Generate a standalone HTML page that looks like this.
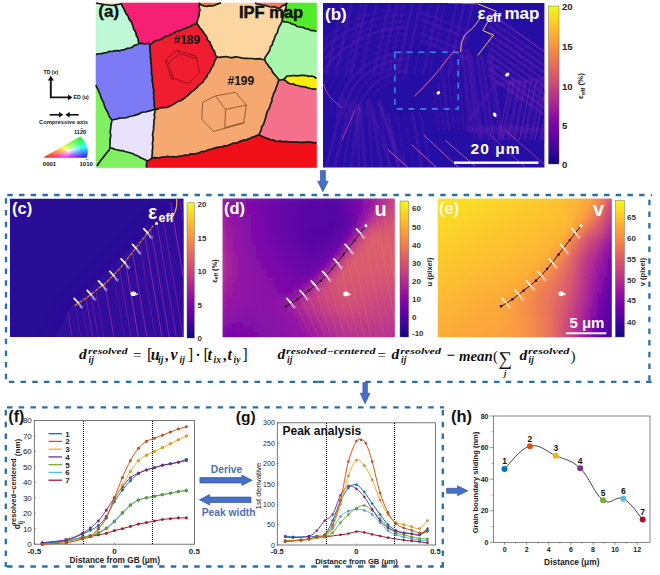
<!DOCTYPE html>
<html><head><meta charset="utf-8"><style>
html,body{margin:0;padding:0;background:#fff;width:660px;height:575px;overflow:hidden}
svg{display:block}
</style></head><body>
<svg width="660" height="575" viewBox="0 0 660 575">
<rect width="660" height="575" fill="#fff"/>
<text x="43.5" y="74" font-family="Liberation Sans, sans-serif" font-weight="bold" font-size="5.2" fill="#111">TD (v)</text>
<polyline points="50.8,79 50.8,97.4 69,97.4" fill="none" stroke="#111" stroke-width="1.9"/>
<polygon points="47.8,80.5 50.8,75.8 53.8,80.5" fill="#111"/>
<polygon points="68,94.6 72.5,97.4 68,100.2" fill="#111"/>
<text x="73.5" y="99.3" font-family="Liberation Sans, sans-serif" font-weight="bold" font-size="5.2" fill="#111">ED (u)</text>
<line x1="49.6" y1="114.8" x2="60" y2="114.8" stroke="#111" stroke-width="1.6"/>
<polygon points="59,112 63.5,114.8 59,117.6" fill="#111"/>
<line x1="69" y1="114.8" x2="78.7" y2="114.8" stroke="#111" stroke-width="1.6"/>
<polygon points="69.7,112 65.2,114.8 69.7,117.6" fill="#111"/>
<text x="39" y="123.5" font-family="Liberation Sans, sans-serif" font-weight="bold" font-size="6.2" fill="#222" textLength="49" lengthAdjust="spacingAndGlyphs">Compressive axis</text>
<text x="74" y="134.2" font-family="Liberation Sans, sans-serif" font-weight="bold" font-size="6" fill="#111" textLength="12.2" lengthAdjust="spacingAndGlyphs">1120</text>
<line x1="80.5" y1="128.6" x2="83.3" y2="128.6" stroke="#222" stroke-width="0.5"/>
<text x="42.8" y="166" font-family="Liberation Sans, sans-serif" font-weight="bold" font-size="6" fill="#111">0001</text>
<text x="79.5" y="166" font-family="Liberation Sans, sans-serif" font-weight="bold" font-size="6" fill="#111">1010</text>
<line x1="85.5" y1="159.7" x2="88.5" y2="159.7" stroke="#222" stroke-width="0.5"/>
<g><polygon points="43.8,157.4 47.375,157.4 46.849999999999994,155.675" fill="#ff1e1e" stroke="#ff1e1e" stroke-width="0.4"/><polygon points="47.375,157.4 50.425,155.675 46.849999999999994,155.675" fill="#ff3030" stroke="#ff3030" stroke-width="0.4"/><polygon points="46.849999999999994,155.675 50.425,155.675 49.9,153.95" fill="#ff4a20" stroke="#ff4a20" stroke-width="0.4"/><polygon points="50.425,155.675 53.475,153.95 49.9,153.95" fill="#ff5833" stroke="#ff5833" stroke-width="0.4"/><polygon points="49.9,153.95 53.475,153.95 52.95,152.225" fill="#ff6e22" stroke="#ff6e22" stroke-width="0.4"/><polygon points="53.475,153.95 56.525000000000006,152.225 52.95,152.225" fill="#ff7d36" stroke="#ff7d36" stroke-width="0.4"/><polygon points="52.95,152.225 56.525000000000006,152.225 56.0,150.5" fill="#ff9324" stroke="#ff9324" stroke-width="0.4"/><polygon points="56.525000000000006,152.225 59.575,150.5 56.0,150.5" fill="#ffa33a" stroke="#ffa33a" stroke-width="0.4"/><polygon points="56.0,150.5 59.575,150.5 59.05,148.775" fill="#ffb927" stroke="#ffb927" stroke-width="0.4"/><polygon points="59.575,150.5 62.625,148.775 59.05,148.775" fill="#ffcd40" stroke="#ffcd40" stroke-width="0.4"/><polygon points="59.05,148.775 62.625,148.775 62.1,147.05" fill="#ffe62b" stroke="#ffe62b" stroke-width="0.4"/><polygon points="62.625,148.775 65.67500000000001,147.05 62.1,147.05" fill="#feff46" stroke="#feff46" stroke-width="0.4"/><polygon points="62.1,147.05 65.67500000000001,147.05 65.15,145.325" fill="#e6ff2b" stroke="#e6ff2b" stroke-width="0.4"/><polygon points="65.67500000000001,147.05 68.72500000000001,145.325 65.15,145.325" fill="#cdff40" stroke="#cdff40" stroke-width="0.4"/><polygon points="65.15,145.325 68.72500000000001,145.325 68.2,143.6" fill="#b9ff27" stroke="#b9ff27" stroke-width="0.4"/><polygon points="68.72500000000001,145.325 71.775,143.6 68.2,143.6" fill="#a3ff3a" stroke="#a3ff3a" stroke-width="0.4"/><polygon points="68.2,143.6 71.775,143.6 71.25,141.875" fill="#93ff24" stroke="#93ff24" stroke-width="0.4"/><polygon points="71.775,143.6 74.825,141.875 71.25,141.875" fill="#7dff36" stroke="#7dff36" stroke-width="0.4"/><polygon points="71.25,141.875 74.825,141.875 74.30000000000001,140.14999999999998" fill="#6eff22" stroke="#6eff22" stroke-width="0.4"/><polygon points="74.825,141.875 77.875,140.14999999999998 74.30000000000001,140.14999999999998" fill="#58ff33" stroke="#58ff33" stroke-width="0.4"/><polygon points="74.30000000000001,140.14999999999998 77.875,140.14999999999998 77.35,138.42499999999998" fill="#4aff20" stroke="#4aff20" stroke-width="0.4"/><polygon points="77.875,140.14999999999998 81.75322094432808,138.42499999999998 77.35,138.42499999999998" fill="#30ff30" stroke="#30ff30" stroke-width="0.4"/><polygon points="77.35,138.42499999999998 81.75322094432808,138.42499999999998 80.4,136.7" fill="#1eff1e" stroke="#1eff1e" stroke-width="0.4"/><polygon points="47.375,157.4 50.949999999999996,157.4 50.425,155.675" fill="#ff204a" stroke="#ff204a" stroke-width="0.4"/><polygon points="50.949999999999996,157.4 54.0,155.675 50.425,155.675" fill="#ff3358" stroke="#ff3358" stroke-width="0.4"/><polygon points="50.425,155.675 54.0,155.675 53.475,153.95" fill="#ff4f4f" stroke="#ff4f4f" stroke-width="0.4"/><polygon points="54.0,155.675 57.05,153.95 53.475,153.95" fill="#ff5e5e" stroke="#ff5e5e" stroke-width="0.4"/><polygon points="53.475,153.95 57.05,153.95 56.525000000000006,152.225" fill="#ff7654" stroke="#ff7654" stroke-width="0.4"/><polygon points="57.05,153.95 60.099999999999994,152.225 56.525000000000006,152.225" fill="#ff8766" stroke="#ff8766" stroke-width="0.4"/><polygon points="56.525000000000006,152.225 60.099999999999994,152.225 59.575,150.5" fill="#ff9e5b" stroke="#ff9e5b" stroke-width="0.4"/><polygon points="60.099999999999994,152.225 63.15,150.5 59.575,150.5" fill="#ffb26e" stroke="#ffb26e" stroke-width="0.4"/><polygon points="59.575,150.5 63.15,150.5 62.625,148.775" fill="#ffcb64" stroke="#ffcb64" stroke-width="0.4"/><polygon points="63.15,150.5 66.2,148.775 62.625,148.775" fill="#ffe27a" stroke="#ffe27a" stroke-width="0.4"/><polygon points="62.625,148.775 66.2,148.775 65.67500000000001,147.05" fill="#ffff6e" stroke="#ffff6e" stroke-width="0.4"/><polygon points="66.2,148.775 69.25,147.05 65.67500000000001,147.05" fill="#e2ff7a" stroke="#e2ff7a" stroke-width="0.4"/><polygon points="65.67500000000001,147.05 69.25,147.05 68.72500000000001,145.325" fill="#cbff64" stroke="#cbff64" stroke-width="0.4"/><polygon points="69.25,147.05 72.3,145.325 68.72500000000001,145.325" fill="#b2ff6e" stroke="#b2ff6e" stroke-width="0.4"/><polygon points="68.72500000000001,145.325 72.3,145.325 71.775,143.6" fill="#9eff5b" stroke="#9eff5b" stroke-width="0.4"/><polygon points="72.3,145.325 75.35,143.6 71.775,143.6" fill="#87ff66" stroke="#87ff66" stroke-width="0.4"/><polygon points="71.775,143.6 75.35,143.6 74.825,141.875" fill="#76ff54" stroke="#76ff54" stroke-width="0.4"/><polygon points="75.35,143.6 78.4,141.875 74.825,141.875" fill="#5eff5e" stroke="#5eff5e" stroke-width="0.4"/><polygon points="74.825,141.875 78.4,141.875 77.875,140.14999999999998" fill="#4fff4f" stroke="#4fff4f" stroke-width="0.4"/><polygon points="78.4,141.875 83.05,140.14999999999998 77.875,140.14999999999998" fill="#33ff58" stroke="#33ff58" stroke-width="0.4"/><polygon points="77.875,140.14999999999998 83.05,140.14999999999998 81.75322094432808,138.42499999999998" fill="#20ff4a" stroke="#20ff4a" stroke-width="0.4"/><polygon points="50.949999999999996,157.4 54.525,157.4 54.0,155.675" fill="#ff226e" stroke="#ff226e" stroke-width="0.4"/><polygon points="54.525,157.4 57.575,155.675 54.0,155.675" fill="#ff367d" stroke="#ff367d" stroke-width="0.4"/><polygon points="54.0,155.675 57.575,155.675 57.05,153.95" fill="#ff5476" stroke="#ff5476" stroke-width="0.4"/><polygon points="57.575,155.675 60.625,153.95 57.05,153.95" fill="#ff6687" stroke="#ff6687" stroke-width="0.4"/><polygon points="57.05,153.95 60.625,153.95 60.099999999999994,152.225" fill="#ff8080" stroke="#ff8080" stroke-width="0.4"/><polygon points="60.625,153.95 63.675,152.225 60.099999999999994,152.225" fill="#ff9393" stroke="#ff9393" stroke-width="0.4"/><polygon points="60.099999999999994,152.225 63.675,152.225 63.15,150.5" fill="#ffad8c" stroke="#ffad8c" stroke-width="0.4"/><polygon points="63.675,152.225 66.725,150.5 63.15,150.5" fill="#ffc4a2" stroke="#ffc4a2" stroke-width="0.4"/><polygon points="63.15,150.5 66.725,150.5 66.2,148.775" fill="#ffe19b" stroke="#ffe19b" stroke-width="0.4"/><polygon points="66.725,150.5 69.775,148.775 66.2,148.775" fill="#ffffb6" stroke="#ffffb6" stroke-width="0.4"/><polygon points="66.2,148.775 69.775,148.775 69.25,147.05" fill="#e1ff9b" stroke="#e1ff9b" stroke-width="0.4"/><polygon points="69.775,148.775 72.825,147.05 69.25,147.05" fill="#c4ffa2" stroke="#c4ffa2" stroke-width="0.4"/><polygon points="69.25,147.05 72.825,147.05 72.3,145.325" fill="#adff8c" stroke="#adff8c" stroke-width="0.4"/><polygon points="72.825,147.05 75.875,145.325 72.3,145.325" fill="#93ff93" stroke="#93ff93" stroke-width="0.4"/><polygon points="72.3,145.325 75.875,145.325 75.35,143.6" fill="#80ff80" stroke="#80ff80" stroke-width="0.4"/><polygon points="75.875,145.325 78.92500000000001,143.6 75.35,143.6" fill="#66ff87" stroke="#66ff87" stroke-width="0.4"/><polygon points="75.35,143.6 78.92500000000001,143.6 78.4,141.875" fill="#54ff76" stroke="#54ff76" stroke-width="0.4"/><polygon points="78.92500000000001,143.6 84.23774169979696,141.875 78.4,141.875" fill="#36ff7d" stroke="#36ff7d" stroke-width="0.4"/><polygon points="78.4,141.875 84.23774169979696,141.875 83.05,140.14999999999998" fill="#22ff6e" stroke="#22ff6e" stroke-width="0.4"/><polygon points="54.525,157.4 58.099999999999994,157.4 57.575,155.675" fill="#ff2493" stroke="#ff2493" stroke-width="0.4"/><polygon points="58.099999999999994,157.4 61.14999999999999,155.675 57.575,155.675" fill="#ff3aa3" stroke="#ff3aa3" stroke-width="0.4"/><polygon points="57.575,155.675 61.14999999999999,155.675 60.625,153.95" fill="#ff5b9e" stroke="#ff5b9e" stroke-width="0.4"/><polygon points="61.14999999999999,155.675 64.19999999999999,153.95 60.625,153.95" fill="#ff6eb2" stroke="#ff6eb2" stroke-width="0.4"/><polygon points="60.625,153.95 64.19999999999999,153.95 63.675,152.225" fill="#ff8cad" stroke="#ff8cad" stroke-width="0.4"/><polygon points="64.19999999999999,153.95 67.25,152.225 63.675,152.225" fill="#ffa2c4" stroke="#ffa2c4" stroke-width="0.4"/><polygon points="63.675,152.225 67.25,152.225 66.725,150.5" fill="#ffc0c0" stroke="#ffc0c0" stroke-width="0.4"/><polygon points="67.25,152.225 70.3,150.5 66.725,150.5" fill="#ffdcdc" stroke="#ffdcdc" stroke-width="0.4"/><polygon points="66.725,150.5 70.3,150.5 69.775,148.775" fill="#ffffd9" stroke="#ffffd9" stroke-width="0.4"/><polygon points="70.3,150.5 73.35,148.775 69.775,148.775" fill="#dcffdc" stroke="#dcffdc" stroke-width="0.4"/><polygon points="69.775,148.775 73.35,148.775 72.825,147.05" fill="#c0ffc0" stroke="#c0ffc0" stroke-width="0.4"/><polygon points="73.35,148.775 76.4,147.05 72.825,147.05" fill="#a2ffc4" stroke="#a2ffc4" stroke-width="0.4"/><polygon points="72.825,147.05 76.4,147.05 75.875,145.325" fill="#8cffad" stroke="#8cffad" stroke-width="0.4"/><polygon points="76.4,147.05 79.45,145.325 75.875,145.325" fill="#6effb2" stroke="#6effb2" stroke-width="0.4"/><polygon points="75.875,145.325 79.45,145.325 78.92500000000001,143.6" fill="#5bff9e" stroke="#5bff9e" stroke-width="0.4"/><polygon points="79.45,145.325 85.2712812921102,143.6 78.92500000000001,143.6" fill="#3affa3" stroke="#3affa3" stroke-width="0.4"/><polygon points="78.92500000000001,143.6 85.2712812921102,143.6 84.23774169979696,141.875" fill="#24ff93" stroke="#24ff93" stroke-width="0.4"/><polygon points="58.099999999999994,157.4 61.675,157.4 61.14999999999999,155.675" fill="#ff27b9" stroke="#ff27b9" stroke-width="0.4"/><polygon points="61.675,157.4 64.725,155.675 61.14999999999999,155.675" fill="#ff40cd" stroke="#ff40cd" stroke-width="0.4"/><polygon points="61.14999999999999,155.675 64.725,155.675 64.19999999999999,153.95" fill="#ff64cb" stroke="#ff64cb" stroke-width="0.4"/><polygon points="64.725,155.675 67.775,153.95 64.19999999999999,153.95" fill="#ff7ae2" stroke="#ff7ae2" stroke-width="0.4"/><polygon points="64.19999999999999,153.95 67.775,153.95 67.25,152.225" fill="#ff9be1" stroke="#ff9be1" stroke-width="0.4"/><polygon points="67.775,153.95 70.825,152.225 67.25,152.225" fill="#ffb6fe" stroke="#ffb6fe" stroke-width="0.4"/><polygon points="67.25,152.225 70.825,152.225 70.3,150.5" fill="#fed9ff" stroke="#fed9ff" stroke-width="0.4"/><polygon points="70.825,152.225 73.875,150.5 70.3,150.5" fill="#dcdcff" stroke="#dcdcff" stroke-width="0.4"/><polygon points="70.3,150.5 73.875,150.5 73.35,148.775" fill="#d9ffff" stroke="#d9ffff" stroke-width="0.4"/><polygon points="73.875,150.5 76.925,148.775 73.35,148.775" fill="#b6ffff" stroke="#b6ffff" stroke-width="0.4"/><polygon points="73.35,148.775 76.925,148.775 76.4,147.05" fill="#9bffe1" stroke="#9bffe1" stroke-width="0.4"/><polygon points="76.925,148.775 79.975,147.05 76.4,147.05" fill="#7affe2" stroke="#7affe2" stroke-width="0.4"/><polygon points="76.4,147.05 79.975,147.05 79.45,145.325" fill="#64ffcb" stroke="#64ffcb" stroke-width="0.4"/><polygon points="79.975,147.05 86.11596264412502,145.325 79.45,145.325" fill="#40ffcd" stroke="#40ffcd" stroke-width="0.4"/><polygon points="79.45,145.325 86.11596264412502,145.325 85.2712812921102,143.6" fill="#27ffb9" stroke="#27ffb9" stroke-width="0.4"/><polygon points="61.675,157.4 65.25,157.4 64.725,155.675" fill="#ff2be6" stroke="#ff2be6" stroke-width="0.4"/><polygon points="65.25,157.4 68.3,155.675 64.725,155.675" fill="#fe46ff" stroke="#fe46ff" stroke-width="0.4"/><polygon points="64.725,155.675 68.3,155.675 67.775,153.95" fill="#ff6efe" stroke="#ff6efe" stroke-width="0.4"/><polygon points="68.3,155.675 71.35,153.95 67.775,153.95" fill="#e27aff" stroke="#e27aff" stroke-width="0.4"/><polygon points="67.775,153.95 71.35,153.95 70.825,152.225" fill="#e19bff" stroke="#e19bff" stroke-width="0.4"/><polygon points="71.35,153.95 74.4,152.225 70.825,152.225" fill="#c4a2ff" stroke="#c4a2ff" stroke-width="0.4"/><polygon points="70.825,152.225 74.4,152.225 73.875,150.5" fill="#c0c0ff" stroke="#c0c0ff" stroke-width="0.4"/><polygon points="74.4,152.225 77.45,150.5 73.875,150.5" fill="#a2c4ff" stroke="#a2c4ff" stroke-width="0.4"/><polygon points="73.875,150.5 77.45,150.5 76.925,148.775" fill="#9be1ff" stroke="#9be1ff" stroke-width="0.4"/><polygon points="77.45,150.5 80.5,148.775 76.925,148.775" fill="#7ae2ff" stroke="#7ae2ff" stroke-width="0.4"/><polygon points="76.925,148.775 80.5,148.775 79.975,147.05" fill="#6effff" stroke="#6effff" stroke-width="0.4"/><polygon points="80.5,148.775 86.75000000000001,147.05 79.975,147.05" fill="#46ffff" stroke="#46ffff" stroke-width="0.4"/><polygon points="79.975,147.05 86.75000000000001,147.05 86.11596264412502,145.325" fill="#2bffe6" stroke="#2bffe6" stroke-width="0.4"/><polygon points="65.25,157.4 68.825,157.4 68.3,155.675" fill="#e62bff" stroke="#e62bff" stroke-width="0.4"/><polygon points="68.825,157.4 71.875,155.675 68.3,155.675" fill="#cd40ff" stroke="#cd40ff" stroke-width="0.4"/><polygon points="68.3,155.675 71.875,155.675 71.35,153.95" fill="#cb64ff" stroke="#cb64ff" stroke-width="0.4"/><polygon points="71.875,155.675 74.92500000000001,153.95 71.35,153.95" fill="#b26eff" stroke="#b26eff" stroke-width="0.4"/><polygon points="71.35,153.95 74.92500000000001,153.95 74.4,152.225" fill="#ad8cff" stroke="#ad8cff" stroke-width="0.4"/><polygon points="74.92500000000001,153.95 77.97500000000001,152.225 74.4,152.225" fill="#9393ff" stroke="#9393ff" stroke-width="0.4"/><polygon points="74.4,152.225 77.97500000000001,152.225 77.45,150.5" fill="#8cadff" stroke="#8cadff" stroke-width="0.4"/><polygon points="77.97500000000001,152.225 81.025,150.5 77.45,150.5" fill="#6eb2ff" stroke="#6eb2ff" stroke-width="0.4"/><polygon points="77.45,150.5 81.025,150.5 80.5,148.775" fill="#64cbff" stroke="#64cbff" stroke-width="0.4"/><polygon points="81.025,150.5 87.16596264412502,148.775 80.5,148.775" fill="#40cdff" stroke="#40cdff" stroke-width="0.4"/><polygon points="80.5,148.775 87.16596264412502,148.775 86.75000000000001,147.05" fill="#2be6ff" stroke="#2be6ff" stroke-width="0.4"/><polygon points="68.825,157.4 72.4,157.4 71.875,155.675" fill="#b927ff" stroke="#b927ff" stroke-width="0.4"/><polygon points="72.4,157.4 75.45,155.675 71.875,155.675" fill="#a33aff" stroke="#a33aff" stroke-width="0.4"/><polygon points="71.875,155.675 75.45,155.675 74.92500000000001,153.95" fill="#9e5bff" stroke="#9e5bff" stroke-width="0.4"/><polygon points="75.45,155.675 78.5,153.95 74.92500000000001,153.95" fill="#8766ff" stroke="#8766ff" stroke-width="0.4"/><polygon points="74.92500000000001,153.95 78.5,153.95 77.97500000000001,152.225" fill="#8080ff" stroke="#8080ff" stroke-width="0.4"/><polygon points="78.5,153.95 81.55000000000001,152.225 77.97500000000001,152.225" fill="#6687ff" stroke="#6687ff" stroke-width="0.4"/><polygon points="77.97500000000001,152.225 81.55000000000001,152.225 81.025,150.5" fill="#5b9eff" stroke="#5b9eff" stroke-width="0.4"/><polygon points="81.55000000000001,152.225 87.37128129211021,150.5 81.025,150.5" fill="#3aa3ff" stroke="#3aa3ff" stroke-width="0.4"/><polygon points="81.025,150.5 87.37128129211021,150.5 87.16596264412502,148.775" fill="#27b9ff" stroke="#27b9ff" stroke-width="0.4"/><polygon points="72.4,157.4 75.975,157.4 75.45,155.675" fill="#9324ff" stroke="#9324ff" stroke-width="0.4"/><polygon points="75.975,157.4 79.02499999999999,155.675 75.45,155.675" fill="#7d36ff" stroke="#7d36ff" stroke-width="0.4"/><polygon points="75.45,155.675 79.02499999999999,155.675 78.5,153.95" fill="#7654ff" stroke="#7654ff" stroke-width="0.4"/><polygon points="79.02499999999999,155.675 82.07499999999999,153.95 78.5,153.95" fill="#5e5eff" stroke="#5e5eff" stroke-width="0.4"/><polygon points="78.5,153.95 82.07499999999999,153.95 81.55000000000001,152.225" fill="#5476ff" stroke="#5476ff" stroke-width="0.4"/><polygon points="82.07499999999999,153.95 87.38774169979695,152.225 81.55000000000001,152.225" fill="#367dff" stroke="#367dff" stroke-width="0.4"/><polygon points="81.55000000000001,152.225 87.38774169979695,152.225 87.37128129211021,150.5" fill="#2493ff" stroke="#2493ff" stroke-width="0.4"/><polygon points="75.975,157.4 79.55000000000001,157.4 79.02499999999999,155.675" fill="#6e22ff" stroke="#6e22ff" stroke-width="0.4"/><polygon points="79.55000000000001,157.4 82.60000000000001,155.675 79.02499999999999,155.675" fill="#5833ff" stroke="#5833ff" stroke-width="0.4"/><polygon points="79.02499999999999,155.675 82.60000000000001,155.675 82.07499999999999,153.95" fill="#4f4fff" stroke="#4f4fff" stroke-width="0.4"/><polygon points="82.60000000000001,155.675 87.25,153.95 82.07499999999999,153.95" fill="#3358ff" stroke="#3358ff" stroke-width="0.4"/><polygon points="82.07499999999999,153.95 87.25,153.95 87.38774169979695,152.225" fill="#226eff" stroke="#226eff" stroke-width="0.4"/><polygon points="79.55000000000001,157.4 83.125,157.4 82.60000000000001,155.675" fill="#4a20ff" stroke="#4a20ff" stroke-width="0.4"/><polygon points="83.125,157.4 87.00322094432806,155.675 82.60000000000001,155.675" fill="#3030ff" stroke="#3030ff" stroke-width="0.4"/><polygon points="82.60000000000001,155.675 87.00322094432806,155.675 87.25,153.95" fill="#204aff" stroke="#204aff" stroke-width="0.4"/><polygon points="83.125,157.4 86.7,157.4 87.00322094432806,155.675" fill="#1e1eff" stroke="#1e1eff" stroke-width="0.4"/></g>
<rect x="96" y="3" width="220.5" height="164.5" fill="rgb(190,248,214)"/>
<polygon points="96,3 121,3 121,4 112,5.5 104,4.5 96,5" fill="rgb(250, 212, 175)" stroke="rgb(250, 212, 175)" stroke-width="0.6"/>
<polygon points="96,5 104,4.5 112,5.5 121,4 121.87908072049774,5.060459639751128 122.76211305661272,7.11894347169364 124,9 125.05140356554148,11.49443605778582 126.24409679958418,13.908135162142374 128,16 128.76397101083754,18.118014494581235 129.58448714349785,20.207756428251074 131.46339758370613,21.768301208146937 132,24 133.0345558569842,26.23464184134035 133.55434106303343,28.698070638651807 134.85025186618222,30.81655472614123 136,33 136.32597703421686,35.74614941879518 137.9091029005697,38.133113456980084 138.28271493640887,40.86565287531175 139,43.5 136.807779000376,44.740558000752 134.32229706620748,45.39459413241497 132.39617699187295,47.167353983745876 130,48 127.2425194177063,48.30341100415856 124.7375593440155,49.616904042728656 122,50 119.56793694713244,50.82791298088294 116.96401714572448,50.51011430482987 114.45377752732908,50.81685018219389 112,51.5 109.2346331133222,51.47359882660735 106.68165583119013,52.57994221079176 104,53 101.34220442043856,53.54731246456128 98.61529257310642,53.72600483434533 96,54.5" fill="rgb(190, 248, 214)" stroke="rgb(190, 248, 214)" stroke-width="0.6"/>
<polygon points="121,3 200,3 199,5 199.28573823009393,7.542852353981213 200,10 199.02816210111365,12.921360350185608 199,16 197.95676461989396,18.399581676416165 197.31162524480692,20.90532228750407 197,23.5 194.6946576919124,24.232691207774742 192.4197789671567,25.043717344117216 190.40698121878833,26.528665991169962 188,27 185.6906053990656,28.47651349766397 183.07788290339406,29.194707258485174 180.68015181283,30.450379532075 178,31 175.6656205832857,31.704365283228462 173.68094545258006,33.17807999567613 171.4178538655949,34.03927850430876 169.41005704561348,35.462125500349714 167,36 164.65587159642567,36.788211091957784 162.666374030461,38.37434156853721 160.4655227460434,39.484926178597654 158,40 155.8600352417717,40.72007048354341 153.8570714385827,41.71414287716537 152.18270697640128,43.365413952802555 150,44 147.5,43.451952348422786 145,44 142.0341010354989,43.340787574013255 139,43.5 138.28271493640887,40.86565287531175 137.9091029005697,38.133113456980084 136.32597703421686,35.74614941879518 136,33 134.85025186618222,30.81655472614123 133.55434106303343,28.698070638651807 133.0345558569842,26.23464184134035 132,24 131.46339758370613,21.768301208146937 129.58448714349785,20.207756428251074 128.76397101083754,18.118014494581235 128,16 126.24409679958418,13.908135162142374 125.05140356554148,11.49443605778582 124,9 122.76211305661272,7.11894347169364 121.87908072049774,5.060459639751128 121,3" fill="rgb(245, 32, 115)" stroke="rgb(245, 32, 115)" stroke-width="0.6"/>
<polygon points="96,54.5 98.61529257310642,53.72600483434533 101.34220442043856,53.54731246456128 104,53 106.68165583119013,52.57994221079176 109.2346331133222,51.47359882660735 112,51.5 114.45377752732908,50.81685018219389 116.96401714572448,50.51011430482987 119.56793694713244,50.82791298088294 122,50 124.7375593440155,49.616904042728656 127.2425194177063,48.30341100415856 130,48 132.39617699187295,47.167353983745876 134.32229706620748,45.39459413241497 136.807779000376,44.740558000752 139,43.5 142.0341010354989,43.340787574013255 145,44 147.5,43.451952348422786 150,44 149.7856996852716,46.2142863779422 149.8979239996306,48.41373072728952 150.08616436619852,50.609719801536436 150.21976580680396,52.80819246332709 150.5,55 150.3816966212803,57.51899800302576 150.98322566885832,59.99000717763167 150.77558162320514,62.514961225119656 151.40719548936065,64.98396474515373 151.34904471166018,67.49895257477822 151.5,70 151.4547503554673,72.52952496445327 151.79107079539372,75.02089292046062 152.4756373692143,77.47743626307857 152.01232997574073,80.04876700242593 152.58615581879909,82.5163844181201 153,85 153.07813627377465,87.5059020261928 153.86940466168969,89.9642619114429 153.44842450384422,92.50343836641039 153.94029775488875,94.98175792745187 153.64494429521847,97.51255926920766 154,100 154.2905431154249,102.37073230363949 154.15356637802475,104.78646669705003 154.58871047053535,107.14197784520681 155,109.5 152.78069042664038,109.91503787721756 150.64035982963793,110.67758325040695 148.41970872712284,111.08671839934051 146.26834989662885,111.80073954516698 144,112 141.48584475852704,112.45753427558115 139.28012856407753,113.84038569223264 136.87641805985615,114.62925417956845 134.46658749355908,115.3997624806772 132,116 129.49508980623096,116.47544903115485 127.09435536753163,117.47177683765817 124.57261833544706,117.8630916772353 122,118 119.42798417037022,118.13992085185114 117.00632946956965,119.03164734784825 114.50391317849224,119.51956589246119 112,120 110.23066263622492,117.9158118269191 108.87860452604623,115.59317836606881 108,113 106.81068506515628,110.83413997104165 105.62816790809005,108.66525870751553 104.65533994076672,106.40318224854812 104,104 103.15315253974086,101.43873898410367 101.6648129184443,99.13407483262229 100.7571011312052,96.59715954751792 100,94 98.85518885018797,91.81436051102757 98.15290538261718,89.43204205217015 96.70082857003526,87.38296507998433 96,85" fill="rgb(125, 122, 246)" stroke="rgb(125, 122, 246)" stroke-width="0.6"/>
<polygon points="150,44 152.18270697640128,43.365413952802555 153.8570714385827,41.71414287716537 155.8600352417717,40.72007048354341 158,40 160.4655227460434,39.484926178597654 162.666374030461,38.37434156853721 164.65587159642567,36.788211091957784 167,36 169.41005704561348,35.462125500349714 171.4178538655949,34.03927850430876 173.68094545258006,33.17807999567613 175.6656205832857,31.704365283228462 178,31 180.68015181283,30.450379532075 183.07788290339406,29.194707258485174 185.6906053990656,28.47651349766397 188,27 190.40698121878833,26.528665991169962 192.4197789671567,25.043717344117216 194.6946576919124,24.232691207774742 197,23.5 198.58474402922928,25.729684080080034 200.04884071812572,28.05217380656997 202,30 203.29135551061856,31.974152805863394 204.5729846614637,33.95438458658519 206.16443546604575,35.740977833721416 207,38 207.84991894685712,40.47226725174605 209.94932266009516,42.250376299947135 210.7561884930559,44.74656194830227 212,47 212.66702961356194,49.16648519321903 214.36346926320724,50.81826536839638 214.77207234459905,53.11396382770048 215.55745672863011,55.221271635684936 217,57 215.87170405889947,58.93585202944974 214.7166360701497,60.858318035074845 214,63 213.22035764000657,65.52684548666994 211.7310558454071,67.69886125603689 210.5,70 209.61369714406445,72.21597706487634 207.7419736023548,73.83744412924435 207.0432586853923,76.16659408292263 205.6774551177467,78.09328559445323 203.94639312653112,79.79961458597883 203.2,82.1 201.00463136384687,83.50857932109587 198.97491417403214,85.10619617507197 197.4136815884562,87.23843663623826 195.4485842369398,88.90979612921367 193.5,90.6 191.61352241302484,91.78873856234468 190.0572765494152,93.38941566620717 188.45806825879436,94.93650046421035 186.65190997875462,96.22543115170126 185.10035680677314,97.83196202553292 183.2131985074191,99.01985145181732 181.4,100.3 179.1264116852201,100.83615670377348 177.10713382736088,101.88093432138844 175.23754149272042,103.22508298544082 173.26699997686777,104.36733328706889 171.31279127713796,105.54224922094261 169.2,106.4 166.92972791281625,107.35821603074982 164.5200861546943,107.67802905268566 162.03383408176387,107.64691740678943 159.64713882901614,108.0718402275364 157.39920163086762,109.13236445967317 155,109.5 154.58871047053535,107.14197784520681 154.15356637802475,104.78646669705003 154.2905431154249,102.37073230363949 154,100 153.64494429521847,97.51255926920766 153.94029775488875,94.98175792745187 153.44842450384422,92.50343836641039 153.86940466168969,89.9642619114429 153.07813627377465,87.5059020261928 153,85 152.58615581879909,82.5163844181201 152.01232997574073,80.04876700242593 152.4756373692143,77.47743626307857 151.79107079539372,75.02089292046062 151.4547503554673,72.52952496445327 151.5,70 151.34904471166018,67.49895257477822 151.40719548936065,64.98396474515373 150.77558162320514,62.514961225119656 150.98322566885832,59.99000717763167 150.3816966212803,57.51899800302576 150.5,55 150.21976580680396,52.80819246332709 150.08616436619852,50.609719801536436 149.8979239996306,48.41373072728952 149.7856996852716,46.2142863779422 150,44" fill="rgb(240, 28, 48)" stroke="rgb(240, 28, 48)" stroke-width="0.6"/>
<polygon points="199,3 201,5 203.97249136756437,5.860034529742545 207,6.5 209.25607787726608,5.625878474195829 211.69434673984796,6.027093845602521 214,5.5 216.27336002928095,4.4987414153199605 218.59635679564772,3.6364656944802767 221,3 255,3 257.2370793241383,4.003555698849233 259.6724853411178,4.312967972754503 262,5 264.53973853856195,5.3013073071903785 267.0040517152532,5.9797414237341355 269.45584718847323,6.720764057633865 272,7 274.72710866600784,6.8497973386043425 277.2685116002935,8.185240530985455 280,8 282.02827169933954,5.906247045742036 284.8263761149789,4.890259894303833 287,3 285.9685609756799,5.229112659718079 286.1763952331337,7.812303399942957 285,10 283.6997302244848,12.899910074828274 283,16 282.6443386088066,18.528867721761323 282,21 281.14596081077184,23.31487147145415 279.97516991007654,25.488964404478466 278.72296586056683,27.626873715807488 278,30 277.4003051526459,32.66012206105837 275.74630501394205,34.89852200557683 274.6964351537419,37.37857406149676 274,40 272.6384378948686,42.08930573105272 272.46577455486556,44.70701091327359 270.55188490678455,46.55083773634869 270,49 269.29836034543155,51.30866494284511 267.95518476153643,53.28128725604289 266.5920080189581,55.243432771835195 265.1926097052139,57.18660508368345 264.5,59.5 261.98596129056415,59.47548386794786 259.53721050679843,58.6348686650193 257.00396002340045,58.85049970749424 254.4835481943156,58.90564757105508 252,58.5 249.5832646735902,58.50082391691732 247.17053758581363,58.45354897023623 244.76146821407073,58.362381431151526 242.36792408610114,58.08491096678643 240,57.5 237.60866298522873,57.192088354510254 235.22274690864853,56.75407419243502 232.78450021595847,57.571994816996714 230.37932657872534,57.596162110592196 228,57 225.8,56.464630980337304 223.6,56.96311618450308 221.4,57.103523176647656 219.2,57.288929735760284 217,57 215.55745672863011,55.221271635684936 214.77207234459905,53.11396382770048 214.36346926320724,50.81826536839638 212.66702961356194,49.16648519321903 212,47 210.7561884930559,44.74656194830227 209.94932266009516,42.250376299947135 207.84991894685712,40.47226725174605 207,38 206.16443546604575,35.740977833721416 204.5729846614637,33.95438458658519 203.29135551061856,31.974152805863394 202,30 200.04884071812572,28.05217380656997 198.58474402922928,25.729684080080034 197,23.5 197,23.5 197.31162524480692,20.90532228750407 197.95676461989396,18.399581676416165 199,16 199.02816210111365,12.921360350185608 200,10 199.28573823009393,7.542852353981213 199,5" fill="rgb(252, 214, 160)" stroke="rgb(252, 214, 160)" stroke-width="0.6"/>
<polygon points="199,3 201,5 203.97249136756437,5.860034529742545 207,6.5 209.25607787726608,5.625878474195829 211.69434673984796,6.027093845602521 214,5.5 216.27336002928095,4.4987414153199605 218.59635679564772,3.6364656944802767 221,3 199,3" fill="rgb(232, 122, 52)" stroke="rgb(232, 122, 52)" stroke-width="0.6"/>
<polygon points="255,3 257.2370793241383,4.003555698849233 259.6724853411178,4.312967972754503 262,5 264.53973853856195,5.3013073071903785 267.0040517152532,5.9797414237341355 269.45584718847323,6.720764057633865 272,7 274.72710866600784,6.8497973386043425 277.2685116002935,8.185240530985455 280,8 282.02827169933954,5.906247045742036 284.8263761149789,4.890259894303833 287,3" fill="rgb(240, 118, 100)" stroke="rgb(240, 118, 100)" stroke-width="0.6"/>
<polygon points="287,3 316.5,3 316.5,31.5 314.4233012329328,30.71077580802859 312.11279712936795,30.716489760148928 309.99164231167435,30.078416140307283 308,29 305.26510562363103,28.606244172142425 302.7476314036265,27.342807718827384 300,27 297.15752656715836,26.468818043133172 294.78990697895455,24.671359167232385 292,24 289.6432717044291,22.77242765190311 287.1551718162788,21.98276061240383 284.4751815585427,21.83272813819101 282,21 282.6443386088066,18.528867721761323 283,16 283.6997302244848,12.899910074828274 285,10 286.1763952331337,7.812303399942957 285.9685609756799,5.229112659718079 287,3" fill="rgb(82, 236, 42)" stroke="rgb(82, 236, 42)" stroke-width="0.6"/>
<polygon points="282,21 284.4751815585427,21.83272813819101 287.1551718162788,21.98276061240383 289.6432717044291,22.77242765190311 292,24 294.78990697895455,24.671359167232385 297.15752656715836,26.468818043133172 300,27 302.7476314036265,27.342807718827384 305.26510562363103,28.606244172142425 308,29 309.99164231167435,30.078416140307283 312.11279712936795,30.716489760148928 314.4233012329328,30.71077580802859 316.5,31.5 316.5,78.5 314,76.7 311.4445442730514,76.01909968590378 308.7483573405899,76.38363118418957 306.2158690573688,75.53211557383194 303.6,75.3 300.7304043686534,75.2407211854288 297.8771960719103,75.88609775880836 295,75.5 292.33208994496476,75.64677245276948 289.6757401423177,75.97850894374956 287,76 285.41192698525447,77.9119269852545 283.5,79.5 281.2591885616767,79.83269705509005 279,80 277.56359625068677,77.95230281198494 276,76 273.76088162581453,73.69129469934838 272,71 271.11096773840086,68.70379928551057 269.2916047498265,67.02781905567123 268,65 265.8899804243045,62.4791033663517 264.5,59.5 265.1926097052139,57.18660508368345 266.5920080189581,55.243432771835195 267.95518476153643,53.28128725604289 269.29836034543155,51.30866494284511 270,49 270.55188490678455,46.55083773634869 272.46577455486556,44.70701091327359 272.6384378948686,42.08930573105272 274,40 274.6964351537419,37.37857406149676 275.74630501394205,34.89852200557683 277.4003051526459,32.66012206105837 278,30 278.72296586056683,27.626873715807488 279.97516991007654,25.488964404478466 281.14596081077184,23.31487147145415 282,21" fill="rgb(168, 247, 172)" stroke="rgb(168, 247, 172)" stroke-width="0.6"/>
<polygon points="283.5,79.5 285.41192698525447,77.9119269852545 287,76 289.6757401423177,75.97850894374956 292.33208994496476,75.64677245276948 295,75.5 297.8771960719103,75.88609775880836 300.7304043686534,75.2407211854288 303.6,75.3 306.2158690573688,75.53211557383194 308.7483573405899,76.38363118418957 311.4445442730514,76.01909968590378 314,76.7 316.5,78.5 316.5,89 313.5382749878296,89.04750633823572 310.65780608873877,88.50590585664382 307.8,87.8 305.403694755867,86.99621364891476 302.9168846027291,86.57805691011058 300.4010849743199,86.28342054420227 298,85.5 295.4826801866224,85.23320087590501 293.26913271940106,83.78776504872388 290.6343974201198,83.9765380099352 288.3,83 286.0319194997009,81.0690818289816 283.5,79.5" fill="rgb(250, 236, 12)" stroke="rgb(250, 236, 12)" stroke-width="0.6"/>
<polygon points="279,80 281.2591885616767,79.83269705509005 283.5,79.5 286.0319194997009,81.0690818289816 288.3,83 290.6343974201198,83.9765380099352 293.26913271940106,83.78776504872388 295.4826801866224,85.23320087590501 298,85.5 300.4010849743199,86.28342054420227 302.9168846027291,86.57805691011058 305.403694755867,86.99621364891476 307.8,87.8 310.65780608873877,88.50590585664382 313.5382749878296,89.04750633823572 316.5,89 316.5,142.5 314.1920319780891,142.91816125987455 311.9008490004025,142.37118247685456 309.6047355405545,142.10770641811675 307.30886697559737,141.83014890315107 305,142.3 302.4980026960853,142.34986519573488 299.9946106996953,142.4694650152376 297.5030565223344,141.99717388327878 295.0007844348356,142.06077825822004 292.49934304620785,142.08284768960613 290,142 287.5148667073309,141.6103327233697 285.01199112857387,141.48679973805878 282.4975489266616,141.53676610007653 280.01458371202233,141.11457765299824 277.48094639125355,141.45247079786313 275,141 272.88281664426495,139.85155006720515 270.41530770188837,139.75407689433496 268.21387442575093,138.85837672274715 266,138 263.60388999697415,137.14647889594926 261.3443258216744,135.97435086053756 259,135 259.8896585765959,132.45586343063837 261.2112218728698,130.08448874914794 261.5007509112661,127.30030036450643 263,125 264.11026986166735,122.87008995388912 264.7424290318485,120.58080967728283 265.51541673108676,118.33847224369558 266,116 266.7120812702303,113.38483250809213 267.5554653735917,110.82218614943667 269.23103621473496,108.59241448589398 270,106 270.7156895927271,103.48970687781814 272.0128933458161,101.15386800374482 271.9056750187164,98.39670250561493 273,96 273.70985319215356,93.22452828039093 275.2130959654982,90.74657765372851 276,88 277.05822619438095,85.35516815622618 277.8746673916169,82.61966693852301 279,80" fill="rgb(245, 112, 138)" stroke="rgb(245, 112, 138)" stroke-width="0.6"/>
<polygon points="217,57 215.87170405889947,58.93585202944974 214.7166360701497,60.858318035074845 214,63 213.22035764000657,65.52684548666994 211.7310558454071,67.69886125603689 210.5,70 209.61369714406445,72.21597706487634 207.7419736023548,73.83744412924435 207.0432586853923,76.16659408292263 205.6774551177467,78.09328559445323 203.94639312653112,79.79961458597883 203.2,82.1 201.00463136384687,83.50857932109587 198.97491417403214,85.10619617507197 197.4136815884562,87.23843663623826 195.4485842369398,88.90979612921367 193.5,90.6 191.61352241302484,91.78873856234468 190.0572765494152,93.38941566620717 188.45806825879436,94.93650046421035 186.65190997875462,96.22543115170126 185.10035680677314,97.83196202553292 183.2131985074191,99.01985145181732 181.4,100.3 179.1264116852201,100.83615670377348 177.10713382736088,101.88093432138844 175.23754149272042,103.22508298544082 173.26699997686777,104.36733328706889 171.31279127713796,105.54224922094261 169.2,106.4 166.92972791281625,107.35821603074982 164.5200861546943,107.67802905268566 162.03383408176387,107.64691740678943 159.64713882901614,108.0718402275364 157.39920163086762,109.13236445967317 155,109.5 155.03706998353448,112.15233999843186 154.05849720501465,114.7079521147633 154.79679910589493,117.42707610532332 154,120 153.90372713608792,122.40864392800734 153.8427776027037,124.82023146689197 153.49861164464934,127.20821763705412 153.62195552908764,129.6351629607573 153,132 152.53576224133917,134.5859908554361 152.93862987947614,137.20533191844137 153.20995463236338,139.8196136397063 152.47517179412998,142.39519891515886 152.5,145 152.84536687806127,147.61712949531005 152.25029380186788,150.19808822314874 152.3765588136424,152.80679072360164 152.01107988300672,155.39657999550028 152,158 154.59317494111698,157.711274234521 157.2264057482558,157.94327472732542 159.81200501121273,157.5560651457655 162.3889853850688,157.0568100058943 165,157 167.4738130444491,156.44052900006955 170.0070198447435,156.77196433781916 172.50467263137406,156.5700894706111 175.03345466207963,156.8351532645279 177.53424376115288,156.6803230839598 180,156 182.51578971626253,155.7850895386357 184.97835524232244,155.17099765075164 187.55720226856695,155.42901701425214 189.92744769842932,154.12252440488652 192.44299913207362,153.90582682388558 195,154 197.18795648668035,153.40252524837786 199.3705895529084,152.78774938028565 201.3837686066183,151.6222479715095 203.70854505771734,151.46943810424807 205.9599108112881,151.07804347001965 208,150 210.36687766987987,149.26751067951946 212.78177397476946,148.7270958990778 215.12698936762177,147.90795747048716 217.54437300885306,147.3774920354122 220,147 222.2767644456542,146.9307238140604 224.25164061277033,145.72936658360308 226.5592715827057,145.77583986371778 228.68869651068758,145.15404048650697 230.74144103251263,144.24468958620807 232.78907021927412,143.31615617942083 235,143 237.32226120133916,142.83901557101902 239.33213818470776,141.66278243363354 241.4726620402704,140.91115163087875 243.60816352275396,140.14319811561708 245.98999408969215,140.1758141248328 248,139 250.19690045513022,138.19147625160815 252.3197034304831,137.1791844338285 254.59132972892655,136.576156754548 256.6578603844519,135.40911605724278 259,135 259.8896585765959,132.45586343063837 261.2112218728698,130.08448874914794 261.5007509112661,127.30030036450643 263,125 264.11026986166735,122.87008995388912 264.7424290318485,120.58080967728283 265.51541673108676,118.33847224369558 266,116 266.7120812702303,113.38483250809213 267.5554653735917,110.82218614943667 269.23103621473496,108.59241448589398 270,106 270.7156895927271,103.48970687781814 272.0128933458161,101.15386800374482 271.9056750187164,98.39670250561493 273,96 273.70985319215356,93.22452828039093 275.2130959654982,90.74657765372851 276,88 277.05822619438095,85.35516815622618 277.8746673916169,82.61966693852301 279,80 277.56359625068677,77.95230281198494 276,76 273.76088162581453,73.69129469934838 272,71 271.11096773840086,68.70379928551057 269.2916047498265,67.02781905567123 268,65 265.8899804243045,62.4791033663517 264.5,59.5 219.2,57.288929735760284 221.4,57.103523176647656 223.6,56.96311618450308 225.8,56.464630980337304 228,57 230.37932657872534,57.596162110592196 232.78450021595847,57.571994816996714 235.22274690864853,56.75407419243502 237.60866298522873,57.192088354510254 240,57.5 242.36792408610114,58.08491096678643 244.76146821407073,58.362381431151526 247.17053758581363,58.45354897023623 249.5832646735902,58.50082391691732 252,58.5 254.4835481943156,58.90564757105508 257.00396002340045,58.85049970749424 259.53721050679843,58.6348686650193 261.98596129056415,59.47548386794786 264.5,59.5" fill="rgb(245, 168, 112)" stroke="rgb(245, 168, 112)" stroke-width="0.6"/>
<polygon points="112,120 114.50391317849224,119.51956589246119 117.00632946956965,119.03164734784825 119.42798417037022,118.13992085185114 122,118 124.57261833544706,117.8630916772353 127.09435536753163,117.47177683765817 129.49508980623096,116.47544903115485 132,116 134.46658749355908,115.3997624806772 136.87641805985615,114.62925417956845 139.28012856407753,113.84038569223264 141.48584475852704,112.45753427558115 144,112 146.26834989662885,111.80073954516698 148.41970872712284,111.08671839934051 150.64035982963793,110.67758325040695 152.78069042664038,109.91503787721756 155,109.5 155.03706998353448,112.15233999843186 154.05849720501465,114.7079521147633 154.79679910589493,117.42707610532332 154,120 153.90372713608792,122.40864392800734 153.8427776027037,124.82023146689197 153.49861164464934,127.20821763705412 153.62195552908764,129.6351629607573 153,132 152.53576224133917,134.5859908554361 152.93862987947614,137.20533191844137 153.20995463236338,139.8196136397063 152.47517179412998,142.39519891515886 152.5,145 152.84536687806127,147.61712949531005 152.25029380186788,150.19808822314874 152.3765588136424,152.80679072360164 152.01107988300672,155.39657999550028 152,158 149.75937303026615,159.93228838377692 147,161 145.15084688454166,159.69830623091667 143.15665805735182,158.68668388529633 141,158 139.08985150541915,156.8202969891617 137.18028093543074,155.63943812913854 135,155 132.50553925790183,153.54078420115067 129.77240157283765,152.71804025021066 127,152 124.75678036645496,151.46948835095267 122.60932256499551,150.5080484575202 120.21877249654348,150.64052376555438 118,150 115.28372195449818,149.53177884867395 112.74162424654011,148.36683634717292 110,148 109.83487123028326,145.33333333333334 110.06482474292459,142.66666666666666 110,140 110.49850803182949,137.51867540159148 110.76896747827388,135.0259483739137 110.13284658079324,132.48789232903965 110.5,130 110.72611233374266,127.4776668500614 110.95116793950838,124.95517519092625 111.49039507908962,122.47980926186345 112,120" fill="rgb(233, 226, 252)" stroke="rgb(233, 226, 252)" stroke-width="0.6"/>
<polygon points="96,85 96.70082857003526,87.38296507998433 98.15290538261718,89.43204205217015 98.85518885018797,91.81436051102757 100,94 100.7571011312052,96.59715954751792 101.6648129184443,99.13407483262229 103.15315253974086,101.43873898410367 104,104 104.65533994076672,106.40318224854812 105.62816790809005,108.66525870751553 106.81068506515628,110.83413997104165 108,113 108.87860452604623,115.59317836606881 110.23066263622492,117.9158118269191 112,120 111.49039507908962,122.47980926186345 110.95116793950838,124.95517519092625 110.72611233374266,127.4776668500614 110.5,130 110.13284658079324,132.48789232903965 110.76896747827388,135.0259483739137 110.49850803182949,137.51867540159148 110,140 110.06482474292459,142.66666666666666 109.83487123028326,145.33333333333334 110,148 108.74896942591073,150.63021625660292 106.69769987346629,152.6888332429521 105,155 103.10281798358955,157.58225438687165 101,160 99.56434665808976,161.93178666094872 98.25080988424189,163.94498436727238 97,166 96,167.5" fill="rgb(128, 240, 98)" stroke="rgb(128, 240, 98)" stroke-width="0.6"/>
<polygon points="110,148 112.74162424654011,148.36683634717292 115.28372195449818,149.53177884867395 118,150 120.21877249654348,150.64052376555438 122.60932256499551,150.5080484575202 124.75678036645496,151.46948835095267 127,152 129.77240157283765,152.71804025021066 132.50553925790183,153.54078420115067 135,155 137.18028093543074,155.63943812913854 139.08985150541915,156.8202969891617 141,158 143.15665805735182,158.68668388529633 145.15084688454166,159.69830623091667 147,161 146.40065783252177,164.2231275255786 146.5,167.5 97,167.5 97,166 98.25080988424189,163.94498436727238 99.56434665808976,161.93178666094872 101,160 103.10281798358955,157.58225438687165 105,155 106.69769987346629,152.6888332429521 108.74896942591073,150.63021625660292" fill="rgb(128, 240, 98)" stroke="rgb(128, 240, 98)" stroke-width="0.6"/>
<polygon points="147,161 149.75937303026615,159.93228838377692 152,158 154.59317494111698,157.711274234521 157.2264057482558,157.94327472732542 159.81200501121273,157.5560651457655 162.3889853850688,157.0568100058943 165,157 167.4738130444491,156.44052900006955 170.0070198447435,156.77196433781916 172.50467263137406,156.5700894706111 175.03345466207963,156.8351532645279 177.53424376115288,156.6803230839598 180,156 182.51578971626253,155.7850895386357 184.97835524232244,155.17099765075164 187.55720226856695,155.42901701425214 189.92744769842932,154.12252440488652 192.44299913207362,153.90582682388558 195,154 197.18795648668035,153.40252524837786 199.3705895529084,152.78774938028565 201.3837686066183,151.6222479715095 203.70854505771734,151.46943810424807 205.9599108112881,151.07804347001965 208,150 210.36687766987987,149.26751067951946 212.78177397476946,148.7270958990778 215.12698936762177,147.90795747048716 217.54437300885306,147.3774920354122 220,147 222.2767644456542,146.9307238140604 224.25164061277033,145.72936658360308 226.5592715827057,145.77583986371778 228.68869651068758,145.15404048650697 230.74144103251263,144.24468958620807 232.78907021927412,143.31615617942083 235,143 237.32226120133916,142.83901557101902 239.33213818470776,141.66278243363354 241.4726620402704,140.91115163087875 243.60816352275396,140.14319811561708 245.98999408969215,140.1758141248328 248,139 250.19690045513022,138.19147625160815 252.3197034304831,137.1791844338285 254.59132972892655,136.576156754548 256.6578603844519,135.40911605724278 259,135 261.3443258216744,135.97435086053756 263.60388999697415,137.14647889594926 266,138 268.21387442575093,138.85837672274715 270.41530770188837,139.75407689433496 272.88281664426495,139.85155006720515 275,141 277.48094639125355,141.45247079786313 280.01458371202233,141.11457765299824 282.4975489266616,141.53676610007653 285.01199112857387,141.48679973805878 287.5148667073309,141.6103327233697 290,142 292.49934304620785,142.08284768960613 295.0007844348356,142.06077825822004 297.5030565223344,141.99717388327878 299.9946106996953,142.4694650152376 302.4980026960853,142.34986519573488 305,142.3 307.30886697559737,141.83014890315107 309.6047355405545,142.10770641811675 311.9008490004025,142.37118247685456 314.1920319780891,142.91816125987455 316.5,142.5 316.5,167.5 146.5,167.5 146.5,167.5 146.40065783252177,164.2231275255786" fill="rgb(240, 14, 24)" stroke="rgb(240, 14, 24)" stroke-width="0.6"/>
<polyline points="121,3 121.87908072049774,5.060459639751128 122.76211305661272,7.11894347169364 124,9 125.05140356554148,11.49443605778582 126.24409679958418,13.908135162142374 128,16 128.76397101083754,18.118014494581235 129.58448714349785,20.207756428251074 131.46339758370613,21.768301208146937 132,24 133.0345558569842,26.23464184134035 133.55434106303343,28.698070638651807 134.85025186618222,30.81655472614123 136,33 136.32597703421686,35.74614941879518 137.9091029005697,38.133113456980084 138.28271493640887,40.86565287531175 139,43.5" fill="none" stroke="#121a12" stroke-width="1.7" stroke-linejoin="round"/>
<polyline points="96,54.5 98.61529257310642,53.72600483434533 101.34220442043856,53.54731246456128 104,53 106.68165583119013,52.57994221079176 109.2346331133222,51.47359882660735 112,51.5 114.45377752732908,50.81685018219389 116.96401714572448,50.51011430482987 119.56793694713244,50.82791298088294 122,50 124.7375593440155,49.616904042728656 127.2425194177063,48.30341100415856 130,48 132.39617699187295,47.167353983745876 134.32229706620748,45.39459413241497 136.807779000376,44.740558000752 139,43.5" fill="none" stroke="#121a12" stroke-width="1.7" stroke-linejoin="round"/>
<polyline points="139,43.5 142.0341010354989,43.340787574013255 145,44 147.5,43.451952348422786 150,44" fill="none" stroke="#121a12" stroke-width="1.7" stroke-linejoin="round"/>
<polyline points="150,44 152.18270697640128,43.365413952802555 153.8570714385827,41.71414287716537 155.8600352417717,40.72007048354341 158,40 160.4655227460434,39.484926178597654 162.666374030461,38.37434156853721 164.65587159642567,36.788211091957784 167,36 169.41005704561348,35.462125500349714 171.4178538655949,34.03927850430876 173.68094545258006,33.17807999567613 175.6656205832857,31.704365283228462 178,31 180.68015181283,30.450379532075 183.07788290339406,29.194707258485174 185.6906053990656,28.47651349766397 188,27 190.40698121878833,26.528665991169962 192.4197789671567,25.043717344117216 194.6946576919124,24.232691207774742 197,23.5" fill="none" stroke="#121a12" stroke-width="1.7" stroke-linejoin="round"/>
<polyline points="197,23.5 197.31162524480692,20.90532228750407 197.95676461989396,18.399581676416165 199,16 199.02816210111365,12.921360350185608 200,10 199.28573823009393,7.542852353981213 199,5 200,3" fill="none" stroke="#121a12" stroke-width="1.7" stroke-linejoin="round"/>
<polyline points="199,3 201,5 203.97249136756437,5.860034529742545 207,6.5 209.25607787726608,5.625878474195829 211.69434673984796,6.027093845602521 214,5.5 216.27336002928095,4.4987414153199605 218.59635679564772,3.6364656944802767 221,3" fill="none" stroke="#121a12" stroke-width="1.7" stroke-linejoin="round"/>
<polyline points="255,3 257.2370793241383,4.003555698849233 259.6724853411178,4.312967972754503 262,5 264.53973853856195,5.3013073071903785 267.0040517152532,5.9797414237341355 269.45584718847323,6.720764057633865 272,7 274.72710866600784,6.8497973386043425 277.2685116002935,8.185240530985455 280,8 282.02827169933954,5.906247045742036 284.8263761149789,4.890259894303833 287,3" fill="none" stroke="#121a12" stroke-width="1.7" stroke-linejoin="round"/>
<polyline points="287,3 285.9685609756799,5.229112659718079 286.1763952331337,7.812303399942957 285,10 283.6997302244848,12.899910074828274 283,16 282.6443386088066,18.528867721761323 282,21" fill="none" stroke="#121a12" stroke-width="1.7" stroke-linejoin="round"/>
<polyline points="282,21 284.4751815585427,21.83272813819101 287.1551718162788,21.98276061240383 289.6432717044291,22.77242765190311 292,24 294.78990697895455,24.671359167232385 297.15752656715836,26.468818043133172 300,27 302.7476314036265,27.342807718827384 305.26510562363103,28.606244172142425 308,29 309.99164231167435,30.078416140307283 312.11279712936795,30.716489760148928 314.4233012329328,30.71077580802859 316.5,31.5" fill="none" stroke="#121a12" stroke-width="1.7" stroke-linejoin="round"/>
<polyline points="282,21 281.14596081077184,23.31487147145415 279.97516991007654,25.488964404478466 278.72296586056683,27.626873715807488 278,30 277.4003051526459,32.66012206105837 275.74630501394205,34.89852200557683 274.6964351537419,37.37857406149676 274,40 272.6384378948686,42.08930573105272 272.46577455486556,44.70701091327359 270.55188490678455,46.55083773634869 270,49 269.29836034543155,51.30866494284511 267.95518476153643,53.28128725604289 266.5920080189581,55.243432771835195 265.1926097052139,57.18660508368345 264.5,59.5" fill="none" stroke="#121a12" stroke-width="1.7" stroke-linejoin="round"/>
<polyline points="264.5,59.5 261.98596129056415,59.47548386794786 259.53721050679843,58.6348686650193 257.00396002340045,58.85049970749424 254.4835481943156,58.90564757105508 252,58.5 249.5832646735902,58.50082391691732 247.17053758581363,58.45354897023623 244.76146821407073,58.362381431151526 242.36792408610114,58.08491096678643 240,57.5 237.60866298522873,57.192088354510254 235.22274690864853,56.75407419243502 232.78450021595847,57.571994816996714 230.37932657872534,57.596162110592196 228,57 225.8,56.464630980337304 223.6,56.96311618450308 221.4,57.103523176647656 219.2,57.288929735760284 217,57" fill="none" stroke="#121a12" stroke-width="1.7" stroke-linejoin="round"/>
<polyline points="197,23.5 198.58474402922928,25.729684080080034 200.04884071812572,28.05217380656997 202,30 203.29135551061856,31.974152805863394 204.5729846614637,33.95438458658519 206.16443546604575,35.740977833721416 207,38 207.84991894685712,40.47226725174605 209.94932266009516,42.250376299947135 210.7561884930559,44.74656194830227 212,47 212.66702961356194,49.16648519321903 214.36346926320724,50.81826536839638 214.77207234459905,53.11396382770048 215.55745672863011,55.221271635684936 217,57" fill="none" stroke="#121a12" stroke-width="1.7" stroke-linejoin="round"/>
<polyline points="217,57 215.87170405889947,58.93585202944974 214.7166360701497,60.858318035074845 214,63 213.22035764000657,65.52684548666994 211.7310558454071,67.69886125603689 210.5,70 209.61369714406445,72.21597706487634 207.7419736023548,73.83744412924435 207.0432586853923,76.16659408292263 205.6774551177467,78.09328559445323 203.94639312653112,79.79961458597883 203.2,82.1 201.00463136384687,83.50857932109587 198.97491417403214,85.10619617507197 197.4136815884562,87.23843663623826 195.4485842369398,88.90979612921367 193.5,90.6 191.61352241302484,91.78873856234468 190.0572765494152,93.38941566620717 188.45806825879436,94.93650046421035 186.65190997875462,96.22543115170126 185.10035680677314,97.83196202553292 183.2131985074191,99.01985145181732 181.4,100.3 179.1264116852201,100.83615670377348 177.10713382736088,101.88093432138844 175.23754149272042,103.22508298544082 173.26699997686777,104.36733328706889 171.31279127713796,105.54224922094261 169.2,106.4 166.92972791281625,107.35821603074982 164.5200861546943,107.67802905268566 162.03383408176387,107.64691740678943 159.64713882901614,108.0718402275364 157.39920163086762,109.13236445967317 155,109.5" fill="none" stroke="#121a12" stroke-width="1.7" stroke-linejoin="round"/>
<polyline points="150,44 149.7856996852716,46.2142863779422 149.8979239996306,48.41373072728952 150.08616436619852,50.609719801536436 150.21976580680396,52.80819246332709 150.5,55 150.3816966212803,57.51899800302576 150.98322566885832,59.99000717763167 150.77558162320514,62.514961225119656 151.40719548936065,64.98396474515373 151.34904471166018,67.49895257477822 151.5,70 151.4547503554673,72.52952496445327 151.79107079539372,75.02089292046062 152.4756373692143,77.47743626307857 152.01232997574073,80.04876700242593 152.58615581879909,82.5163844181201 153,85 153.07813627377465,87.5059020261928 153.86940466168969,89.9642619114429 153.44842450384422,92.50343836641039 153.94029775488875,94.98175792745187 153.64494429521847,97.51255926920766 154,100 154.2905431154249,102.37073230363949 154.15356637802475,104.78646669705003 154.58871047053535,107.14197784520681 155,109.5" fill="none" stroke="#121a12" stroke-width="1.7" stroke-linejoin="round"/>
<polyline points="96,85 96.70082857003526,87.38296507998433 98.15290538261718,89.43204205217015 98.85518885018797,91.81436051102757 100,94 100.7571011312052,96.59715954751792 101.6648129184443,99.13407483262229 103.15315253974086,101.43873898410367 104,104 104.65533994076672,106.40318224854812 105.62816790809005,108.66525870751553 106.81068506515628,110.83413997104165 108,113 108.87860452604623,115.59317836606881 110.23066263622492,117.9158118269191 112,120" fill="none" stroke="#121a12" stroke-width="1.7" stroke-linejoin="round"/>
<polyline points="112,120 114.50391317849224,119.51956589246119 117.00632946956965,119.03164734784825 119.42798417037022,118.13992085185114 122,118 124.57261833544706,117.8630916772353 127.09435536753163,117.47177683765817 129.49508980623096,116.47544903115485 132,116 134.46658749355908,115.3997624806772 136.87641805985615,114.62925417956845 139.28012856407753,113.84038569223264 141.48584475852704,112.45753427558115 144,112 146.26834989662885,111.80073954516698 148.41970872712284,111.08671839934051 150.64035982963793,110.67758325040695 152.78069042664038,109.91503787721756 155,109.5" fill="none" stroke="#121a12" stroke-width="1.7" stroke-linejoin="round"/>
<polyline points="112,120 111.49039507908962,122.47980926186345 110.95116793950838,124.95517519092625 110.72611233374266,127.4776668500614 110.5,130 110.13284658079324,132.48789232903965 110.76896747827388,135.0259483739137 110.49850803182949,137.51867540159148 110,140 110.06482474292459,142.66666666666666 109.83487123028326,145.33333333333334 110,148" fill="none" stroke="#121a12" stroke-width="1.7" stroke-linejoin="round"/>
<polyline points="110,148 112.74162424654011,148.36683634717292 115.28372195449818,149.53177884867395 118,150 120.21877249654348,150.64052376555438 122.60932256499551,150.5080484575202 124.75678036645496,151.46948835095267 127,152 129.77240157283765,152.71804025021066 132.50553925790183,153.54078420115067 135,155 137.18028093543074,155.63943812913854 139.08985150541915,156.8202969891617 141,158 143.15665805735182,158.68668388529633 145.15084688454166,159.69830623091667 147,161" fill="none" stroke="#121a12" stroke-width="1.7" stroke-linejoin="round"/>
<polyline points="110,148 108.74896942591073,150.63021625660292 106.69769987346629,152.6888332429521 105,155 103.10281798358955,157.58225438687165 101,160 99.56434665808976,161.93178666094872 98.25080988424189,163.94498436727238 97,166" fill="none" stroke="#121a12" stroke-width="1.7" stroke-linejoin="round"/>
<polyline points="155,109.5 155.03706998353448,112.15233999843186 154.05849720501465,114.7079521147633 154.79679910589493,117.42707610532332 154,120 153.90372713608792,122.40864392800734 153.8427776027037,124.82023146689197 153.49861164464934,127.20821763705412 153.62195552908764,129.6351629607573 153,132 152.53576224133917,134.5859908554361 152.93862987947614,137.20533191844137 153.20995463236338,139.8196136397063 152.47517179412998,142.39519891515886 152.5,145 152.84536687806127,147.61712949531005 152.25029380186788,150.19808822314874 152.3765588136424,152.80679072360164 152.01107988300672,155.39657999550028 152,158" fill="none" stroke="#121a12" stroke-width="1.7" stroke-linejoin="round"/>
<polyline points="147,161 149.75937303026615,159.93228838377692 152,158" fill="none" stroke="#121a12" stroke-width="1.7" stroke-linejoin="round"/>
<polyline points="147,161 146.40065783252177,164.2231275255786 146.5,167.5" fill="none" stroke="#121a12" stroke-width="1.7" stroke-linejoin="round"/>
<polyline points="152,158 154.59317494111698,157.711274234521 157.2264057482558,157.94327472732542 159.81200501121273,157.5560651457655 162.3889853850688,157.0568100058943 165,157 167.4738130444491,156.44052900006955 170.0070198447435,156.77196433781916 172.50467263137406,156.5700894706111 175.03345466207963,156.8351532645279 177.53424376115288,156.6803230839598 180,156 182.51578971626253,155.7850895386357 184.97835524232244,155.17099765075164 187.55720226856695,155.42901701425214 189.92744769842932,154.12252440488652 192.44299913207362,153.90582682388558 195,154 197.18795648668035,153.40252524837786 199.3705895529084,152.78774938028565 201.3837686066183,151.6222479715095 203.70854505771734,151.46943810424807 205.9599108112881,151.07804347001965 208,150 210.36687766987987,149.26751067951946 212.78177397476946,148.7270958990778 215.12698936762177,147.90795747048716 217.54437300885306,147.3774920354122 220,147 222.2767644456542,146.9307238140604 224.25164061277033,145.72936658360308 226.5592715827057,145.77583986371778 228.68869651068758,145.15404048650697 230.74144103251263,144.24468958620807 232.78907021927412,143.31615617942083 235,143 237.32226120133916,142.83901557101902 239.33213818470776,141.66278243363354 241.4726620402704,140.91115163087875 243.60816352275396,140.14319811561708 245.98999408969215,140.1758141248328 248,139 250.19690045513022,138.19147625160815 252.3197034304831,137.1791844338285 254.59132972892655,136.576156754548 256.6578603844519,135.40911605724278 259,135" fill="none" stroke="#121a12" stroke-width="1.7" stroke-linejoin="round"/>
<polyline points="279,80 277.8746673916169,82.61966693852301 277.05822619438095,85.35516815622618 276,88 275.2130959654982,90.74657765372851 273.70985319215356,93.22452828039093 273,96 271.9056750187164,98.39670250561493 272.0128933458161,101.15386800374482 270.7156895927271,103.48970687781814 270,106 269.23103621473496,108.59241448589398 267.5554653735917,110.82218614943667 266.7120812702303,113.38483250809213 266,116 265.51541673108676,118.33847224369558 264.7424290318485,120.58080967728283 264.11026986166735,122.87008995388912 263,125 261.5007509112661,127.30030036450643 261.2112218728698,130.08448874914794 259.8896585765959,132.45586343063837 259,135" fill="none" stroke="#121a12" stroke-width="1.7" stroke-linejoin="round"/>
<polyline points="259,135 261.3443258216744,135.97435086053756 263.60388999697415,137.14647889594926 266,138 268.21387442575093,138.85837672274715 270.41530770188837,139.75407689433496 272.88281664426495,139.85155006720515 275,141 277.48094639125355,141.45247079786313 280.01458371202233,141.11457765299824 282.4975489266616,141.53676610007653 285.01199112857387,141.48679973805878 287.5148667073309,141.6103327233697 290,142 292.49934304620785,142.08284768960613 295.0007844348356,142.06077825822004 297.5030565223344,141.99717388327878 299.9946106996953,142.4694650152376 302.4980026960853,142.34986519573488 305,142.3 307.30886697559737,141.83014890315107 309.6047355405545,142.10770641811675 311.9008490004025,142.37118247685456 314.1920319780891,142.91816125987455 316.5,142.5" fill="none" stroke="#121a12" stroke-width="1.7" stroke-linejoin="round"/>
<polyline points="264.5,59.5 265.8899804243045,62.4791033663517 268,65 269.2916047498265,67.02781905567123 271.11096773840086,68.70379928551057 272,71 273.76088162581453,73.69129469934838 276,76 277.56359625068677,77.95230281198494 279,80" fill="none" stroke="#121a12" stroke-width="1.7" stroke-linejoin="round"/>
<polyline points="279,80 281.2591885616767,79.83269705509005 283.5,79.5" fill="none" stroke="#121a12" stroke-width="1.7" stroke-linejoin="round"/>
<polyline points="283.5,79.5 285.41192698525447,77.9119269852545 287,76 289.6757401423177,75.97850894374956 292.33208994496476,75.64677245276948 295,75.5 297.8771960719103,75.88609775880836 300.7304043686534,75.2407211854288 303.6,75.3 306.2158690573688,75.53211557383194 308.7483573405899,76.38363118418957 311.4445442730514,76.01909968590378 314,76.7 316.5,78.5" fill="none" stroke="#121a12" stroke-width="1.7" stroke-linejoin="round"/>
<polyline points="283.5,79.5 286.0319194997009,81.0690818289816 288.3,83 290.6343974201198,83.9765380099352 293.26913271940106,83.78776504872388 295.4826801866224,85.23320087590501 298,85.5 300.4010849743199,86.28342054420227 302.9168846027291,86.57805691011058 305.403694755867,86.99621364891476 307.8,87.8 310.65780608873877,88.50590585664382 313.5382749878296,89.04750633823572 316.5,89" fill="none" stroke="#121a12" stroke-width="1.7" stroke-linejoin="round"/>
<polyline points="96,3 104,4.5 112,5.5 121,4" fill="none" stroke="#121a12" stroke-width="1.7" stroke-linejoin="round"/>
<polygon points="165.5,59.8 177,50.2 196.1,56.4 199.5,72.7 188.6,83.6 170.9,77.5" fill="none" stroke="#8a1418" stroke-width="0.9"/>
<polyline points="168.5,62.5 179.5,53.5 197,59" fill="none" stroke="#8a1418" stroke-width="0.9"/>
<polyline points="165.5,59.8 168.5,62.5 173.5,80 171,77.5" fill="none" stroke="#8a1418" stroke-width="0.9"/>
<polyline points="177,50.2 179.5,53.5" fill="none" stroke="#8a1418" stroke-width="0.9"/>
<polygon points="202.7,102.3 215.5,95.9 235.5,92.3 246.4,105 243.6,123.2 213.6,131.4 201.8,119.5" fill="none" stroke="#7a4a28" stroke-width="0.8"/>
<polyline points="215.5,95.9 225.5,109.5 246.4,105" fill="none" stroke="#7a4a28" stroke-width="0.8"/>
<polyline points="225.5,109.5 224.8,127.5 245,122.3" fill="none" stroke="#7a4a28" stroke-width="0.8"/>
<text x="98.3" y="17.2" font-family="Liberation Sans, sans-serif" font-weight="bold" font-size="17" fill="#111" stroke="#111" stroke-width="0.3">(a)</text>
<text x="239" y="18.2" font-family="Liberation Sans, sans-serif" font-weight="bold" font-size="16.5" fill="#111" stroke="#111" stroke-width="0.5">IPF map</text>
<text x="173.5" y="44.2" font-family="Liberation Sans, sans-serif" font-weight="bold" font-size="12" fill="#151515">#189</text>
<text x="227.5" y="85" font-family="Liberation Sans, sans-serif" font-weight="bold" font-size="12" fill="#151515">#199</text>
<defs><clipPath id="clipB"><rect x="323" y="3" width="221.4" height="164.5"/></clipPath></defs>
<rect x="323" y="3" width="221.39999999999998" height="164.5" fill="rgb(36,14,163)"/>
<g clip-path="url(#clipB)">
<defs><filter id="bl05" x="-5%" y="-5%" width="110%" height="110%"><feGaussianBlur stdDeviation="0.9"/></filter></defs>
<g filter="url(#bl05)"><polyline points="342.4,3.0 326.4,75.0" fill="none" stroke="rgb(120,40,185)" stroke-opacity="0.45" stroke-width="1.4"/><polyline points="351.7,3.0 335.7,75.0" fill="none" stroke="rgb(120,40,185)" stroke-opacity="0.47" stroke-width="1.4"/><polyline points="361.8,3.0 345.8,75.0" fill="none" stroke="rgb(120,40,185)" stroke-opacity="0.29" stroke-width="1.4"/><polyline points="366.6,3.0 350.6,75.0" fill="none" stroke="rgb(120,40,185)" stroke-opacity="0.55" stroke-width="1.4"/><polyline points="376.6,3.0 360.6,75.0" fill="none" stroke="rgb(120,40,185)" stroke-opacity="0.35" stroke-width="1.4"/><polyline points="389.5,3.0 373.5,75.0" fill="none" stroke="rgb(120,40,185)" stroke-opacity="0.43" stroke-width="1.4"/><polyline points="397.0,3.0 381.0,75.0" fill="none" stroke="rgb(120,40,185)" stroke-opacity="0.43" stroke-width="1.4"/><polyline points="404.3,3.0 388.3,75.0" fill="none" stroke="rgb(120,40,185)" stroke-opacity="0.32" stroke-width="1.4"/><polyline points="412.8,3.0 396.8,75.0" fill="none" stroke="rgb(120,40,185)" stroke-opacity="0.56" stroke-width="1.4"/><polyline points="420.6,3.0 404.6,75.0" fill="none" stroke="rgb(120,40,185)" stroke-opacity="0.52" stroke-width="1.4"/><polyline points="430.0,3.0 414.0,75.0" fill="none" stroke="rgb(120,40,185)" stroke-opacity="0.29" stroke-width="1.4"/><polyline points="439.0,3.0 423.0,75.0" fill="none" stroke="rgb(120,40,185)" stroke-opacity="0.47" stroke-width="1.4"/><polyline points="444.8,3.0 428.8,75.0" fill="none" stroke="rgb(120,40,185)" stroke-opacity="0.28" stroke-width="1.4"/><polyline points="456.7,3.0 440.7,75.0" fill="none" stroke="rgb(120,40,185)" stroke-opacity="0.43" stroke-width="1.4"/><polyline points="464.3,3.0 448.3,75.0" fill="none" stroke="rgb(120,40,185)" stroke-opacity="0.57" stroke-width="1.4"/><polyline points="472.8,3.0 456.8,75.0" fill="none" stroke="rgb(120,40,185)" stroke-opacity="0.58" stroke-width="1.4"/><polyline points="365.0,118.0 365.4,112.4 366.7,106.8 368.9,101.5 371.8,96.5 375.5,92.0 379.9,87.9 384.8,84.4 390.3,81.6 396.1,79.5 402.2,78.1 408.4,77.5" fill="none" stroke="rgb(130,35,180)" stroke-opacity="0.34" stroke-width="1.4"/><polyline points="358.0,118.0 358.5,111.5 360.0,105.1 362.5,99.0 365.9,93.2 370.2,87.9 375.2,83.2 380.9,79.2 387.2,75.9 393.9,73.5 401.0,71.9 408.2,71.2" fill="none" stroke="rgb(130,35,180)" stroke-opacity="0.47" stroke-width="1.4"/><polyline points="351.0,118.0 351.6,110.6 353.3,103.4 356.1,96.4 360.0,89.9 364.8,83.9 370.5,78.5 377.0,74.0 384.1,70.3 391.8,67.5 399.8,65.7 407.9,64.9" fill="none" stroke="rgb(130,35,180)" stroke-opacity="0.35" stroke-width="1.4"/><polyline points="344.0,118.0 344.6,109.7 346.6,101.6 349.7,93.8 354.0,86.5 359.4,79.8 365.8,73.9 373.1,68.8 381.1,64.6 389.6,61.5 398.5,59.5 407.7,58.6" fill="none" stroke="rgb(130,35,180)" stroke-opacity="0.52" stroke-width="1.4"/><polyline points="337.0,118.0 337.7,108.9 339.8,99.9 343.3,91.3 348.1,83.2 354.1,75.8 361.2,69.2 369.2,63.5 378.0,58.9 387.4,55.5 397.3,53.3 407.5,52.3" fill="none" stroke="rgb(130,35,180)" stroke-opacity="0.50" stroke-width="1.4"/><polyline points="330.0,118.0 330.8,108.0 333.1,98.2 336.9,88.7 342.2,79.8 348.7,71.7 356.5,64.5 365.3,58.3 374.9,53.3 385.3,49.5 396.1,47.1 407.2,46.0" fill="none" stroke="rgb(130,35,180)" stroke-opacity="0.24" stroke-width="1.4"/><polyline points="323.0,118.0 323.8,107.1 326.4,96.4 330.5,86.2 336.2,76.5 343.4,67.7 351.8,59.8 361.4,53.1 371.9,47.6 383.1,43.5 394.9,40.9 407.0,39.7" fill="none" stroke="rgb(130,35,180)" stroke-opacity="0.25" stroke-width="1.4"/><polyline points="316.0,118.0 316.9,106.2 319.6,94.7 324.1,83.6 330.3,73.2 338.0,63.6 347.1,55.1 357.4,47.9 368.8,42.0 381.0,37.5 393.7,34.7 406.7,33.5" fill="none" stroke="rgb(130,35,180)" stroke-opacity="0.28" stroke-width="1.4"/><polyline points="309.0,118.0 310.0,105.3 312.9,92.9 317.7,81.0 324.3,69.8 332.6,59.6 342.4,50.4 353.5,42.6 365.7,36.3 378.8,31.5 392.5,28.5 406.5,27.2" fill="none" stroke="rgb(130,35,180)" stroke-opacity="0.53" stroke-width="1.4"/><polyline points="302.0,118.0 303.1,104.5 306.2,91.2 311.3,78.5 318.4,66.5 327.3,55.5 337.7,45.8 349.6,37.4 362.7,30.6 376.6,25.6 391.2,22.3 406.2,20.9" fill="none" stroke="rgb(130,35,180)" stroke-opacity="0.35" stroke-width="1.4"/><polyline points="295.0,118.0 296.1,103.6 299.5,89.5 304.9,75.9 312.5,63.2 321.9,51.5 333.0,41.1 345.7,32.2 359.6,25.0 374.5,19.6 390.0,16.1 406.0,14.6" fill="none" stroke="rgb(130,35,180)" stroke-opacity="0.41" stroke-width="1.4"/><polyline points="288.0,118.0 289.2,102.7 292.7,87.7 298.5,73.3 306.5,59.8 316.5,47.4 328.4,36.4 341.8,27.0 356.5,19.3 372.3,13.6 388.8,9.9 405.7,8.3" fill="none" stroke="rgb(130,35,180)" stroke-opacity="0.30" stroke-width="1.4"/><polyline points="344.3,98.2 326.0,168.0" fill="none" stroke="rgb(125,40,180)" stroke-opacity="0.53" stroke-width="1.4"/><polyline points="350.9,102.2 334.3,168.0" fill="none" stroke="rgb(125,40,180)" stroke-opacity="0.65" stroke-width="1.4"/><polyline points="354.9,102.1 343.4,168.0" fill="none" stroke="rgb(125,40,180)" stroke-opacity="0.39" stroke-width="1.4"/><polyline points="358.3,104.9 351.4,168.0" fill="none" stroke="rgb(125,40,180)" stroke-opacity="0.53" stroke-width="1.4"/><polyline points="357.3,104.0 358.9,168.0" fill="none" stroke="rgb(125,40,180)" stroke-opacity="0.53" stroke-width="1.4"/><polyline points="359.9,104.2 365.1,168.0" fill="none" stroke="rgb(125,40,180)" stroke-opacity="0.67" stroke-width="1.4"/><polyline points="367.8,98.9 372.4,168.0" fill="none" stroke="rgb(125,40,180)" stroke-opacity="0.39" stroke-width="1.4"/><polyline points="371.1,104.5 381.2,168.0" fill="none" stroke="rgb(125,40,180)" stroke-opacity="0.35" stroke-width="1.4"/><polyline points="370.3,102.6 390.5,168.0" fill="none" stroke="rgb(125,40,180)" stroke-opacity="0.45" stroke-width="1.4"/><polyline points="379.4,100.1 399.5,168.0" fill="none" stroke="rgb(125,40,180)" stroke-opacity="0.67" stroke-width="1.4"/><polyline points="377.5,101.2 405.2,168.0" fill="none" stroke="rgb(125,40,180)" stroke-opacity="0.35" stroke-width="1.4"/><polyline points="372.0,112.0 382.0,168.0" fill="none" stroke="rgb(130,35,180)" stroke-opacity="0.34" stroke-width="1.4"/><polyline points="380.0,112.0 390.0,168.0" fill="none" stroke="rgb(130,35,180)" stroke-opacity="0.41" stroke-width="1.4"/><polyline points="388.0,112.0 398.0,168.0" fill="none" stroke="rgb(130,35,180)" stroke-opacity="0.48" stroke-width="1.4"/><polyline points="396.0,112.0 406.0,168.0" fill="none" stroke="rgb(130,35,180)" stroke-opacity="0.32" stroke-width="1.4"/><polyline points="404.0,112.0 414.0,168.0" fill="none" stroke="rgb(130,35,180)" stroke-opacity="0.28" stroke-width="1.4"/><polyline points="412.0,112.0 422.0,168.0" fill="none" stroke="rgb(130,35,180)" stroke-opacity="0.56" stroke-width="1.4"/><polyline points="420.0,112.0 430.0,168.0" fill="none" stroke="rgb(130,35,180)" stroke-opacity="0.38" stroke-width="1.4"/><polyline points="514.1,80.0 502.1,140.0" fill="none" stroke="rgb(140,40,180)" stroke-opacity="0.66" stroke-width="1.4"/><polyline points="520.1,80.0 508.1,140.0" fill="none" stroke="rgb(140,40,180)" stroke-opacity="0.73" stroke-width="1.4"/><polyline points="525.8,80.0 513.8,140.0" fill="none" stroke="rgb(140,40,180)" stroke-opacity="0.70" stroke-width="1.4"/><polyline points="536.5,80.0 524.5,140.0" fill="none" stroke="rgb(140,40,180)" stroke-opacity="0.65" stroke-width="1.4"/><polyline points="542.7,80.0 530.7,140.0" fill="none" stroke="rgb(140,40,180)" stroke-opacity="0.57" stroke-width="1.4"/><polyline points="553.1,80.0 541.1,140.0" fill="none" stroke="rgb(140,40,180)" stroke-opacity="0.69" stroke-width="1.4"/><polyline points="557.0,80.0 545.0,140.0" fill="none" stroke="rgb(140,40,180)" stroke-opacity="0.64" stroke-width="1.4"/><polyline points="462.2,55.0 474.2,140.0" fill="none" stroke="rgb(120,35,180)" stroke-opacity="0.41" stroke-width="1.4"/><polyline points="467.3,55.0 479.3,140.0" fill="none" stroke="rgb(120,35,180)" stroke-opacity="0.62" stroke-width="1.4"/><polyline points="470.7,55.0 482.7,140.0" fill="none" stroke="rgb(120,35,180)" stroke-opacity="0.62" stroke-width="1.4"/><polyline points="476.9,55.0 488.9,140.0" fill="none" stroke="rgb(120,35,180)" stroke-opacity="0.63" stroke-width="1.4"/><polyline points="481.6,55.0 493.6,140.0" fill="none" stroke="rgb(120,35,180)" stroke-opacity="0.64" stroke-width="1.4"/><polyline points="487.7,55.0 499.7,140.0" fill="none" stroke="rgb(120,35,180)" stroke-opacity="0.41" stroke-width="1.4"/><polyline points="490.7,55.0 502.7,140.0" fill="none" stroke="rgb(120,35,180)" stroke-opacity="0.63" stroke-width="1.4"/><polyline points="488.0,19.0 545.0,59.0" fill="none" stroke="rgb(150,45,180)" stroke-opacity="0.59" stroke-width="1.4"/><polyline points="488.0,26.0 545.0,66.0" fill="none" stroke="rgb(150,45,180)" stroke-opacity="0.69" stroke-width="1.4"/><polyline points="488.0,33.0 545.0,73.0" fill="none" stroke="rgb(150,45,180)" stroke-opacity="0.75" stroke-width="1.4"/><polyline points="488.0,40.0 545.0,80.0" fill="none" stroke="rgb(150,45,180)" stroke-opacity="0.62" stroke-width="1.4"/><polyline points="488.0,47.0 545.0,87.0" fill="none" stroke="rgb(150,45,180)" stroke-opacity="0.64" stroke-width="1.4"/><polyline points="488.0,54.0 545.0,94.0" fill="none" stroke="rgb(150,45,180)" stroke-opacity="0.62" stroke-width="1.4"/><polyline points="488.0,61.0 545.0,101.0" fill="none" stroke="rgb(150,45,180)" stroke-opacity="0.65" stroke-width="1.4"/><polyline points="488.0,68.0 545.0,108.0" fill="none" stroke="rgb(150,45,180)" stroke-opacity="0.75" stroke-width="1.4"/><polyline points="488.0,75.0 545.0,115.0" fill="none" stroke="rgb(150,45,180)" stroke-opacity="0.61" stroke-width="1.4"/><polyline points="470,120 495,85 545,78" fill="none" stroke="rgb(120,35,180)" stroke-opacity="0.3" stroke-width="3"/><polyline points="420.0,12.0 470.0,32.0" fill="none" stroke="rgb(130,35,180)" stroke-opacity="0.37" stroke-width="1.4"/><polyline points="420.0,19.0 470.0,39.0" fill="none" stroke="rgb(130,35,180)" stroke-opacity="0.48" stroke-width="1.4"/><polyline points="420.0,26.0 470.0,46.0" fill="none" stroke="rgb(130,35,180)" stroke-opacity="0.28" stroke-width="1.4"/><polyline points="420.0,33.0 470.0,53.0" fill="none" stroke="rgb(130,35,180)" stroke-opacity="0.42" stroke-width="1.4"/><polyline points="420.0,40.0 470.0,60.0" fill="none" stroke="rgb(130,35,180)" stroke-opacity="0.47" stroke-width="1.4"/><polyline points="433.0,87.3 439.0,130.0" fill="none" stroke="rgb(130,35,180)" stroke-opacity="0.35" stroke-width="1.4"/><polyline points="438.0,81.8 444.0,130.0" fill="none" stroke="rgb(130,35,180)" stroke-opacity="0.33" stroke-width="1.4"/><polyline points="443.0,76.3 449.0,130.0" fill="none" stroke="rgb(130,35,180)" stroke-opacity="0.49" stroke-width="1.4"/><polyline points="448.0,70.8 454.0,130.0" fill="none" stroke="rgb(130,35,180)" stroke-opacity="0.33" stroke-width="1.4"/><polyline points="453.0,65.3 459.0,130.0" fill="none" stroke="rgb(130,35,180)" stroke-opacity="0.32" stroke-width="1.4"/><polyline points="458.0,59.8 464.0,130.0" fill="none" stroke="rgb(130,35,180)" stroke-opacity="0.39" stroke-width="1.4"/><polyline points="463.0,54.3 469.0,130.0" fill="none" stroke="rgb(130,35,180)" stroke-opacity="0.46" stroke-width="1.4"/><polyline points="468.0,48.8 474.0,130.0" fill="none" stroke="rgb(130,35,180)" stroke-opacity="0.30" stroke-width="1.4"/><ellipse cx="505" cy="130" rx="40" ry="5" fill="rgb(110,30,175)" fill-opacity="0.3"/></g>
<polyline points="323.5,84.0 326.0,91.0 330.0,97.0 336.0,103.0 342.0,108.0" fill="none" stroke="rgb(205,75,170)" stroke-opacity="0.75" stroke-width="1.0"/><polyline points="355.0,110.0 342.0,140.0" fill="none" stroke="rgb(190,70,170)" stroke-opacity="0.70" stroke-width="1.0999999999999999"/><polyline points="388.2,150.0 408.6,168.0" fill="none" stroke="rgb(215,100,165)" stroke-opacity="0.90" stroke-width="1.0"/><polyline points="411.4,144.6 437.3,168.0" fill="none" stroke="rgb(215,100,165)" stroke-opacity="0.85" stroke-width="1.0"/><polyline points="423.7,135.0 459.0,168.0" fill="none" stroke="rgb(215,100,165)" stroke-opacity="0.85" stroke-width="1.0"/><polyline points="445.5,140.5 475.0,166.0" fill="none" stroke="rgb(215,100,165)" stroke-opacity="0.80" stroke-width="1.0"/><polyline points="490.0,135.0 525.0,167.0" fill="none" stroke="rgb(200,80,165)" stroke-opacity="0.60" stroke-width="1.0"/><polyline points="505.0,130.0 545.0,165.0" fill="none" stroke="rgb(200,80,165)" stroke-opacity="0.60" stroke-width="1.0"/><polyline points="510.4,80.0 498.4,140.0" fill="none" stroke="rgb(140,40,180)" stroke-opacity="0.62" stroke-width="1.0999999999999999"/><polyline points="531.4,80.0 519.4,140.0" fill="none" stroke="rgb(140,40,180)" stroke-opacity="0.63" stroke-width="1.0999999999999999"/><polyline points="546.9,80.0 534.9,140.0" fill="none" stroke="rgb(140,40,180)" stroke-opacity="0.64" stroke-width="1.0999999999999999"/><polyline points="488.0,12.0 545.0,52.0" fill="none" stroke="rgb(150,45,180)" stroke-opacity="0.69" stroke-width="1.0999999999999999"/>
<path d="M414.4,96.3 Q432,80 448.9,57.2 L455,50" fill="none" stroke="rgb(210,80,150)" stroke-opacity="0.85" stroke-width="1.1"/>
<polyline points="478.2,4 496.3,11.3 487.3,22.6 482.8,30.5 493.5,35 477.7,55.4" fill="none" stroke="rgb(248,200,120)" stroke-width="1"/>
<polyline points="481,17 473.7,27.1 464.7,35 461.3,43 460.7,52" fill="none" stroke="rgb(240,185,130)" stroke-width="1"/>
<line x1="462" y1="3.5" x2="478" y2="4" stroke="rgb(200,90,150)" stroke-opacity="0.7" stroke-width="1"/>
<line x1="448" y1="3" x2="475" y2="3.5" stroke="rgb(220,120,140)" stroke-opacity="0.6" stroke-width="1"/>
</g>
<ellipse cx="507.2" cy="74.6" rx="2.4" ry="1.6" fill="#fff" transform="rotate(-35 507.2 74.6)"/>
<ellipse cx="438.4" cy="92.8" rx="2" ry="1.5" fill="#fff" transform="rotate(-35 438.4 92.8)"/>
<ellipse cx="494.7" cy="114.7" rx="1.6" ry="2.4" fill="#fff" transform="rotate(-35 494.7 114.7)"/>
<rect x="394.9" y="52.2" width="63.3" height="56.7" fill="none" stroke="rgb(60,130,225)" stroke-width="1.6" stroke-dasharray="6,5.7"/>
<rect x="454" y="161.5" width="84.5" height="2.4" fill="#fff"/>
<text x="470.5" y="154.3" font-family="Liberation Sans, sans-serif" font-weight="bold" font-size="15.5" fill="#fff" textLength="49" lengthAdjust="spacing">20 μm</text>
<text x="325" y="19.5" font-family="Liberation Sans, sans-serif" font-weight="bold" font-size="17" fill="#fff">(b)</text>
<text x="477.5" y="18.8" font-family="Liberation Sans, sans-serif" font-weight="bold" font-size="17" fill="#fff">ε</text>
<text x="486" y="22" font-family="Liberation Sans, sans-serif" font-weight="bold" font-size="12.5" fill="#fff">eff</text>
<text x="504.5" y="19.2" font-family="Liberation Sans, sans-serif" font-weight="bold" font-size="17" fill="#fff">map</text>
<defs><linearGradient id="cbB" x1="0" y1="0" x2="0" y2="1"><stop offset="0.00" stop-color="#f0f921"/><stop offset="0.10" stop-color="#fcce25"/><stop offset="0.20" stop-color="#fca636"/><stop offset="0.30" stop-color="#f2844b"/><stop offset="0.40" stop-color="#e16462"/><stop offset="0.50" stop-color="#cc4778"/><stop offset="0.60" stop-color="#b12a90"/><stop offset="0.70" stop-color="#8f0da4"/><stop offset="0.80" stop-color="#6a00a8"/><stop offset="0.90" stop-color="#41049d"/><stop offset="1.00" stop-color="#0d0887"/></linearGradient></defs><rect x="548.5" y="6" width="10.5" height="158" fill="url(#cbB)" stroke="#555" stroke-width="0.4"/>
<text x="562" y="10.0" font-family="Liberation Sans, sans-serif" font-weight="bold" font-size="9.5" fill="#222">20</text>
<text x="562" y="49.5" font-family="Liberation Sans, sans-serif" font-weight="bold" font-size="9.5" fill="#222">15</text>
<text x="562" y="89.5" font-family="Liberation Sans, sans-serif" font-weight="bold" font-size="9.5" fill="#222">10</text>
<text x="562" y="129.0" font-family="Liberation Sans, sans-serif" font-weight="bold" font-size="9.5" fill="#222">5</text>
<text x="562" y="168.0" font-family="Liberation Sans, sans-serif" font-weight="bold" font-size="9.5" fill="#222">0</text>
<g transform="translate(583,86) rotate(-90)"><text x="0" y="0" font-family="Liberation Sans, sans-serif" font-weight="bold" font-size="8" fill="#222" text-anchor="middle">ε<tspan font-size="6" dy="2">eff</tspan><tspan dy="-2"> (%)</tspan></text></g>
<line x1="7.3" y1="195" x2="652" y2="195" stroke="rgb(40,112,170)" stroke-width="2.3" stroke-dasharray="5.5,6.2" fill="none"/>
<line x1="6" y1="198.3" x2="6" y2="382" stroke="rgb(40,112,170)" stroke-width="2.3" stroke-dasharray="5.5,6.2" fill="none"/>
<line x1="649.4" y1="199.7" x2="649.4" y2="382" stroke="rgb(40,112,170)" stroke-width="2.3" stroke-dasharray="5.5,6.2" fill="none"/>
<line x1="318.5" y1="381.8" x2="652" y2="381.8" stroke="rgb(40,112,170)" stroke-width="2.3" stroke-dasharray="5.5,6.2" fill="none"/>
<line x1="318.5" y1="381.8" x2="7" y2="381.8" stroke="rgb(40,112,170)" stroke-width="2.3" stroke-dasharray="5.5,6.2" fill="none"/>
<line x1="7" y1="407.3" x2="444" y2="407.3" stroke="rgb(40,112,170)" stroke-width="2.3" stroke-dasharray="5.5,6.2" fill="none"/>
<line x1="5.8" y1="410" x2="5.8" y2="567" stroke="rgb(40,112,170)" stroke-width="2.3" stroke-dasharray="5.5,6.2" fill="none"/>
<line x1="442.8" y1="410" x2="442.8" y2="567" stroke="rgb(40,112,170)" stroke-width="2.3" stroke-dasharray="5.5,6.2" fill="none"/>
<line x1="7" y1="566.5" x2="444" y2="566.5" stroke="rgb(40,112,170)" stroke-width="2.3" stroke-dasharray="5.5,6.2" fill="none"/>
<polygon points="320.4,170.6 325.4,170.6 325.4,181.2 328.2,181.2 322.9,191.8 317.6,181.2 320.4,181.2" fill="rgb(72,112,200)" stroke="rgb(40,70,150)" stroke-width="0.6"/>
<polygon points="362.9,382.6 367.4,382.6 367.4,393.2 370,393.2 365,403.8 360.2,393.2 362.9,393.2" fill="rgb(72,112,200)" stroke="rgb(40,70,150)" stroke-width="0.6"/>
<defs><clipPath id="clipC"><rect x="9.8" y="198.5" width="173.8" height="138.6"/></clipPath><filter id="blurC" x="-10%" y="-10%" width="120%" height="120%"><feGaussianBlur stdDeviation="9"/></filter><filter id="blurS" x="-10%" y="-10%" width="120%" height="120%"><feGaussianBlur stdDeviation="0.5"/></filter></defs>
<g clip-path="url(#clipC)">
<rect x="9.8" y="198.5" width="173.8" height="138.6" fill="rgb(40,13,150)"/>
<polygon points="49.8,348.5 69.8,308.5 159.8,218.5 199.8,188.5 199.8,348.5" fill="rgb(48,12,156)" filter="url(#blurC)"/>
<g><line x1="67.8" y1="311.7" x2="72.1" y2="337.1" stroke="rgb(165,45,170)" stroke-opacity="0.53" stroke-width="1"/><line x1="75.2" y1="305.0" x2="80.7" y2="337.1" stroke="rgb(130,30,175)" stroke-opacity="0.39" stroke-width="1"/><line x1="81.4" y1="301.2" x2="87.5" y2="337.1" stroke="rgb(130,30,175)" stroke-opacity="0.38" stroke-width="1"/><line x1="86.0" y1="298.1" x2="92.7" y2="337.1" stroke="rgb(165,45,170)" stroke-opacity="0.59" stroke-width="1"/><line x1="91.0" y1="294.3" x2="98.2" y2="337.1" stroke="rgb(130,30,175)" stroke-opacity="0.58" stroke-width="1"/><line x1="96.0" y1="290.4" x2="103.9" y2="337.1" stroke="rgb(130,30,175)" stroke-opacity="0.47" stroke-width="1"/><line x1="104.8" y1="283.3" x2="113.9" y2="337.1" stroke="rgb(165,45,170)" stroke-opacity="0.67" stroke-width="1"/><line x1="113.7" y1="274.8" x2="124.3" y2="337.1" stroke="rgb(130,30,175)" stroke-opacity="0.38" stroke-width="1"/><line x1="119.5" y1="268.7" x2="131.1" y2="337.1" stroke="rgb(165,45,170)" stroke-opacity="0.43" stroke-width="1"/><line x1="125.4" y1="261.2" x2="138.3" y2="337.1" stroke="rgb(165,45,170)" stroke-opacity="0.80" stroke-width="1"/><line x1="132.5" y1="252.2" x2="146.9" y2="337.1" stroke="rgb(165,45,170)" stroke-opacity="0.70" stroke-width="1"/><line x1="139.4" y1="243.3" x2="155.4" y2="337.1" stroke="rgb(165,45,170)" stroke-opacity="0.38" stroke-width="1"/><line x1="144.9" y1="236.3" x2="162.0" y2="337.1" stroke="rgb(165,45,170)" stroke-opacity="0.72" stroke-width="1"/><line x1="150.8" y1="228.8" x2="169.2" y2="337.1" stroke="rgb(165,45,170)" stroke-opacity="0.67" stroke-width="1"/><line x1="156.6" y1="221.2" x2="176.3" y2="337.1" stroke="rgb(130,30,175)" stroke-opacity="0.79" stroke-width="1"/><line x1="162.2" y1="214.0" x2="183.2" y2="337.1" stroke="rgb(130,30,175)" stroke-opacity="0.67" stroke-width="1"/><line x1="170.7" y1="203.0" x2="193.5" y2="337.1" stroke="rgb(165,45,170)" stroke-opacity="0.75" stroke-width="1"/><line x1="179.6" y1="198.5" x2="203.1" y2="337.1" stroke="rgb(165,45,170)" stroke-opacity="0.41" stroke-width="1"/><line x1="187.5" y1="198.5" x2="211.0" y2="337.1" stroke="rgb(165,45,170)" stroke-opacity="0.43" stroke-width="1"/></g>
<path d="M176.8,198.5 Q177.8,214.5 167.8,220.5" fill="none" stroke="rgb(240,170,90)" stroke-width="1.1"/>

<path d="M73.2,306.3 C75.1,305.1 80.7,301.9 84.5,299.3 C88.3,296.7 91.9,293.7 95.8,290.6 C99.7,287.5 104.1,284.3 108.0,280.7 C111.9,277.1 115.5,273.2 119.3,268.9 C123.1,264.5 126.8,259.4 130.6,254.6 C134.4,249.8 138.1,244.9 141.9,240.1 C145.7,235.3 151.3,228.1 153.2,225.7" fill="none" stroke="rgb(225,120,80)" stroke-width="1.2"/>
<path d="M73.2,306.3 C75.1,305.1 80.7,301.9 84.5,299.3 C88.3,296.7 91.9,293.7 95.8,290.6 C99.7,287.5 104.1,284.3 108.0,280.7 C111.9,277.1 115.5,273.2 119.3,268.9 C123.1,264.5 126.8,259.4 130.6,254.6 C134.4,249.8 138.1,244.9 141.9,240.1 C145.7,235.3 151.3,228.1 153.2,225.7" fill="none" stroke="rgb(30,0,30)" stroke-width="0.8" stroke-dasharray="2,3"/>
</g>
<line x1="74.1" y1="298.3" x2="78.0" y2="302.5" stroke="#fff" stroke-opacity="1.0" stroke-width="1.7" stroke-linecap="round"/>
<line x1="78.0" y1="302.5" x2="81.1" y2="306.8" stroke="#fff" stroke-opacity="0.55" stroke-width="2" stroke-linecap="round"/>
<path d="M79.9,305.7 L81.9,308.8 L83.3,305.6" fill="none" stroke="#fff" stroke-opacity="0.40" stroke-width="0.8"/>
<line x1="87.2" y1="290.4" x2="91.1" y2="294.6" stroke="#fff" stroke-opacity="1.0" stroke-width="1.7" stroke-linecap="round"/>
<line x1="91.1" y1="294.6" x2="94.2" y2="298.9" stroke="#fff" stroke-opacity="0.55" stroke-width="2" stroke-linecap="round"/>
<path d="M93.0,297.8 L95.0,300.9 L96.4,297.7" fill="none" stroke="#fff" stroke-opacity="0.40" stroke-width="0.8"/>
<line x1="98.5" y1="280.9" x2="102.4" y2="285.1" stroke="#fff" stroke-opacity="1.0" stroke-width="1.7" stroke-linecap="round"/>
<line x1="102.4" y1="285.1" x2="105.5" y2="289.4" stroke="#fff" stroke-opacity="0.55" stroke-width="2" stroke-linecap="round"/>
<path d="M104.3,288.3 L106.3,291.4 L107.7,288.2" fill="none" stroke="#fff" stroke-opacity="0.40" stroke-width="0.8"/>
<line x1="109.8" y1="271.3" x2="113.7" y2="275.5" stroke="#fff" stroke-opacity="1.0" stroke-width="1.7" stroke-linecap="round"/>
<line x1="113.7" y1="275.5" x2="116.8" y2="279.8" stroke="#fff" stroke-opacity="0.55" stroke-width="2" stroke-linecap="round"/>
<path d="M115.6,278.7 L117.6,281.8 L119.0,278.6" fill="none" stroke="#fff" stroke-opacity="0.40" stroke-width="0.8"/>
<line x1="121.1" y1="258.8" x2="125.0" y2="263.0" stroke="#fff" stroke-opacity="1.0" stroke-width="1.7" stroke-linecap="round"/>
<line x1="125.0" y1="263.0" x2="128.1" y2="267.3" stroke="#fff" stroke-opacity="0.55" stroke-width="2" stroke-linecap="round"/>
<path d="M126.9,266.2 L128.9,269.3 L130.3,266.1" fill="none" stroke="#fff" stroke-opacity="0.40" stroke-width="0.8"/>
<line x1="132.4" y1="244.3" x2="136.3" y2="248.5" stroke="#fff" stroke-opacity="1.0" stroke-width="1.7" stroke-linecap="round"/>
<line x1="136.3" y1="248.5" x2="139.4" y2="252.8" stroke="#fff" stroke-opacity="0.55" stroke-width="2" stroke-linecap="round"/>
<path d="M138.2,251.7 L140.2,254.8 L141.6,251.6" fill="none" stroke="#fff" stroke-opacity="0.40" stroke-width="0.8"/>
<line x1="143.7" y1="228.7" x2="147.6" y2="232.9" stroke="#fff" stroke-opacity="1.0" stroke-width="1.7" stroke-linecap="round"/>
<line x1="147.6" y1="232.9" x2="150.7" y2="237.2" stroke="#fff" stroke-opacity="0.55" stroke-width="2" stroke-linecap="round"/>
<path d="M149.5,236.1 L151.5,239.2 L152.9,236.0" fill="none" stroke="#fff" stroke-opacity="0.40" stroke-width="0.8"/>
<ellipse cx="133.3" cy="293.8" rx="2.8" ry="2.3" fill="#fff"/><ellipse cx="136.8" cy="294.3" rx="1.3" ry="1" fill="#fff" fill-opacity="0.8"/>
<circle cx="156.5" cy="223.5" r="1.5" fill="#fff"/>
<text x="12" y="214" font-family="Liberation Sans, sans-serif" font-weight="bold" font-size="16.5" fill="#fff">(c)</text>
<text x="148" y="218.5" font-family="Liberation Sans, sans-serif" font-weight="bold" font-size="19.5" fill="#fff">ε</text>
<text x="158.5" y="221.5" font-family="Liberation Sans, sans-serif" font-weight="bold" font-size="12.5" fill="#fff">eff</text>
<defs><linearGradient id="cbC" x1="0" y1="0" x2="0" y2="1"><stop offset="0.00" stop-color="#f0f921"/><stop offset="0.10" stop-color="#fcce25"/><stop offset="0.20" stop-color="#fca636"/><stop offset="0.30" stop-color="#f2844b"/><stop offset="0.40" stop-color="#e16462"/><stop offset="0.50" stop-color="#cc4778"/><stop offset="0.60" stop-color="#b12a90"/><stop offset="0.70" stop-color="#8f0da4"/><stop offset="0.80" stop-color="#6a00a8"/><stop offset="0.90" stop-color="#41049d"/><stop offset="1.00" stop-color="#0d0887"/></linearGradient></defs><rect x="187" y="202.8" width="7.300000000000011" height="135.2" fill="url(#cbC)" stroke="#555" stroke-width="0.4"/>
<text x="197.5" y="206.6" font-family="Liberation Sans, sans-serif" font-weight="bold" font-size="8" fill="#333">20</text>
<text x="197.5" y="240.5" font-family="Liberation Sans, sans-serif" font-weight="bold" font-size="8" fill="#333">15</text>
<text x="197.5" y="274.2" font-family="Liberation Sans, sans-serif" font-weight="bold" font-size="8" fill="#333">10</text>
<text x="197.5" y="307.6" font-family="Liberation Sans, sans-serif" font-weight="bold" font-size="8" fill="#333">5</text>
<text x="197.5" y="341.0" font-family="Liberation Sans, sans-serif" font-weight="bold" font-size="8" fill="#333">0</text>
<g transform="translate(216.5,271) rotate(-90)"><text x="0" y="0" font-family="Liberation Sans, sans-serif" font-weight="bold" font-size="7.5" fill="#222" text-anchor="middle">ε<tspan font-size="5" dy="1.5">eff</tspan><tspan dy="-1.5"> (%)</tspan></text></g>
<defs><filter id="fD" x="-5%" y="-5%" width="110%" height="110%"><feGaussianBlur stdDeviation="3.6"/></filter><clipPath id="fDc"><rect x="222.5" y="198.6" width="172.3" height="138.7"/></clipPath></defs>
<g clip-path="url(#fDc)"><g filter="url(#fD)" transform="translate(222.5,198.6)">
<rect x="-5" y="-5" width="5.3" height="5.3" fill="#8f0da4"/>
<rect x="0" y="-5" width="5.3" height="5.3" fill="#8d0ca4"/>
<rect x="5" y="-5" width="5.3" height="5.3" fill="#890ba5"/>
<rect x="10" y="-5" width="5.3" height="5.3" fill="#860aa5"/>
<rect x="15" y="-5" width="5.3" height="5.3" fill="#8208a5"/>
<rect x="20" y="-5" width="5.3" height="5.3" fill="#7e07a6"/>
<rect x="25" y="-5" width="5.3" height="5.3" fill="#7b06a6"/>
<rect x="30" y="-5" width="5.3" height="5.3" fill="#7705a7"/>
<rect x="35" y="-5" width="5.3" height="5.3" fill="#7303a7"/>
<rect x="40" y="-5" width="5.3" height="5.3" fill="#7002a7"/>
<rect x="45" y="-5" width="5.3" height="5.3" fill="#6c01a8"/>
<rect x="50" y="-5" width="5.3" height="5.3" fill="#6800a7"/>
<rect x="55" y="-5" width="5.3" height="5.3" fill="#6401a6"/>
<rect x="60" y="-5" width="5.3" height="5.3" fill="#6101a5"/>
<rect x="65" y="-5" width="5.3" height="5.3" fill="#5e01a5"/>
<rect x="70" y="-5" width="5.3" height="5.3" fill="#5c01a4"/>
<rect x="75" y="-5" width="5.3" height="5.3" fill="#5902a3"/>
<rect x="80" y="-5" width="5.3" height="5.3" fill="#5702a3"/>
<rect x="85" y="-5" width="5.3" height="5.3" fill="#5502a2"/>
<rect x="90" y="-5" width="5.3" height="5.3" fill="#5302a2"/>
<rect x="95" y="-5" width="5.3" height="5.3" fill="#5202a2"/>
<rect x="100" y="-5" width="5.3" height="5.3" fill="#5202a1"/>
<rect x="105" y="-5" width="5.3" height="5.3" fill="#5102a1"/>
<rect x="110" y="-5" width="5.3" height="5.3" fill="#5002a1"/>
<rect x="115" y="-5" width="5.3" height="5.3" fill="#5302a2"/>
<rect x="120" y="-5" width="5.3" height="5.3" fill="#5a02a4"/>
<rect x="125" y="-5" width="5.3" height="5.3" fill="#6101a6"/>
<rect x="130" y="-5" width="5.3" height="5.3" fill="#6a00a8"/>
<rect x="135" y="-5" width="5.3" height="5.3" fill="#7303a7"/>
<rect x="140" y="-5" width="5.3" height="5.3" fill="#7e07a6"/>
<rect x="145" y="-5" width="5.3" height="5.3" fill="#890ba5"/>
<rect x="150" y="-5" width="5.3" height="5.3" fill="#9311a1"/>
<rect x="155" y="-5" width="5.3" height="5.3" fill="#9f1b9a"/>
<rect x="160" y="-5" width="5.3" height="5.3" fill="#ac2693"/>
<rect x="165" y="-5" width="5.3" height="5.3" fill="#b8328a"/>
<rect x="170" y="-5" width="5.3" height="5.3" fill="#c33d80"/>
<rect x="175" y="-5" width="5.3" height="5.3" fill="#cb4679"/>
<rect x="180" y="-5" width="5.3" height="5.3" fill="#d04d74"/>
<rect x="-5" y="0" width="5.3" height="5.3" fill="#900ea3"/>
<rect x="0" y="0" width="5.3" height="5.3" fill="#8f0da4"/>
<rect x="5" y="0" width="5.3" height="5.3" fill="#8b0ba4"/>
<rect x="10" y="0" width="5.3" height="5.3" fill="#860aa5"/>
<rect x="15" y="0" width="5.3" height="5.3" fill="#8309a5"/>
<rect x="20" y="0" width="5.3" height="5.3" fill="#7f07a6"/>
<rect x="25" y="0" width="5.3" height="5.3" fill="#7b06a6"/>
<rect x="30" y="0" width="5.3" height="5.3" fill="#7705a7"/>
<rect x="35" y="0" width="5.3" height="5.3" fill="#7303a7"/>
<rect x="40" y="0" width="5.3" height="5.3" fill="#7002a7"/>
<rect x="45" y="0" width="5.3" height="5.3" fill="#6c01a8"/>
<rect x="50" y="0" width="5.3" height="5.3" fill="#6800a7"/>
<rect x="55" y="0" width="5.3" height="5.3" fill="#6401a6"/>
<rect x="60" y="0" width="5.3" height="5.3" fill="#6101a5"/>
<rect x="65" y="0" width="5.3" height="5.3" fill="#5e01a5"/>
<rect x="70" y="0" width="5.3" height="5.3" fill="#5c01a4"/>
<rect x="75" y="0" width="5.3" height="5.3" fill="#5902a3"/>
<rect x="80" y="0" width="5.3" height="5.3" fill="#5602a3"/>
<rect x="85" y="0" width="5.3" height="5.3" fill="#5502a2"/>
<rect x="90" y="0" width="5.3" height="5.3" fill="#5302a2"/>
<rect x="95" y="0" width="5.3" height="5.3" fill="#5202a2"/>
<rect x="100" y="0" width="5.3" height="5.3" fill="#5102a1"/>
<rect x="105" y="0" width="5.3" height="5.3" fill="#5202a1"/>
<rect x="110" y="0" width="5.3" height="5.3" fill="#5102a1"/>
<rect x="115" y="0" width="5.3" height="5.3" fill="#5502a2"/>
<rect x="120" y="0" width="5.3" height="5.3" fill="#5c01a4"/>
<rect x="125" y="0" width="5.3" height="5.3" fill="#6401a6"/>
<rect x="130" y="0" width="5.3" height="5.3" fill="#6d01a8"/>
<rect x="135" y="0" width="5.3" height="5.3" fill="#7604a7"/>
<rect x="140" y="0" width="5.3" height="5.3" fill="#8208a5"/>
<rect x="145" y="0" width="5.3" height="5.3" fill="#8e0da4"/>
<rect x="150" y="0" width="5.3" height="5.3" fill="#9a169e"/>
<rect x="155" y="0" width="5.3" height="5.3" fill="#a62196"/>
<rect x="160" y="0" width="5.3" height="5.3" fill="#b32c8e"/>
<rect x="165" y="0" width="5.3" height="5.3" fill="#bd3785"/>
<rect x="170" y="0" width="5.3" height="5.3" fill="#c7427c"/>
<rect x="175" y="0" width="5.3" height="5.3" fill="#ce4a76"/>
<rect x="180" y="0" width="5.3" height="5.3" fill="#d24f72"/>
<rect x="-5" y="5" width="5.3" height="5.3" fill="#9311a1"/>
<rect x="0" y="5" width="5.3" height="5.3" fill="#910fa3"/>
<rect x="5" y="5" width="5.3" height="5.3" fill="#8d0ca4"/>
<rect x="10" y="5" width="5.3" height="5.3" fill="#880aa5"/>
<rect x="15" y="5" width="5.3" height="5.3" fill="#8409a5"/>
<rect x="20" y="5" width="5.3" height="5.3" fill="#8008a6"/>
<rect x="25" y="5" width="5.3" height="5.3" fill="#7c06a6"/>
<rect x="30" y="5" width="5.3" height="5.3" fill="#7805a7"/>
<rect x="35" y="5" width="5.3" height="5.3" fill="#7403a7"/>
<rect x="40" y="5" width="5.3" height="5.3" fill="#7002a7"/>
<rect x="45" y="5" width="5.3" height="5.3" fill="#6c01a8"/>
<rect x="50" y="5" width="5.3" height="5.3" fill="#6800a8"/>
<rect x="55" y="5" width="5.3" height="5.3" fill="#6401a6"/>
<rect x="60" y="5" width="5.3" height="5.3" fill="#6001a5"/>
<rect x="65" y="5" width="5.3" height="5.3" fill="#5e01a5"/>
<rect x="70" y="5" width="5.3" height="5.3" fill="#5b01a4"/>
<rect x="75" y="5" width="5.3" height="5.3" fill="#5902a3"/>
<rect x="80" y="5" width="5.3" height="5.3" fill="#5602a3"/>
<rect x="85" y="5" width="5.3" height="5.3" fill="#5402a2"/>
<rect x="90" y="5" width="5.3" height="5.3" fill="#5302a2"/>
<rect x="95" y="5" width="5.3" height="5.3" fill="#5202a2"/>
<rect x="100" y="5" width="5.3" height="5.3" fill="#5102a1"/>
<rect x="105" y="5" width="5.3" height="5.3" fill="#5003a1"/>
<rect x="110" y="5" width="5.3" height="5.3" fill="#4f03a1"/>
<rect x="115" y="5" width="5.3" height="5.3" fill="#5702a3"/>
<rect x="120" y="5" width="5.3" height="5.3" fill="#5f01a5"/>
<rect x="125" y="5" width="5.3" height="5.3" fill="#6700a7"/>
<rect x="130" y="5" width="5.3" height="5.3" fill="#6f02a7"/>
<rect x="135" y="5" width="5.3" height="5.3" fill="#7805a6"/>
<rect x="140" y="5" width="5.3" height="5.3" fill="#850aa5"/>
<rect x="145" y="5" width="5.3" height="5.3" fill="#9311a2"/>
<rect x="150" y="5" width="5.3" height="5.3" fill="#a11c9a"/>
<rect x="155" y="5" width="5.3" height="5.3" fill="#ae2892"/>
<rect x="160" y="5" width="5.3" height="5.3" fill="#b93289"/>
<rect x="165" y="5" width="5.3" height="5.3" fill="#c33d80"/>
<rect x="170" y="5" width="5.3" height="5.3" fill="#cc4778"/>
<rect x="175" y="5" width="5.3" height="5.3" fill="#d14d73"/>
<rect x="180" y="5" width="5.3" height="5.3" fill="#d45270"/>
<rect x="-5" y="10" width="5.3" height="5.3" fill="#9613a0"/>
<rect x="0" y="10" width="5.3" height="5.3" fill="#9411a1"/>
<rect x="5" y="10" width="5.3" height="5.3" fill="#8f0da4"/>
<rect x="10" y="10" width="5.3" height="5.3" fill="#890ba5"/>
<rect x="15" y="10" width="5.3" height="5.3" fill="#8409a5"/>
<rect x="20" y="10" width="5.3" height="5.3" fill="#8008a6"/>
<rect x="25" y="10" width="5.3" height="5.3" fill="#7c06a6"/>
<rect x="30" y="10" width="5.3" height="5.3" fill="#7805a6"/>
<rect x="35" y="10" width="5.3" height="5.3" fill="#7404a7"/>
<rect x="40" y="10" width="5.3" height="5.3" fill="#7002a7"/>
<rect x="45" y="10" width="5.3" height="5.3" fill="#6c01a8"/>
<rect x="50" y="10" width="5.3" height="5.3" fill="#6800a8"/>
<rect x="55" y="10" width="5.3" height="5.3" fill="#6401a6"/>
<rect x="60" y="10" width="5.3" height="5.3" fill="#6001a5"/>
<rect x="65" y="10" width="5.3" height="5.3" fill="#5e01a5"/>
<rect x="70" y="10" width="5.3" height="5.3" fill="#5b01a4"/>
<rect x="75" y="10" width="5.3" height="5.3" fill="#5802a3"/>
<rect x="80" y="10" width="5.3" height="5.3" fill="#5502a2"/>
<rect x="85" y="10" width="5.3" height="5.3" fill="#5402a2"/>
<rect x="90" y="10" width="5.3" height="5.3" fill="#5302a2"/>
<rect x="95" y="10" width="5.3" height="5.3" fill="#5202a2"/>
<rect x="100" y="10" width="5.3" height="5.3" fill="#5102a1"/>
<rect x="105" y="10" width="5.3" height="5.3" fill="#5003a1"/>
<rect x="110" y="10" width="5.3" height="5.3" fill="#4f03a1"/>
<rect x="115" y="10" width="5.3" height="5.3" fill="#5102a1"/>
<rect x="120" y="10" width="5.3" height="5.3" fill="#6201a6"/>
<rect x="125" y="10" width="5.3" height="5.3" fill="#6900a8"/>
<rect x="130" y="10" width="5.3" height="5.3" fill="#7102a7"/>
<rect x="135" y="10" width="5.3" height="5.3" fill="#7b06a6"/>
<rect x="140" y="10" width="5.3" height="5.3" fill="#890ba5"/>
<rect x="145" y="10" width="5.3" height="5.3" fill="#9a169e"/>
<rect x="150" y="10" width="5.3" height="5.3" fill="#aa2494"/>
<rect x="155" y="10" width="5.3" height="5.3" fill="#b7308b"/>
<rect x="160" y="10" width="5.3" height="5.3" fill="#c03a83"/>
<rect x="165" y="10" width="5.3" height="5.3" fill="#c7427c"/>
<rect x="170" y="10" width="5.3" height="5.3" fill="#cf4b75"/>
<rect x="175" y="10" width="5.3" height="5.3" fill="#d35071"/>
<rect x="180" y="10" width="5.3" height="5.3" fill="#d6546e"/>
<rect x="-5" y="15" width="5.3" height="5.3" fill="#99169e"/>
<rect x="0" y="15" width="5.3" height="5.3" fill="#9613a0"/>
<rect x="5" y="15" width="5.3" height="5.3" fill="#910ea3"/>
<rect x="10" y="15" width="5.3" height="5.3" fill="#8b0ba4"/>
<rect x="15" y="15" width="5.3" height="5.3" fill="#850aa5"/>
<rect x="20" y="15" width="5.3" height="5.3" fill="#8108a5"/>
<rect x="25" y="15" width="5.3" height="5.3" fill="#7d07a6"/>
<rect x="30" y="15" width="5.3" height="5.3" fill="#7905a6"/>
<rect x="35" y="15" width="5.3" height="5.3" fill="#7504a7"/>
<rect x="40" y="15" width="5.3" height="5.3" fill="#7102a7"/>
<rect x="45" y="15" width="5.3" height="5.3" fill="#6d01a8"/>
<rect x="50" y="15" width="5.3" height="5.3" fill="#6800a8"/>
<rect x="55" y="15" width="5.3" height="5.3" fill="#6401a6"/>
<rect x="60" y="15" width="5.3" height="5.3" fill="#6001a5"/>
<rect x="65" y="15" width="5.3" height="5.3" fill="#5d01a5"/>
<rect x="70" y="15" width="5.3" height="5.3" fill="#5b01a4"/>
<rect x="75" y="15" width="5.3" height="5.3" fill="#5802a3"/>
<rect x="80" y="15" width="5.3" height="5.3" fill="#5502a2"/>
<rect x="85" y="15" width="5.3" height="5.3" fill="#5302a2"/>
<rect x="90" y="15" width="5.3" height="5.3" fill="#5202a2"/>
<rect x="95" y="15" width="5.3" height="5.3" fill="#5202a1"/>
<rect x="100" y="15" width="5.3" height="5.3" fill="#5102a1"/>
<rect x="105" y="15" width="5.3" height="5.3" fill="#5002a1"/>
<rect x="110" y="15" width="5.3" height="5.3" fill="#5003a1"/>
<rect x="115" y="15" width="5.3" height="5.3" fill="#5202a2"/>
<rect x="120" y="15" width="5.3" height="5.3" fill="#5702a3"/>
<rect x="125" y="15" width="5.3" height="5.3" fill="#5d01a4"/>
<rect x="130" y="15" width="5.3" height="5.3" fill="#7303a7"/>
<rect x="135" y="15" width="5.3" height="5.3" fill="#7e07a6"/>
<rect x="140" y="15" width="5.3" height="5.3" fill="#8f0da4"/>
<rect x="145" y="15" width="5.3" height="5.3" fill="#a31e98"/>
<rect x="150" y="15" width="5.3" height="5.3" fill="#b52e8d"/>
<rect x="155" y="15" width="5.3" height="5.3" fill="#bf3983"/>
<rect x="160" y="15" width="5.3" height="5.3" fill="#c7417d"/>
<rect x="165" y="15" width="5.3" height="5.3" fill="#cc4778"/>
<rect x="170" y="15" width="5.3" height="5.3" fill="#d14e73"/>
<rect x="175" y="15" width="5.3" height="5.3" fill="#d5536f"/>
<rect x="180" y="15" width="5.3" height="5.3" fill="#d7566c"/>
<rect x="-5" y="20" width="5.3" height="5.3" fill="#9c189c"/>
<rect x="0" y="20" width="5.3" height="5.3" fill="#99169e"/>
<rect x="5" y="20" width="5.3" height="5.3" fill="#9310a2"/>
<rect x="10" y="20" width="5.3" height="5.3" fill="#8c0ca4"/>
<rect x="15" y="20" width="5.3" height="5.3" fill="#860aa5"/>
<rect x="20" y="20" width="5.3" height="5.3" fill="#8208a5"/>
<rect x="25" y="20" width="5.3" height="5.3" fill="#7d07a6"/>
<rect x="30" y="20" width="5.3" height="5.3" fill="#7905a6"/>
<rect x="35" y="20" width="5.3" height="5.3" fill="#7504a7"/>
<rect x="40" y="20" width="5.3" height="5.3" fill="#7102a7"/>
<rect x="45" y="20" width="5.3" height="5.3" fill="#6d01a8"/>
<rect x="50" y="20" width="5.3" height="5.3" fill="#6900a8"/>
<rect x="55" y="20" width="5.3" height="5.3" fill="#6401a6"/>
<rect x="60" y="20" width="5.3" height="5.3" fill="#6001a5"/>
<rect x="65" y="20" width="5.3" height="5.3" fill="#5d01a5"/>
<rect x="70" y="20" width="5.3" height="5.3" fill="#5a02a4"/>
<rect x="75" y="20" width="5.3" height="5.3" fill="#5702a3"/>
<rect x="80" y="20" width="5.3" height="5.3" fill="#5402a2"/>
<rect x="85" y="20" width="5.3" height="5.3" fill="#5302a2"/>
<rect x="90" y="20" width="5.3" height="5.3" fill="#5202a2"/>
<rect x="95" y="20" width="5.3" height="5.3" fill="#5202a1"/>
<rect x="100" y="20" width="10.3" height="5.3" fill="#5102a1"/>
<rect x="110" y="20" width="5.3" height="5.3" fill="#5003a1"/>
<rect x="115" y="20" width="5.3" height="5.3" fill="#5302a2"/>
<rect x="120" y="20" width="5.3" height="5.3" fill="#5802a3"/>
<rect x="125" y="20" width="5.3" height="5.3" fill="#5f01a5"/>
<rect x="130" y="20" width="5.3" height="5.3" fill="#6700a7"/>
<rect x="135" y="20" width="5.3" height="5.3" fill="#8309a5"/>
<rect x="140" y="20" width="5.3" height="5.3" fill="#97149f"/>
<rect x="145" y="20" width="5.3" height="5.3" fill="#b22b8f"/>
<rect x="150" y="20" width="5.3" height="5.3" fill="#c03a83"/>
<rect x="155" y="20" width="5.3" height="5.3" fill="#c8437c"/>
<rect x="160" y="20" width="5.3" height="5.3" fill="#cd4877"/>
<rect x="165" y="20" width="5.3" height="5.3" fill="#d04c74"/>
<rect x="170" y="20" width="5.3" height="5.3" fill="#d35170"/>
<rect x="175" y="20" width="5.3" height="5.3" fill="#d6556d"/>
<rect x="180" y="20" width="5.3" height="5.3" fill="#d8586b"/>
<rect x="-5" y="25" width="5.3" height="5.3" fill="#9f1b9b"/>
<rect x="0" y="25" width="5.3" height="5.3" fill="#9c189d"/>
<rect x="5" y="25" width="5.3" height="5.3" fill="#9512a1"/>
<rect x="10" y="25" width="5.3" height="5.3" fill="#8e0da4"/>
<rect x="15" y="25" width="5.3" height="5.3" fill="#870aa5"/>
<rect x="20" y="25" width="5.3" height="5.3" fill="#8309a5"/>
<rect x="25" y="25" width="5.3" height="5.3" fill="#7e07a6"/>
<rect x="30" y="25" width="5.3" height="5.3" fill="#7a05a6"/>
<rect x="35" y="25" width="5.3" height="5.3" fill="#7504a7"/>
<rect x="40" y="25" width="5.3" height="5.3" fill="#7103a7"/>
<rect x="45" y="25" width="5.3" height="5.3" fill="#6d01a8"/>
<rect x="50" y="25" width="5.3" height="5.3" fill="#6900a8"/>
<rect x="55" y="25" width="5.3" height="5.3" fill="#6401a6"/>
<rect x="60" y="25" width="5.3" height="5.3" fill="#6001a5"/>
<rect x="65" y="25" width="5.3" height="5.3" fill="#5d01a5"/>
<rect x="70" y="25" width="5.3" height="5.3" fill="#5a02a4"/>
<rect x="75" y="25" width="5.3" height="5.3" fill="#5702a3"/>
<rect x="80" y="25" width="5.3" height="5.3" fill="#5402a2"/>
<rect x="85" y="25" width="10.3" height="5.3" fill="#5202a2"/>
<rect x="95" y="25" width="5.3" height="5.3" fill="#5202a1"/>
<rect x="100" y="25" width="15.3" height="5.3" fill="#5102a1"/>
<rect x="115" y="25" width="5.3" height="5.3" fill="#5402a2"/>
<rect x="120" y="25" width="5.3" height="5.3" fill="#5a02a4"/>
<rect x="125" y="25" width="5.3" height="5.3" fill="#6201a6"/>
<rect x="130" y="25" width="5.3" height="5.3" fill="#6f02a7"/>
<rect x="135" y="25" width="5.3" height="5.3" fill="#850aa5"/>
<rect x="140" y="25" width="5.3" height="5.3" fill="#a72196"/>
<rect x="145" y="25" width="5.3" height="5.3" fill="#c03a83"/>
<rect x="150" y="25" width="5.3" height="5.3" fill="#ca447a"/>
<rect x="155" y="25" width="5.3" height="5.3" fill="#ce4a76"/>
<rect x="160" y="25" width="5.3" height="5.3" fill="#d14e73"/>
<rect x="165" y="25" width="5.3" height="5.3" fill="#d35071"/>
<rect x="170" y="25" width="5.3" height="5.3" fill="#d5536f"/>
<rect x="175" y="25" width="5.3" height="5.3" fill="#d7576c"/>
<rect x="180" y="25" width="5.3" height="5.3" fill="#d9596a"/>
<rect x="-5" y="30" width="5.3" height="5.3" fill="#a21d99"/>
<rect x="0" y="30" width="5.3" height="5.3" fill="#9e1a9b"/>
<rect x="5" y="30" width="5.3" height="5.3" fill="#9714a0"/>
<rect x="10" y="30" width="5.3" height="5.3" fill="#8f0da4"/>
<rect x="15" y="30" width="5.3" height="5.3" fill="#880ba5"/>
<rect x="20" y="30" width="5.3" height="5.3" fill="#8409a5"/>
<rect x="25" y="30" width="5.3" height="5.3" fill="#7f07a6"/>
<rect x="30" y="30" width="5.3" height="5.3" fill="#7a06a6"/>
<rect x="35" y="30" width="5.3" height="5.3" fill="#7604a7"/>
<rect x="40" y="30" width="5.3" height="5.3" fill="#7203a7"/>
<rect x="45" y="30" width="5.3" height="5.3" fill="#6d01a8"/>
<rect x="50" y="30" width="5.3" height="5.3" fill="#6900a8"/>
<rect x="55" y="30" width="5.3" height="5.3" fill="#6401a6"/>
<rect x="60" y="30" width="5.3" height="5.3" fill="#6001a5"/>
<rect x="65" y="30" width="5.3" height="5.3" fill="#5d01a5"/>
<rect x="70" y="30" width="5.3" height="5.3" fill="#5a02a4"/>
<rect x="75" y="30" width="5.3" height="5.3" fill="#5702a3"/>
<rect x="80" y="30" width="5.3" height="5.3" fill="#5302a2"/>
<rect x="85" y="30" width="10.3" height="5.3" fill="#5202a1"/>
<rect x="95" y="30" width="15.3" height="5.3" fill="#5102a1"/>
<rect x="110" y="30" width="5.3" height="5.3" fill="#5202a1"/>
<rect x="115" y="30" width="5.3" height="5.3" fill="#5502a2"/>
<rect x="120" y="30" width="5.3" height="5.3" fill="#5d01a4"/>
<rect x="125" y="30" width="5.3" height="5.3" fill="#6900a8"/>
<rect x="130" y="30" width="5.3" height="5.3" fill="#7d07a6"/>
<rect x="135" y="30" width="5.3" height="5.3" fill="#9f1a9b"/>
<rect x="140" y="30" width="5.3" height="5.3" fill="#c03a83"/>
<rect x="145" y="30" width="5.3" height="5.3" fill="#d24f72"/>
<rect x="150" y="30" width="5.3" height="5.3" fill="#d8586b"/>
<rect x="155" y="30" width="5.3" height="5.3" fill="#d24f72"/>
<rect x="160" y="30" width="5.3" height="5.3" fill="#d45170"/>
<rect x="165" y="30" width="5.3" height="5.3" fill="#d5536f"/>
<rect x="170" y="30" width="5.3" height="5.3" fill="#d7566d"/>
<rect x="175" y="30" width="5.3" height="5.3" fill="#d8586b"/>
<rect x="180" y="30" width="5.3" height="5.3" fill="#da5a6a"/>
<rect x="-5" y="35" width="5.3" height="5.3" fill="#a41f97"/>
<rect x="0" y="35" width="5.3" height="5.3" fill="#a01c9a"/>
<rect x="5" y="35" width="5.3" height="5.3" fill="#98159e"/>
<rect x="10" y="35" width="5.3" height="5.3" fill="#900ea3"/>
<rect x="15" y="35" width="5.3" height="5.3" fill="#8a0ba5"/>
<rect x="20" y="35" width="5.3" height="5.3" fill="#8409a5"/>
<rect x="25" y="35" width="5.3" height="5.3" fill="#7f08a6"/>
<rect x="30" y="35" width="5.3" height="5.3" fill="#7b06a6"/>
<rect x="35" y="35" width="5.3" height="5.3" fill="#7704a7"/>
<rect x="40" y="35" width="5.3" height="5.3" fill="#7203a7"/>
<rect x="45" y="35" width="5.3" height="5.3" fill="#6e01a8"/>
<rect x="50" y="35" width="5.3" height="5.3" fill="#6a00a8"/>
<rect x="55" y="35" width="5.3" height="5.3" fill="#6500a7"/>
<rect x="60" y="35" width="5.3" height="5.3" fill="#6101a6"/>
<rect x="65" y="35" width="5.3" height="5.3" fill="#5e01a5"/>
<rect x="70" y="35" width="5.3" height="5.3" fill="#5b01a4"/>
<rect x="75" y="35" width="5.3" height="5.3" fill="#5702a3"/>
<rect x="80" y="35" width="5.3" height="5.3" fill="#5402a2"/>
<rect x="85" y="35" width="25.3" height="5.3" fill="#5302a2"/>
<rect x="110" y="35" width="5.3" height="5.3" fill="#5402a2"/>
<rect x="115" y="35" width="5.3" height="5.3" fill="#5902a3"/>
<rect x="120" y="35" width="5.3" height="5.3" fill="#6401a6"/>
<rect x="125" y="35" width="5.3" height="5.3" fill="#7704a7"/>
<rect x="130" y="35" width="5.3" height="5.3" fill="#9613a0"/>
<rect x="135" y="35" width="5.3" height="5.3" fill="#ba3388"/>
<rect x="140" y="35" width="5.3" height="5.3" fill="#cf4c74"/>
<rect x="145" y="35" width="5.3" height="5.3" fill="#d8586b"/>
<rect x="150" y="35" width="5.3" height="5.3" fill="#db5c68"/>
<rect x="155" y="35" width="5.3" height="5.3" fill="#dc5d67"/>
<rect x="160" y="35" width="5.3" height="5.3" fill="#d5536f"/>
<rect x="165" y="35" width="5.3" height="5.3" fill="#d6546e"/>
<rect x="170" y="35" width="5.3" height="5.3" fill="#d7576c"/>
<rect x="175" y="35" width="5.3" height="5.3" fill="#d9596a"/>
<rect x="180" y="35" width="5.3" height="5.3" fill="#da5a69"/>
<rect x="-5" y="40" width="5.3" height="5.3" fill="#a62196"/>
<rect x="0" y="40" width="5.3" height="5.3" fill="#a21d99"/>
<rect x="5" y="40" width="5.3" height="5.3" fill="#9a169e"/>
<rect x="10" y="40" width="5.3" height="5.3" fill="#920fa3"/>
<rect x="15" y="40" width="5.3" height="5.3" fill="#8b0ca4"/>
<rect x="20" y="40" width="5.3" height="5.3" fill="#860aa5"/>
<rect x="25" y="40" width="5.3" height="5.3" fill="#8108a6"/>
<rect x="30" y="40" width="5.3" height="5.3" fill="#7c06a6"/>
<rect x="35" y="40" width="5.3" height="5.3" fill="#7805a6"/>
<rect x="40" y="40" width="5.3" height="5.3" fill="#7403a7"/>
<rect x="45" y="40" width="5.3" height="5.3" fill="#7002a7"/>
<rect x="50" y="40" width="5.3" height="5.3" fill="#6c01a8"/>
<rect x="55" y="40" width="5.3" height="5.3" fill="#6800a7"/>
<rect x="60" y="40" width="5.3" height="5.3" fill="#6401a6"/>
<rect x="65" y="40" width="5.3" height="5.3" fill="#6001a5"/>
<rect x="70" y="40" width="5.3" height="5.3" fill="#5d01a5"/>
<rect x="75" y="40" width="5.3" height="5.3" fill="#5a02a4"/>
<rect x="80" y="40" width="5.3" height="5.3" fill="#5702a3"/>
<rect x="85" y="40" width="10.3" height="5.3" fill="#5502a2"/>
<rect x="95" y="40" width="10.3" height="5.3" fill="#5602a3"/>
<rect x="105" y="40" width="5.3" height="5.3" fill="#5702a3"/>
<rect x="110" y="40" width="5.3" height="5.3" fill="#5902a3"/>
<rect x="115" y="40" width="5.3" height="5.3" fill="#6001a5"/>
<rect x="120" y="40" width="5.3" height="5.3" fill="#7103a7"/>
<rect x="125" y="40" width="5.3" height="5.3" fill="#8e0da4"/>
<rect x="130" y="40" width="5.3" height="5.3" fill="#b32c8f"/>
<rect x="135" y="40" width="5.3" height="5.3" fill="#cb4679"/>
<rect x="140" y="40" width="5.3" height="5.3" fill="#d6556e"/>
<rect x="145" y="40" width="5.3" height="5.3" fill="#da5a69"/>
<rect x="150" y="40" width="5.3" height="5.3" fill="#db5c68"/>
<rect x="155" y="40" width="15.3" height="5.3" fill="#dc5c68"/>
<rect x="170" y="40" width="5.3" height="5.3" fill="#d8576c"/>
<rect x="175" y="40" width="5.3" height="5.3" fill="#d9596b"/>
<rect x="180" y="40" width="5.3" height="5.3" fill="#da5a6a"/>
<rect x="-5" y="45" width="5.3" height="5.3" fill="#a82395"/>
<rect x="0" y="45" width="5.3" height="5.3" fill="#a41f98"/>
<rect x="5" y="45" width="5.3" height="5.3" fill="#9b189d"/>
<rect x="10" y="45" width="5.3" height="5.3" fill="#9310a2"/>
<rect x="15" y="45" width="5.3" height="5.3" fill="#8c0ca4"/>
<rect x="20" y="45" width="5.3" height="5.3" fill="#870aa5"/>
<rect x="25" y="45" width="5.3" height="5.3" fill="#8208a5"/>
<rect x="30" y="45" width="5.3" height="5.3" fill="#7d07a6"/>
<rect x="35" y="45" width="5.3" height="5.3" fill="#7905a6"/>
<rect x="40" y="45" width="5.3" height="5.3" fill="#7504a7"/>
<rect x="45" y="45" width="5.3" height="5.3" fill="#7203a7"/>
<rect x="50" y="45" width="5.3" height="5.3" fill="#6e01a8"/>
<rect x="55" y="45" width="5.3" height="5.3" fill="#6a00a8"/>
<rect x="60" y="45" width="5.3" height="5.3" fill="#6600a7"/>
<rect x="65" y="45" width="5.3" height="5.3" fill="#6301a6"/>
<rect x="70" y="45" width="5.3" height="5.3" fill="#5f01a5"/>
<rect x="75" y="45" width="5.3" height="5.3" fill="#5c01a4"/>
<rect x="80" y="45" width="5.3" height="5.3" fill="#5902a3"/>
<rect x="85" y="45" width="10.3" height="5.3" fill="#5802a3"/>
<rect x="95" y="45" width="5.3" height="5.3" fill="#5902a3"/>
<rect x="100" y="45" width="5.3" height="5.3" fill="#5a02a4"/>
<rect x="105" y="45" width="5.3" height="5.3" fill="#5b01a4"/>
<rect x="110" y="45" width="5.3" height="5.3" fill="#5f01a5"/>
<rect x="115" y="45" width="5.3" height="5.3" fill="#6c01a8"/>
<rect x="120" y="45" width="5.3" height="5.3" fill="#860aa5"/>
<rect x="125" y="45" width="5.3" height="5.3" fill="#aa2494"/>
<rect x="130" y="45" width="5.3" height="5.3" fill="#c6417d"/>
<rect x="135" y="45" width="5.3" height="5.3" fill="#d35170"/>
<rect x="140" y="45" width="5.3" height="5.3" fill="#d9596b"/>
<rect x="145" y="45" width="5.3" height="5.3" fill="#da5b69"/>
<rect x="150" y="45" width="10.3" height="5.3" fill="#db5c68"/>
<rect x="160" y="45" width="5.3" height="5.3" fill="#db5b68"/>
<rect x="165" y="45" width="15.3" height="5.3" fill="#db5b69"/>
<rect x="180" y="45" width="5.3" height="5.3" fill="#d9596a"/>
<rect x="-5" y="50" width="5.3" height="5.3" fill="#aa2494"/>
<rect x="0" y="50" width="5.3" height="5.3" fill="#a62097"/>
<rect x="5" y="50" width="5.3" height="5.3" fill="#9d199c"/>
<rect x="10" y="50" width="5.3" height="5.3" fill="#9411a1"/>
<rect x="15" y="50" width="5.3" height="5.3" fill="#8d0ca4"/>
<rect x="20" y="50" width="5.3" height="5.3" fill="#880ba5"/>
<rect x="25" y="50" width="5.3" height="5.3" fill="#8409a5"/>
<rect x="30" y="50" width="5.3" height="5.3" fill="#7e07a6"/>
<rect x="35" y="50" width="5.3" height="5.3" fill="#7b06a6"/>
<rect x="40" y="50" width="5.3" height="5.3" fill="#7705a7"/>
<rect x="45" y="50" width="5.3" height="5.3" fill="#7303a7"/>
<rect x="50" y="50" width="5.3" height="5.3" fill="#7002a7"/>
<rect x="55" y="50" width="5.3" height="5.3" fill="#6c01a8"/>
<rect x="60" y="50" width="5.3" height="5.3" fill="#6800a8"/>
<rect x="65" y="50" width="5.3" height="5.3" fill="#6500a7"/>
<rect x="70" y="50" width="5.3" height="5.3" fill="#6201a6"/>
<rect x="75" y="50" width="5.3" height="5.3" fill="#5f01a5"/>
<rect x="80" y="50" width="5.3" height="5.3" fill="#5b01a4"/>
<rect x="85" y="50" width="5.3" height="5.3" fill="#5a02a4"/>
<rect x="90" y="50" width="5.3" height="5.3" fill="#5b01a4"/>
<rect x="95" y="50" width="5.3" height="5.3" fill="#5c01a4"/>
<rect x="100" y="50" width="5.3" height="5.3" fill="#5d01a5"/>
<rect x="105" y="50" width="5.3" height="5.3" fill="#6101a6"/>
<rect x="110" y="50" width="5.3" height="5.3" fill="#6900a8"/>
<rect x="115" y="50" width="5.3" height="5.3" fill="#7e07a6"/>
<rect x="120" y="50" width="5.3" height="5.3" fill="#a11d99"/>
<rect x="125" y="50" width="5.3" height="5.3" fill="#c13b82"/>
<rect x="130" y="50" width="5.3" height="5.3" fill="#d14e73"/>
<rect x="135" y="50" width="5.3" height="5.3" fill="#d7566c"/>
<rect x="140" y="50" width="5.3" height="5.3" fill="#da5a6a"/>
<rect x="145" y="50" width="15.3" height="5.3" fill="#da5b69"/>
<rect x="160" y="50" width="10.3" height="5.3" fill="#da5a69"/>
<rect x="170" y="50" width="15.3" height="5.3" fill="#da5a6a"/>
<rect x="-5" y="55" width="5.3" height="5.3" fill="#ac2693"/>
<rect x="0" y="55" width="5.3" height="5.3" fill="#a82295"/>
<rect x="5" y="55" width="5.3" height="5.3" fill="#9e1a9b"/>
<rect x="10" y="55" width="5.3" height="5.3" fill="#9512a0"/>
<rect x="15" y="55" width="5.3" height="5.3" fill="#8e0da4"/>
<rect x="20" y="55" width="5.3" height="5.3" fill="#8a0ba5"/>
<rect x="25" y="55" width="5.3" height="5.3" fill="#850aa5"/>
<rect x="30" y="55" width="5.3" height="5.3" fill="#7f08a6"/>
<rect x="35" y="55" width="5.3" height="5.3" fill="#7c06a6"/>
<rect x="40" y="55" width="5.3" height="5.3" fill="#7805a6"/>
<rect x="45" y="55" width="5.3" height="5.3" fill="#7504a7"/>
<rect x="50" y="55" width="5.3" height="5.3" fill="#7103a7"/>
<rect x="55" y="55" width="5.3" height="5.3" fill="#6e01a8"/>
<rect x="60" y="55" width="5.3" height="5.3" fill="#6b00a8"/>
<rect x="65" y="55" width="5.3" height="5.3" fill="#6700a7"/>
<rect x="70" y="55" width="5.3" height="5.3" fill="#6401a6"/>
<rect x="75" y="55" width="5.3" height="5.3" fill="#6101a6"/>
<rect x="80" y="55" width="5.3" height="5.3" fill="#5e01a5"/>
<rect x="85" y="55" width="5.3" height="5.3" fill="#5d01a4"/>
<rect x="90" y="55" width="5.3" height="5.3" fill="#5e01a5"/>
<rect x="95" y="55" width="5.3" height="5.3" fill="#5f01a5"/>
<rect x="100" y="55" width="5.3" height="5.3" fill="#6201a6"/>
<rect x="105" y="55" width="5.3" height="5.3" fill="#6900a8"/>
<rect x="110" y="55" width="5.3" height="5.3" fill="#7905a6"/>
<rect x="115" y="55" width="5.3" height="5.3" fill="#99159e"/>
<rect x="120" y="55" width="5.3" height="5.3" fill="#bb3587"/>
<rect x="125" y="55" width="5.3" height="5.3" fill="#cf4b75"/>
<rect x="130" y="55" width="5.3" height="5.3" fill="#d6556e"/>
<rect x="135" y="55" width="5.3" height="5.3" fill="#d9586b"/>
<rect x="140" y="55" width="5.3" height="5.3" fill="#da5a6a"/>
<rect x="145" y="55" width="5.3" height="5.3" fill="#da5a69"/>
<rect x="150" y="55" width="10.3" height="5.3" fill="#da5a6a"/>
<rect x="160" y="55" width="10.3" height="5.3" fill="#d9596a"/>
<rect x="170" y="55" width="15.3" height="5.3" fill="#d9596b"/>
<rect x="-5" y="60" width="5.3" height="5.3" fill="#ae2892"/>
<rect x="0" y="60" width="5.3" height="5.3" fill="#aa2494"/>
<rect x="5" y="60" width="5.3" height="5.3" fill="#a01b9a"/>
<rect x="10" y="60" width="5.3" height="5.3" fill="#9713a0"/>
<rect x="15" y="60" width="5.3" height="5.3" fill="#900ea4"/>
<rect x="20" y="60" width="5.3" height="5.3" fill="#8b0ca4"/>
<rect x="25" y="60" width="5.3" height="5.3" fill="#870aa5"/>
<rect x="30" y="60" width="5.3" height="5.3" fill="#8309a5"/>
<rect x="35" y="60" width="5.3" height="5.3" fill="#7d07a6"/>
<rect x="40" y="60" width="5.3" height="5.3" fill="#7a06a6"/>
<rect x="45" y="60" width="5.3" height="5.3" fill="#7704a7"/>
<rect x="50" y="60" width="5.3" height="5.3" fill="#7303a7"/>
<rect x="55" y="60" width="5.3" height="5.3" fill="#7002a7"/>
<rect x="60" y="60" width="5.3" height="5.3" fill="#6d01a8"/>
<rect x="65" y="60" width="5.3" height="5.3" fill="#6a00a8"/>
<rect x="70" y="60" width="5.3" height="5.3" fill="#6700a7"/>
<rect x="75" y="60" width="5.3" height="5.3" fill="#6301a6"/>
<rect x="80" y="60" width="5.3" height="5.3" fill="#6001a5"/>
<rect x="85" y="60" width="5.3" height="5.3" fill="#5f01a5"/>
<rect x="90" y="60" width="5.3" height="5.3" fill="#6101a6"/>
<rect x="95" y="60" width="5.3" height="5.3" fill="#6401a6"/>
<rect x="100" y="60" width="5.3" height="5.3" fill="#6900a8"/>
<rect x="105" y="60" width="5.3" height="5.3" fill="#7704a7"/>
<rect x="110" y="60" width="5.3" height="5.3" fill="#920fa3"/>
<rect x="115" y="60" width="5.3" height="5.3" fill="#b52e8c"/>
<rect x="120" y="60" width="5.3" height="5.3" fill="#cc4778"/>
<rect x="125" y="60" width="5.3" height="5.3" fill="#d5536f"/>
<rect x="130" y="60" width="5.3" height="5.3" fill="#d8586b"/>
<rect x="135" y="60" width="20.3" height="5.3" fill="#d9596a"/>
<rect x="155" y="60" width="5.3" height="5.3" fill="#d9596b"/>
<rect x="160" y="60" width="5.3" height="5.3" fill="#d9586b"/>
<rect x="165" y="60" width="5.3" height="5.3" fill="#d8586b"/>
<rect x="170" y="60" width="5.3" height="5.3" fill="#d8576b"/>
<rect x="175" y="60" width="10.3" height="5.3" fill="#d8576c"/>
<rect x="-5" y="65" width="5.3" height="5.3" fill="#b02990"/>
<rect x="0" y="65" width="5.3" height="5.3" fill="#ab2593"/>
<rect x="5" y="65" width="5.3" height="5.3" fill="#a21d99"/>
<rect x="10" y="65" width="5.3" height="5.3" fill="#98159f"/>
<rect x="15" y="65" width="5.3" height="5.3" fill="#910fa3"/>
<rect x="20" y="65" width="5.3" height="5.3" fill="#8d0ca4"/>
<rect x="25" y="65" width="5.3" height="5.3" fill="#880ba5"/>
<rect x="30" y="65" width="5.3" height="5.3" fill="#8509a5"/>
<rect x="35" y="65" width="5.3" height="5.3" fill="#8209a5"/>
<rect x="40" y="65" width="5.3" height="5.3" fill="#7b06a6"/>
<rect x="45" y="65" width="5.3" height="5.3" fill="#7805a6"/>
<rect x="50" y="65" width="5.3" height="5.3" fill="#7504a7"/>
<rect x="55" y="65" width="5.3" height="5.3" fill="#7203a7"/>
<rect x="60" y="65" width="5.3" height="5.3" fill="#6f02a7"/>
<rect x="65" y="65" width="5.3" height="5.3" fill="#6c01a8"/>
<rect x="70" y="65" width="5.3" height="5.3" fill="#6900a8"/>
<rect x="75" y="65" width="5.3" height="5.3" fill="#6600a7"/>
<rect x="80" y="65" width="5.3" height="5.3" fill="#6301a6"/>
<rect x="85" y="65" width="5.3" height="5.3" fill="#6201a6"/>
<rect x="90" y="65" width="5.3" height="5.3" fill="#6500a7"/>
<rect x="95" y="65" width="5.3" height="5.3" fill="#6b00a8"/>
<rect x="100" y="65" width="5.3" height="5.3" fill="#7604a7"/>
<rect x="105" y="65" width="5.3" height="5.3" fill="#8c0ca4"/>
<rect x="110" y="65" width="5.3" height="5.3" fill="#af2891"/>
<rect x="115" y="65" width="5.3" height="5.3" fill="#c9437b"/>
<rect x="120" y="65" width="5.3" height="5.3" fill="#d4526f"/>
<rect x="125" y="65" width="5.3" height="5.3" fill="#d8586b"/>
<rect x="130" y="65" width="15.3" height="5.3" fill="#d9596a"/>
<rect x="145" y="65" width="5.3" height="5.3" fill="#d9596b"/>
<rect x="150" y="65" width="10.3" height="5.3" fill="#d8586b"/>
<rect x="160" y="65" width="5.3" height="5.3" fill="#d8576c"/>
<rect x="165" y="65" width="5.3" height="5.3" fill="#d7576c"/>
<rect x="170" y="65" width="5.3" height="5.3" fill="#d7566c"/>
<rect x="175" y="65" width="10.3" height="5.3" fill="#d7566d"/>
<rect x="-5" y="70" width="5.3" height="5.3" fill="#b02991"/>
<rect x="0" y="70" width="5.3" height="5.3" fill="#ab2594"/>
<rect x="5" y="70" width="5.3" height="5.3" fill="#a11d99"/>
<rect x="10" y="70" width="5.3" height="5.3" fill="#98159f"/>
<rect x="15" y="70" width="5.3" height="5.3" fill="#910fa3"/>
<rect x="20" y="70" width="5.3" height="5.3" fill="#8d0ca4"/>
<rect x="25" y="70" width="5.3" height="5.3" fill="#890ba5"/>
<rect x="30" y="70" width="5.3" height="5.3" fill="#860aa5"/>
<rect x="35" y="70" width="5.3" height="5.3" fill="#8409a5"/>
<rect x="40" y="70" width="5.3" height="5.3" fill="#7d07a6"/>
<rect x="45" y="70" width="5.3" height="5.3" fill="#7a06a6"/>
<rect x="50" y="70" width="5.3" height="5.3" fill="#7705a7"/>
<rect x="55" y="70" width="5.3" height="5.3" fill="#7403a7"/>
<rect x="60" y="70" width="5.3" height="5.3" fill="#7102a7"/>
<rect x="65" y="70" width="5.3" height="5.3" fill="#6e02a8"/>
<rect x="70" y="70" width="5.3" height="5.3" fill="#6c01a8"/>
<rect x="75" y="70" width="5.3" height="5.3" fill="#6900a8"/>
<rect x="80" y="70" width="10.3" height="5.3" fill="#6700a7"/>
<rect x="90" y="70" width="5.3" height="5.3" fill="#6c01a8"/>
<rect x="95" y="70" width="5.3" height="5.3" fill="#7705a7"/>
<rect x="100" y="70" width="5.3" height="5.3" fill="#8c0ca4"/>
<rect x="105" y="70" width="5.3" height="5.3" fill="#aa2494"/>
<rect x="110" y="70" width="5.3" height="5.3" fill="#c33e80"/>
<rect x="115" y="70" width="5.3" height="5.3" fill="#d24f72"/>
<rect x="120" y="70" width="5.3" height="5.3" fill="#d7566c"/>
<rect x="125" y="70" width="5.3" height="5.3" fill="#d8586b"/>
<rect x="130" y="70" width="5.3" height="5.3" fill="#d9586b"/>
<rect x="135" y="70" width="5.3" height="5.3" fill="#d8586b"/>
<rect x="140" y="70" width="5.3" height="5.3" fill="#d8576c"/>
<rect x="145" y="70" width="5.3" height="5.3" fill="#d7576c"/>
<rect x="150" y="70" width="5.3" height="5.3" fill="#d7566c"/>
<rect x="155" y="70" width="5.3" height="5.3" fill="#d7566d"/>
<rect x="160" y="70" width="5.3" height="5.3" fill="#d6556d"/>
<rect x="165" y="70" width="5.3" height="5.3" fill="#d6556e"/>
<rect x="170" y="70" width="15.3" height="5.3" fill="#d5546e"/>
<rect x="-5" y="75" width="5.3" height="5.3" fill="#ac2693"/>
<rect x="0" y="75" width="5.3" height="5.3" fill="#a82295"/>
<rect x="5" y="75" width="5.3" height="5.3" fill="#9f1b9b"/>
<rect x="10" y="75" width="5.3" height="5.3" fill="#9713a0"/>
<rect x="15" y="75" width="5.3" height="5.3" fill="#910ea3"/>
<rect x="20" y="75" width="5.3" height="5.3" fill="#8d0ca4"/>
<rect x="25" y="75" width="5.3" height="5.3" fill="#890ba5"/>
<rect x="30" y="75" width="5.3" height="5.3" fill="#870aa5"/>
<rect x="35" y="75" width="5.3" height="5.3" fill="#860aa5"/>
<rect x="40" y="75" width="5.3" height="5.3" fill="#8409a5"/>
<rect x="45" y="75" width="5.3" height="5.3" fill="#7b06a6"/>
<rect x="50" y="75" width="5.3" height="5.3" fill="#7805a6"/>
<rect x="55" y="75" width="5.3" height="5.3" fill="#7604a7"/>
<rect x="60" y="75" width="5.3" height="5.3" fill="#7303a7"/>
<rect x="65" y="75" width="5.3" height="5.3" fill="#7103a7"/>
<rect x="70" y="75" width="5.3" height="5.3" fill="#6f02a7"/>
<rect x="75" y="75" width="5.3" height="5.3" fill="#6d01a8"/>
<rect x="80" y="75" width="5.3" height="5.3" fill="#6c01a8"/>
<rect x="85" y="75" width="5.3" height="5.3" fill="#7002a7"/>
<rect x="90" y="75" width="5.3" height="5.3" fill="#7905a6"/>
<rect x="95" y="75" width="5.3" height="5.3" fill="#8c0ca4"/>
<rect x="100" y="75" width="5.3" height="5.3" fill="#a82295"/>
<rect x="105" y="75" width="5.3" height="5.3" fill="#c03a82"/>
<rect x="110" y="75" width="5.3" height="5.3" fill="#cf4b75"/>
<rect x="115" y="75" width="5.3" height="5.3" fill="#d5536f"/>
<rect x="120" y="75" width="5.3" height="5.3" fill="#d7566c"/>
<rect x="125" y="75" width="5.3" height="5.3" fill="#d7576c"/>
<rect x="130" y="75" width="5.3" height="5.3" fill="#d7566c"/>
<rect x="135" y="75" width="5.3" height="5.3" fill="#d7566d"/>
<rect x="140" y="75" width="5.3" height="5.3" fill="#d6556d"/>
<rect x="145" y="75" width="5.3" height="5.3" fill="#d6546e"/>
<rect x="150" y="75" width="5.3" height="5.3" fill="#d5546e"/>
<rect x="155" y="75" width="5.3" height="5.3" fill="#d5536f"/>
<rect x="160" y="75" width="5.3" height="5.3" fill="#d45270"/>
<rect x="165" y="75" width="5.3" height="5.3" fill="#d45170"/>
<rect x="170" y="75" width="15.3" height="5.3" fill="#d35171"/>
<rect x="-5" y="80" width="5.3" height="5.3" fill="#a92395"/>
<rect x="0" y="80" width="5.3" height="5.3" fill="#a52097"/>
<rect x="5" y="80" width="5.3" height="5.3" fill="#9d199c"/>
<rect x="10" y="80" width="5.3" height="5.3" fill="#9512a0"/>
<rect x="15" y="80" width="5.3" height="5.3" fill="#900ea4"/>
<rect x="20" y="80" width="5.3" height="5.3" fill="#8d0ca4"/>
<rect x="25" y="80" width="5.3" height="5.3" fill="#8a0ba5"/>
<rect x="30" y="80" width="5.3" height="5.3" fill="#880aa5"/>
<rect x="35" y="80" width="5.3" height="5.3" fill="#870aa5"/>
<rect x="40" y="80" width="10.3" height="5.3" fill="#860aa5"/>
<rect x="50" y="80" width="5.3" height="5.3" fill="#7a06a6"/>
<rect x="55" y="80" width="5.3" height="5.3" fill="#7805a7"/>
<rect x="60" y="80" width="5.3" height="5.3" fill="#7604a7"/>
<rect x="65" y="80" width="5.3" height="5.3" fill="#7404a7"/>
<rect x="70" y="80" width="10.3" height="5.3" fill="#7303a7"/>
<rect x="80" y="80" width="5.3" height="5.3" fill="#7404a7"/>
<rect x="85" y="80" width="5.3" height="5.3" fill="#7d07a6"/>
<rect x="90" y="80" width="5.3" height="5.3" fill="#8f0da4"/>
<rect x="95" y="80" width="5.3" height="5.3" fill="#a62197"/>
<rect x="100" y="80" width="5.3" height="5.3" fill="#bd3785"/>
<rect x="105" y="80" width="5.3" height="5.3" fill="#cc4778"/>
<rect x="110" y="80" width="5.3" height="5.3" fill="#d24f72"/>
<rect x="115" y="80" width="5.3" height="5.3" fill="#d5546e"/>
<rect x="120" y="80" width="5.3" height="5.3" fill="#d6556d"/>
<rect x="125" y="80" width="5.3" height="5.3" fill="#d6556e"/>
<rect x="130" y="80" width="5.3" height="5.3" fill="#d5546e"/>
<rect x="135" y="80" width="5.3" height="5.3" fill="#d5536f"/>
<rect x="140" y="80" width="5.3" height="5.3" fill="#d4536f"/>
<rect x="145" y="80" width="5.3" height="5.3" fill="#d45270"/>
<rect x="150" y="80" width="5.3" height="5.3" fill="#d35170"/>
<rect x="155" y="80" width="5.3" height="5.3" fill="#d35071"/>
<rect x="160" y="80" width="5.3" height="5.3" fill="#d24f72"/>
<rect x="165" y="80" width="5.3" height="5.3" fill="#d14e72"/>
<rect x="170" y="80" width="5.3" height="5.3" fill="#d14d73"/>
<rect x="175" y="80" width="10.3" height="5.3" fill="#d04d73"/>
<rect x="-5" y="85" width="5.3" height="5.3" fill="#a52097"/>
<rect x="0" y="85" width="5.3" height="5.3" fill="#a21d99"/>
<rect x="5" y="85" width="5.3" height="5.3" fill="#9b179d"/>
<rect x="10" y="85" width="5.3" height="5.3" fill="#9411a1"/>
<rect x="15" y="85" width="5.3" height="5.3" fill="#8f0da4"/>
<rect x="20" y="85" width="5.3" height="5.3" fill="#8c0ca4"/>
<rect x="25" y="85" width="5.3" height="5.3" fill="#890ba5"/>
<rect x="30" y="85" width="5.3" height="5.3" fill="#880ba5"/>
<rect x="35" y="85" width="10.3" height="5.3" fill="#880aa5"/>
<rect x="45" y="85" width="5.3" height="5.3" fill="#880ba5"/>
<rect x="50" y="85" width="5.3" height="5.3" fill="#7c06a6"/>
<rect x="55" y="85" width="5.3" height="5.3" fill="#7a06a6"/>
<rect x="60" y="85" width="5.3" height="5.3" fill="#7905a6"/>
<rect x="65" y="85" width="10.3" height="5.3" fill="#7805a7"/>
<rect x="75" y="85" width="5.3" height="5.3" fill="#7a06a6"/>
<rect x="80" y="85" width="5.3" height="5.3" fill="#8208a5"/>
<rect x="85" y="85" width="5.3" height="5.3" fill="#9210a2"/>
<rect x="90" y="85" width="5.3" height="5.3" fill="#a92395"/>
<rect x="95" y="85" width="5.3" height="5.3" fill="#bc3587"/>
<rect x="100" y="85" width="5.3" height="5.3" fill="#c8427c"/>
<rect x="105" y="85" width="5.3" height="5.3" fill="#cf4b75"/>
<rect x="110" y="85" width="5.3" height="5.3" fill="#d24f72"/>
<rect x="115" y="85" width="5.3" height="5.3" fill="#d4526f"/>
<rect x="120" y="85" width="5.3" height="5.3" fill="#d5536f"/>
<rect x="125" y="85" width="5.3" height="5.3" fill="#d4536f"/>
<rect x="130" y="85" width="5.3" height="5.3" fill="#d45270"/>
<rect x="135" y="85" width="5.3" height="5.3" fill="#d35170"/>
<rect x="140" y="85" width="5.3" height="5.3" fill="#d35071"/>
<rect x="145" y="85" width="5.3" height="5.3" fill="#d24f72"/>
<rect x="150" y="85" width="5.3" height="5.3" fill="#d14e73"/>
<rect x="155" y="85" width="5.3" height="5.3" fill="#d04d73"/>
<rect x="160" y="85" width="5.3" height="5.3" fill="#d04c74"/>
<rect x="165" y="85" width="5.3" height="5.3" fill="#cf4b75"/>
<rect x="170" y="85" width="15.3" height="5.3" fill="#ce4a76"/>
<rect x="-5" y="90" width="5.3" height="5.3" fill="#a21d99"/>
<rect x="0" y="90" width="5.3" height="5.3" fill="#9f1a9b"/>
<rect x="5" y="90" width="5.3" height="5.3" fill="#99159e"/>
<rect x="10" y="90" width="5.3" height="5.3" fill="#9210a2"/>
<rect x="15" y="90" width="5.3" height="5.3" fill="#8e0da4"/>
<rect x="20" y="90" width="5.3" height="5.3" fill="#8c0ca4"/>
<rect x="25" y="90" width="5.3" height="5.3" fill="#890ba5"/>
<rect x="30" y="90" width="10.3" height="5.3" fill="#880ba5"/>
<rect x="40" y="90" width="10.3" height="5.3" fill="#890ba5"/>
<rect x="50" y="90" width="5.3" height="5.3" fill="#880ba5"/>
<rect x="55" y="90" width="15.3" height="5.3" fill="#7c06a6"/>
<rect x="70" y="90" width="5.3" height="5.3" fill="#7f08a6"/>
<rect x="75" y="90" width="5.3" height="5.3" fill="#870aa5"/>
<rect x="80" y="90" width="5.3" height="5.3" fill="#9613a0"/>
<rect x="85" y="90" width="5.3" height="5.3" fill="#aa2494"/>
<rect x="90" y="90" width="5.3" height="5.3" fill="#ba3488"/>
<rect x="95" y="90" width="5.3" height="5.3" fill="#c53f7f"/>
<rect x="100" y="90" width="5.3" height="5.3" fill="#cb4679"/>
<rect x="105" y="90" width="5.3" height="5.3" fill="#ce4a76"/>
<rect x="110" y="90" width="5.3" height="5.3" fill="#d14e73"/>
<rect x="115" y="90" width="5.3" height="5.3" fill="#d35171"/>
<rect x="120" y="90" width="5.3" height="5.3" fill="#d45170"/>
<rect x="125" y="90" width="5.3" height="5.3" fill="#d35171"/>
<rect x="130" y="90" width="5.3" height="5.3" fill="#d25071"/>
<rect x="135" y="90" width="5.3" height="5.3" fill="#d24f72"/>
<rect x="140" y="90" width="5.3" height="5.3" fill="#d14e73"/>
<rect x="145" y="90" width="5.3" height="5.3" fill="#d04d74"/>
<rect x="150" y="90" width="5.3" height="5.3" fill="#cf4b75"/>
<rect x="155" y="90" width="5.3" height="5.3" fill="#ce4a75"/>
<rect x="160" y="90" width="5.3" height="5.3" fill="#ce4976"/>
<rect x="165" y="90" width="5.3" height="5.3" fill="#cd4877"/>
<rect x="170" y="90" width="15.3" height="5.3" fill="#cc4778"/>
<rect x="-5" y="95" width="5.3" height="5.3" fill="#9f1a9b"/>
<rect x="0" y="95" width="5.3" height="5.3" fill="#9c189c"/>
<rect x="5" y="95" width="5.3" height="5.3" fill="#9613a0"/>
<rect x="10" y="95" width="5.3" height="5.3" fill="#910fa3"/>
<rect x="15" y="95" width="5.3" height="5.3" fill="#8d0ca4"/>
<rect x="20" y="95" width="5.3" height="5.3" fill="#8b0ca4"/>
<rect x="25" y="95" width="5.3" height="5.3" fill="#890ba5"/>
<rect x="30" y="95" width="5.3" height="5.3" fill="#880ba5"/>
<rect x="35" y="95" width="20.3" height="5.3" fill="#890ba5"/>
<rect x="55" y="95" width="5.3" height="5.3" fill="#7f07a6"/>
<rect x="60" y="95" width="5.3" height="5.3" fill="#8008a6"/>
<rect x="65" y="95" width="5.3" height="5.3" fill="#8409a5"/>
<rect x="70" y="95" width="5.3" height="5.3" fill="#8b0ca4"/>
<rect x="75" y="95" width="5.3" height="5.3" fill="#99159e"/>
<rect x="80" y="95" width="5.3" height="5.3" fill="#aa2494"/>
<rect x="85" y="95" width="5.3" height="5.3" fill="#b8318a"/>
<rect x="90" y="95" width="5.3" height="5.3" fill="#c03b82"/>
<rect x="95" y="95" width="5.3" height="5.3" fill="#c6417d"/>
<rect x="100" y="95" width="5.3" height="5.3" fill="#ca457a"/>
<rect x="105" y="95" width="5.3" height="5.3" fill="#cd4877"/>
<rect x="110" y="95" width="5.3" height="5.3" fill="#cf4b75"/>
<rect x="115" y="95" width="5.3" height="5.3" fill="#d14e72"/>
<rect x="120" y="95" width="5.3" height="5.3" fill="#d24f72"/>
<rect x="125" y="95" width="5.3" height="5.3" fill="#d14e72"/>
<rect x="130" y="95" width="5.3" height="5.3" fill="#d14d73"/>
<rect x="135" y="95" width="5.3" height="5.3" fill="#d04c74"/>
<rect x="140" y="95" width="5.3" height="5.3" fill="#cf4b75"/>
<rect x="145" y="95" width="5.3" height="5.3" fill="#ce4a76"/>
<rect x="150" y="95" width="5.3" height="5.3" fill="#cd4977"/>
<rect x="155" y="95" width="5.3" height="5.3" fill="#cc4878"/>
<rect x="160" y="95" width="5.3" height="5.3" fill="#cb4679"/>
<rect x="165" y="95" width="5.3" height="5.3" fill="#ca457a"/>
<rect x="170" y="95" width="5.3" height="5.3" fill="#c9447b"/>
<rect x="175" y="95" width="10.3" height="5.3" fill="#c9437b"/>
<rect x="-5" y="100" width="5.3" height="5.3" fill="#9b179d"/>
<rect x="0" y="100" width="5.3" height="5.3" fill="#99159e"/>
<rect x="5" y="100" width="5.3" height="5.3" fill="#9411a1"/>
<rect x="10" y="100" width="5.3" height="5.3" fill="#8f0da4"/>
<rect x="15" y="100" width="5.3" height="5.3" fill="#8c0ca4"/>
<rect x="20" y="100" width="5.3" height="5.3" fill="#8a0ba5"/>
<rect x="25" y="100" width="5.3" height="5.3" fill="#880ba5"/>
<rect x="30" y="100" width="5.3" height="5.3" fill="#880aa5"/>
<rect x="35" y="100" width="20.3" height="5.3" fill="#890ba5"/>
<rect x="55" y="100" width="5.3" height="5.3" fill="#8a0ba5"/>
<rect x="60" y="100" width="5.3" height="5.3" fill="#880aa5"/>
<rect x="65" y="100" width="5.3" height="5.3" fill="#900ea4"/>
<rect x="70" y="100" width="5.3" height="5.3" fill="#9b179d"/>
<rect x="75" y="100" width="5.3" height="5.3" fill="#a72296"/>
<rect x="80" y="100" width="5.3" height="5.3" fill="#b32c8e"/>
<rect x="85" y="100" width="5.3" height="5.3" fill="#bb3587"/>
<rect x="90" y="100" width="5.3" height="5.3" fill="#c03a82"/>
<rect x="95" y="100" width="5.3" height="5.3" fill="#c43f7f"/>
<rect x="100" y="100" width="5.3" height="5.3" fill="#c8427c"/>
<rect x="105" y="100" width="5.3" height="5.3" fill="#cb4679"/>
<rect x="110" y="100" width="5.3" height="5.3" fill="#cd4977"/>
<rect x="115" y="100" width="5.3" height="5.3" fill="#d04c74"/>
<rect x="120" y="100" width="5.3" height="5.3" fill="#d14d73"/>
<rect x="125" y="100" width="5.3" height="5.3" fill="#d04c74"/>
<rect x="130" y="100" width="5.3" height="5.3" fill="#cf4b75"/>
<rect x="135" y="100" width="5.3" height="5.3" fill="#ce4a76"/>
<rect x="140" y="100" width="5.3" height="5.3" fill="#cd4977"/>
<rect x="145" y="100" width="5.3" height="5.3" fill="#cc4878"/>
<rect x="150" y="100" width="5.3" height="5.3" fill="#cb4679"/>
<rect x="155" y="100" width="5.3" height="5.3" fill="#ca457a"/>
<rect x="160" y="100" width="5.3" height="5.3" fill="#c9437b"/>
<rect x="165" y="100" width="5.3" height="5.3" fill="#c7427c"/>
<rect x="170" y="100" width="5.3" height="5.3" fill="#c6407d"/>
<rect x="175" y="100" width="10.3" height="5.3" fill="#c5407e"/>
<rect x="-5" y="105" width="5.3" height="5.3" fill="#9713a0"/>
<rect x="0" y="105" width="5.3" height="5.3" fill="#9512a1"/>
<rect x="5" y="105" width="5.3" height="5.3" fill="#910ea3"/>
<rect x="10" y="105" width="5.3" height="5.3" fill="#8d0ca4"/>
<rect x="15" y="105" width="5.3" height="5.3" fill="#8a0ba5"/>
<rect x="20" y="105" width="5.3" height="5.3" fill="#880ba5"/>
<rect x="25" y="105" width="10.3" height="5.3" fill="#870aa5"/>
<rect x="35" y="105" width="5.3" height="5.3" fill="#880aa5"/>
<rect x="40" y="105" width="10.3" height="5.3" fill="#880ba5"/>
<rect x="50" y="105" width="5.3" height="5.3" fill="#890ba5"/>
<rect x="55" y="105" width="5.3" height="5.3" fill="#8a0ba4"/>
<rect x="60" y="105" width="5.3" height="5.3" fill="#910fa3"/>
<rect x="65" y="105" width="5.3" height="5.3" fill="#9b179d"/>
<rect x="70" y="105" width="5.3" height="5.3" fill="#a51f97"/>
<rect x="75" y="105" width="5.3" height="5.3" fill="#ad2792"/>
<rect x="80" y="105" width="5.3" height="5.3" fill="#b42d8d"/>
<rect x="85" y="105" width="5.3" height="5.3" fill="#b93389"/>
<rect x="90" y="105" width="5.3" height="5.3" fill="#bd3785"/>
<rect x="95" y="105" width="5.3" height="5.3" fill="#c13b82"/>
<rect x="100" y="105" width="5.3" height="5.3" fill="#c43e7f"/>
<rect x="105" y="105" width="5.3" height="5.3" fill="#c7427c"/>
<rect x="110" y="105" width="5.3" height="5.3" fill="#ca4579"/>
<rect x="115" y="105" width="5.3" height="5.3" fill="#cd4977"/>
<rect x="120" y="105" width="5.3" height="5.3" fill="#ce4a76"/>
<rect x="125" y="105" width="5.3" height="5.3" fill="#cd4977"/>
<rect x="130" y="105" width="5.3" height="5.3" fill="#cd4877"/>
<rect x="135" y="105" width="5.3" height="5.3" fill="#cc4778"/>
<rect x="140" y="105" width="5.3" height="5.3" fill="#cb4679"/>
<rect x="145" y="105" width="5.3" height="5.3" fill="#ca457a"/>
<rect x="150" y="105" width="5.3" height="5.3" fill="#c8437b"/>
<rect x="155" y="105" width="5.3" height="5.3" fill="#c7427c"/>
<rect x="160" y="105" width="5.3" height="5.3" fill="#c6407e"/>
<rect x="165" y="105" width="5.3" height="5.3" fill="#c43f7f"/>
<rect x="170" y="105" width="15.3" height="5.3" fill="#c33d80"/>
<rect x="-5" y="110" width="5.3" height="5.3" fill="#910fa3"/>
<rect x="0" y="110" width="5.3" height="5.3" fill="#8f0da4"/>
<rect x="5" y="110" width="5.3" height="5.3" fill="#8c0ca4"/>
<rect x="10" y="110" width="5.3" height="5.3" fill="#880ba5"/>
<rect x="15" y="110" width="5.3" height="5.3" fill="#860aa5"/>
<rect x="20" y="110" width="5.3" height="5.3" fill="#850aa5"/>
<rect x="25" y="110" width="10.3" height="5.3" fill="#8509a5"/>
<rect x="35" y="110" width="5.3" height="5.3" fill="#860aa5"/>
<rect x="40" y="110" width="10.3" height="5.3" fill="#870aa5"/>
<rect x="50" y="110" width="5.3" height="5.3" fill="#880aa5"/>
<rect x="55" y="110" width="5.3" height="5.3" fill="#890ba5"/>
<rect x="60" y="110" width="5.3" height="5.3" fill="#8d0ca4"/>
<rect x="65" y="110" width="5.3" height="5.3" fill="#9613a0"/>
<rect x="70" y="110" width="5.3" height="5.3" fill="#9d199c"/>
<rect x="75" y="110" width="5.3" height="5.3" fill="#a21e99"/>
<rect x="80" y="110" width="5.3" height="5.3" fill="#b22b8f"/>
<rect x="85" y="110" width="5.3" height="5.3" fill="#b62f8c"/>
<rect x="90" y="110" width="5.3" height="5.3" fill="#b93389"/>
<rect x="95" y="110" width="5.3" height="5.3" fill="#bc3686"/>
<rect x="100" y="110" width="5.3" height="5.3" fill="#c03a83"/>
<rect x="105" y="110" width="5.3" height="5.3" fill="#c33d80"/>
<rect x="110" y="110" width="5.3" height="5.3" fill="#c6407e"/>
<rect x="115" y="110" width="5.3" height="5.3" fill="#c9437b"/>
<rect x="120" y="110" width="5.3" height="5.3" fill="#ca457a"/>
<rect x="125" y="110" width="5.3" height="5.3" fill="#c9447a"/>
<rect x="130" y="110" width="5.3" height="5.3" fill="#c9447b"/>
<rect x="135" y="110" width="5.3" height="5.3" fill="#c8437b"/>
<rect x="140" y="110" width="5.3" height="5.3" fill="#c8427c"/>
<rect x="145" y="110" width="5.3" height="5.3" fill="#c7417d"/>
<rect x="150" y="110" width="5.3" height="5.3" fill="#c5407e"/>
<rect x="155" y="110" width="5.3" height="5.3" fill="#c43e7f"/>
<rect x="160" y="110" width="5.3" height="5.3" fill="#c33d80"/>
<rect x="165" y="110" width="5.3" height="5.3" fill="#c13c81"/>
<rect x="170" y="110" width="15.3" height="5.3" fill="#c03a83"/>
<rect x="-5" y="115" width="5.3" height="5.3" fill="#8b0ca4"/>
<rect x="0" y="115" width="5.3" height="5.3" fill="#8a0ba5"/>
<rect x="5" y="115" width="5.3" height="5.3" fill="#870aa5"/>
<rect x="10" y="115" width="5.3" height="5.3" fill="#8409a5"/>
<rect x="15" y="115" width="20.3" height="5.3" fill="#8309a5"/>
<rect x="35" y="115" width="5.3" height="5.3" fill="#8409a5"/>
<rect x="40" y="115" width="5.3" height="5.3" fill="#850aa5"/>
<rect x="45" y="115" width="10.3" height="5.3" fill="#860aa5"/>
<rect x="55" y="115" width="5.3" height="5.3" fill="#880aa5"/>
<rect x="60" y="115" width="5.3" height="5.3" fill="#8b0ca4"/>
<rect x="65" y="115" width="5.3" height="5.3" fill="#910fa3"/>
<rect x="70" y="115" width="5.3" height="5.3" fill="#98149f"/>
<rect x="75" y="115" width="5.3" height="5.3" fill="#9d199c"/>
<rect x="80" y="115" width="5.3" height="5.3" fill="#a21d99"/>
<rect x="85" y="115" width="5.3" height="5.3" fill="#a72196"/>
<rect x="90" y="115" width="5.3" height="5.3" fill="#ad2692"/>
<rect x="95" y="115" width="5.3" height="5.3" fill="#b22b8f"/>
<rect x="100" y="115" width="5.3" height="5.3" fill="#bb3587"/>
<rect x="105" y="115" width="5.3" height="5.3" fill="#be3884"/>
<rect x="110" y="115" width="5.3" height="5.3" fill="#c13b82"/>
<rect x="115" y="115" width="5.3" height="5.3" fill="#c43e7f"/>
<rect x="120" y="115" width="10.3" height="5.3" fill="#c5407e"/>
<rect x="130" y="115" width="5.3" height="5.3" fill="#c53f7e"/>
<rect x="135" y="115" width="10.3" height="5.3" fill="#c43f7f"/>
<rect x="145" y="115" width="5.3" height="5.3" fill="#c33e80"/>
<rect x="150" y="115" width="5.3" height="5.3" fill="#c23c81"/>
<rect x="155" y="115" width="5.3" height="5.3" fill="#c13b82"/>
<rect x="160" y="115" width="5.3" height="5.3" fill="#c03a83"/>
<rect x="165" y="115" width="5.3" height="5.3" fill="#bf3984"/>
<rect x="170" y="115" width="15.3" height="5.3" fill="#bd3785"/>
<rect x="-5" y="120" width="5.3" height="5.3" fill="#850aa5"/>
<rect x="0" y="120" width="5.3" height="5.3" fill="#8409a5"/>
<rect x="5" y="120" width="5.3" height="5.3" fill="#8208a5"/>
<rect x="10" y="120" width="5.3" height="5.3" fill="#8008a6"/>
<rect x="15" y="120" width="5.3" height="5.3" fill="#7f07a6"/>
<rect x="20" y="120" width="10.3" height="5.3" fill="#8008a6"/>
<rect x="30" y="120" width="5.3" height="5.3" fill="#8108a6"/>
<rect x="35" y="120" width="5.3" height="5.3" fill="#8208a5"/>
<rect x="40" y="120" width="5.3" height="5.3" fill="#8309a5"/>
<rect x="45" y="120" width="5.3" height="5.3" fill="#8409a5"/>
<rect x="50" y="120" width="5.3" height="5.3" fill="#850aa5"/>
<rect x="55" y="120" width="5.3" height="5.3" fill="#870aa5"/>
<rect x="60" y="120" width="5.3" height="5.3" fill="#8a0ba5"/>
<rect x="65" y="120" width="5.3" height="5.3" fill="#8f0da4"/>
<rect x="70" y="120" width="5.3" height="5.3" fill="#9411a1"/>
<rect x="75" y="120" width="5.3" height="5.3" fill="#98159e"/>
<rect x="80" y="120" width="5.3" height="5.3" fill="#9d199c"/>
<rect x="85" y="120" width="5.3" height="5.3" fill="#a21d99"/>
<rect x="90" y="120" width="5.3" height="5.3" fill="#a82295"/>
<rect x="95" y="120" width="5.3" height="5.3" fill="#ad2792"/>
<rect x="100" y="120" width="5.3" height="5.3" fill="#b22b8f"/>
<rect x="105" y="120" width="5.3" height="5.3" fill="#b62f8c"/>
<rect x="110" y="120" width="5.3" height="5.3" fill="#b93389"/>
<rect x="115" y="120" width="5.3" height="5.3" fill="#bd3785"/>
<rect x="120" y="120" width="5.3" height="5.3" fill="#bf3984"/>
<rect x="125" y="120" width="20.3" height="5.3" fill="#c13b82"/>
<rect x="145" y="120" width="5.3" height="5.3" fill="#c03a82"/>
<rect x="150" y="120" width="5.3" height="5.3" fill="#bf3983"/>
<rect x="155" y="120" width="5.3" height="5.3" fill="#be3884"/>
<rect x="160" y="120" width="5.3" height="5.3" fill="#bd3785"/>
<rect x="165" y="120" width="5.3" height="5.3" fill="#bc3587"/>
<rect x="170" y="120" width="5.3" height="5.3" fill="#bb3488"/>
<rect x="175" y="120" width="10.3" height="5.3" fill="#ba3488"/>
<rect x="-5" y="125" width="5.3" height="5.3" fill="#7f08a6"/>
<rect x="0" y="125" width="5.3" height="5.3" fill="#7f07a6"/>
<rect x="5" y="125" width="5.3" height="5.3" fill="#7d07a6"/>
<rect x="10" y="125" width="10.3" height="5.3" fill="#7c06a6"/>
<rect x="20" y="125" width="5.3" height="5.3" fill="#7d07a6"/>
<rect x="25" y="125" width="5.3" height="5.3" fill="#7e07a6"/>
<rect x="30" y="125" width="5.3" height="5.3" fill="#7f07a6"/>
<rect x="35" y="125" width="5.3" height="5.3" fill="#8008a6"/>
<rect x="40" y="125" width="5.3" height="5.3" fill="#8208a5"/>
<rect x="45" y="125" width="5.3" height="5.3" fill="#8309a5"/>
<rect x="50" y="125" width="5.3" height="5.3" fill="#8409a5"/>
<rect x="55" y="125" width="5.3" height="5.3" fill="#860aa5"/>
<rect x="60" y="125" width="5.3" height="5.3" fill="#880ba5"/>
<rect x="65" y="125" width="5.3" height="5.3" fill="#8c0ca4"/>
<rect x="70" y="125" width="5.3" height="5.3" fill="#900ea3"/>
<rect x="75" y="125" width="5.3" height="5.3" fill="#9512a1"/>
<rect x="80" y="125" width="5.3" height="5.3" fill="#99169e"/>
<rect x="85" y="125" width="5.3" height="5.3" fill="#9e1a9b"/>
<rect x="90" y="125" width="5.3" height="5.3" fill="#a31e98"/>
<rect x="95" y="125" width="5.3" height="5.3" fill="#a82295"/>
<rect x="100" y="125" width="5.3" height="5.3" fill="#ad2693"/>
<rect x="105" y="125" width="5.3" height="5.3" fill="#b12a90"/>
<rect x="110" y="125" width="5.3" height="5.3" fill="#b52e8d"/>
<rect x="115" y="125" width="5.3" height="5.3" fill="#b8328a"/>
<rect x="120" y="125" width="5.3" height="5.3" fill="#ba3488"/>
<rect x="125" y="125" width="5.3" height="5.3" fill="#bb3587"/>
<rect x="130" y="125" width="5.3" height="5.3" fill="#bc3686"/>
<rect x="135" y="125" width="5.3" height="5.3" fill="#bd3686"/>
<rect x="140" y="125" width="10.3" height="5.3" fill="#bd3785"/>
<rect x="150" y="125" width="5.3" height="5.3" fill="#bc3686"/>
<rect x="155" y="125" width="5.3" height="5.3" fill="#bb3587"/>
<rect x="160" y="125" width="5.3" height="5.3" fill="#ba3488"/>
<rect x="165" y="125" width="5.3" height="5.3" fill="#b93289"/>
<rect x="170" y="125" width="5.3" height="5.3" fill="#b8318a"/>
<rect x="175" y="125" width="10.3" height="5.3" fill="#b7318a"/>
<rect x="-5" y="130" width="10.3" height="5.3" fill="#7905a6"/>
<rect x="5" y="130" width="5.3" height="5.3" fill="#7805a6"/>
<rect x="10" y="130" width="5.3" height="5.3" fill="#7805a7"/>
<rect x="15" y="130" width="5.3" height="5.3" fill="#7805a6"/>
<rect x="20" y="130" width="5.3" height="5.3" fill="#7a06a6"/>
<rect x="25" y="130" width="5.3" height="5.3" fill="#7c06a6"/>
<rect x="30" y="130" width="5.3" height="5.3" fill="#7d07a6"/>
<rect x="35" y="130" width="5.3" height="5.3" fill="#7f07a6"/>
<rect x="40" y="130" width="5.3" height="5.3" fill="#8008a6"/>
<rect x="45" y="130" width="5.3" height="5.3" fill="#8108a5"/>
<rect x="50" y="130" width="5.3" height="5.3" fill="#8309a5"/>
<rect x="55" y="130" width="5.3" height="5.3" fill="#8509a5"/>
<rect x="60" y="130" width="5.3" height="5.3" fill="#870aa5"/>
<rect x="65" y="130" width="5.3" height="5.3" fill="#8a0ba5"/>
<rect x="70" y="130" width="5.3" height="5.3" fill="#8e0da4"/>
<rect x="75" y="130" width="5.3" height="5.3" fill="#920fa2"/>
<rect x="80" y="130" width="5.3" height="5.3" fill="#9512a0"/>
<rect x="85" y="130" width="5.3" height="5.3" fill="#99169e"/>
<rect x="90" y="130" width="5.3" height="5.3" fill="#9e1a9b"/>
<rect x="95" y="130" width="5.3" height="5.3" fill="#a31e98"/>
<rect x="100" y="130" width="5.3" height="5.3" fill="#a72296"/>
<rect x="105" y="130" width="5.3" height="5.3" fill="#ac2693"/>
<rect x="110" y="130" width="5.3" height="5.3" fill="#b02991"/>
<rect x="115" y="130" width="5.3" height="5.3" fill="#b42d8e"/>
<rect x="120" y="130" width="5.3" height="5.3" fill="#b62f8c"/>
<rect x="125" y="130" width="5.3" height="5.3" fill="#b7318b"/>
<rect x="130" y="130" width="5.3" height="5.3" fill="#b8328a"/>
<rect x="135" y="130" width="5.3" height="5.3" fill="#b93389"/>
<rect x="140" y="130" width="10.3" height="5.3" fill="#ba3388"/>
<rect x="150" y="130" width="5.3" height="5.3" fill="#b93289"/>
<rect x="155" y="130" width="5.3" height="5.3" fill="#b8318a"/>
<rect x="160" y="130" width="5.3" height="5.3" fill="#b7308b"/>
<rect x="165" y="130" width="5.3" height="5.3" fill="#b62f8c"/>
<rect x="170" y="130" width="15.3" height="5.3" fill="#b52e8d"/>
<rect x="-5" y="135" width="20.3" height="5.3" fill="#7303a7"/>
<rect x="15" y="135" width="5.3" height="5.3" fill="#7404a7"/>
<rect x="20" y="135" width="5.3" height="5.3" fill="#7705a7"/>
<rect x="25" y="135" width="5.3" height="5.3" fill="#7905a6"/>
<rect x="30" y="135" width="5.3" height="5.3" fill="#7b06a6"/>
<rect x="35" y="135" width="5.3" height="5.3" fill="#7d07a6"/>
<rect x="40" y="135" width="5.3" height="5.3" fill="#7e07a6"/>
<rect x="45" y="135" width="5.3" height="5.3" fill="#8008a6"/>
<rect x="50" y="135" width="5.3" height="5.3" fill="#8208a5"/>
<rect x="55" y="135" width="5.3" height="5.3" fill="#8309a5"/>
<rect x="60" y="135" width="5.3" height="5.3" fill="#860aa5"/>
<rect x="65" y="135" width="5.3" height="5.3" fill="#880ba5"/>
<rect x="70" y="135" width="5.3" height="5.3" fill="#8c0ca4"/>
<rect x="75" y="135" width="5.3" height="5.3" fill="#8f0da4"/>
<rect x="80" y="135" width="5.3" height="5.3" fill="#9210a2"/>
<rect x="85" y="135" width="5.3" height="5.3" fill="#9613a0"/>
<rect x="90" y="135" width="5.3" height="5.3" fill="#9a169e"/>
<rect x="95" y="135" width="5.3" height="5.3" fill="#9e1a9b"/>
<rect x="100" y="135" width="5.3" height="5.3" fill="#a21d99"/>
<rect x="105" y="135" width="5.3" height="5.3" fill="#a72196"/>
<rect x="110" y="135" width="5.3" height="5.3" fill="#ab2594"/>
<rect x="115" y="135" width="5.3" height="5.3" fill="#af2891"/>
<rect x="120" y="135" width="5.3" height="5.3" fill="#b22b90"/>
<rect x="125" y="135" width="5.3" height="5.3" fill="#b32c8e"/>
<rect x="130" y="135" width="5.3" height="5.3" fill="#b42d8d"/>
<rect x="135" y="135" width="5.3" height="5.3" fill="#b52f8c"/>
<rect x="140" y="135" width="10.3" height="5.3" fill="#b7308b"/>
<rect x="150" y="135" width="5.3" height="5.3" fill="#b62f8c"/>
<rect x="155" y="135" width="5.3" height="5.3" fill="#b52e8d"/>
<rect x="160" y="135" width="5.3" height="5.3" fill="#b42d8d"/>
<rect x="165" y="135" width="5.3" height="5.3" fill="#b32c8e"/>
<rect x="170" y="135" width="15.3" height="5.3" fill="#b22b8f"/>
<rect x="-5" y="140" width="20.3" height="5.3" fill="#7203a7"/>
<rect x="15" y="140" width="5.3" height="5.3" fill="#7303a7"/>
<rect x="20" y="140" width="5.3" height="5.3" fill="#7604a7"/>
<rect x="25" y="140" width="5.3" height="5.3" fill="#7905a6"/>
<rect x="30" y="140" width="5.3" height="5.3" fill="#7b06a6"/>
<rect x="35" y="140" width="5.3" height="5.3" fill="#7c06a6"/>
<rect x="40" y="140" width="5.3" height="5.3" fill="#7e07a6"/>
<rect x="45" y="140" width="5.3" height="5.3" fill="#7f08a6"/>
<rect x="50" y="140" width="5.3" height="5.3" fill="#8108a6"/>
<rect x="55" y="140" width="5.3" height="5.3" fill="#8309a5"/>
<rect x="60" y="140" width="5.3" height="5.3" fill="#8509a5"/>
<rect x="65" y="140" width="5.3" height="5.3" fill="#880aa5"/>
<rect x="70" y="140" width="5.3" height="5.3" fill="#8b0ba4"/>
<rect x="75" y="140" width="5.3" height="5.3" fill="#8e0da4"/>
<rect x="80" y="140" width="5.3" height="5.3" fill="#910fa3"/>
<rect x="85" y="140" width="5.3" height="5.3" fill="#9411a1"/>
<rect x="90" y="140" width="5.3" height="5.3" fill="#98159f"/>
<rect x="95" y="140" width="5.3" height="5.3" fill="#9c189c"/>
<rect x="100" y="140" width="5.3" height="5.3" fill="#a11c9a"/>
<rect x="105" y="140" width="5.3" height="5.3" fill="#a52097"/>
<rect x="110" y="140" width="5.3" height="5.3" fill="#a92395"/>
<rect x="115" y="140" width="5.3" height="5.3" fill="#ad2792"/>
<rect x="120" y="140" width="5.3" height="5.3" fill="#b02991"/>
<rect x="125" y="140" width="5.3" height="5.3" fill="#b22b8f"/>
<rect x="130" y="140" width="5.3" height="5.3" fill="#b32c8e"/>
<rect x="135" y="140" width="5.3" height="5.3" fill="#b42e8d"/>
<rect x="140" y="140" width="10.3" height="5.3" fill="#b62f8c"/>
<rect x="150" y="140" width="5.3" height="5.3" fill="#b52e8d"/>
<rect x="155" y="140" width="5.3" height="5.3" fill="#b42d8d"/>
<rect x="160" y="140" width="5.3" height="5.3" fill="#b32c8e"/>
<rect x="165" y="140" width="5.3" height="5.3" fill="#b22b8f"/>
<rect x="170" y="140" width="15.3" height="5.3" fill="#b12a90"/>
<rect x="-5" y="145" width="20.3" height="5.3" fill="#7203a7"/>
<rect x="15" y="145" width="5.3" height="5.3" fill="#7303a7"/>
<rect x="20" y="145" width="5.3" height="5.3" fill="#7604a7"/>
<rect x="25" y="145" width="5.3" height="5.3" fill="#7805a6"/>
<rect x="30" y="145" width="5.3" height="5.3" fill="#7b06a6"/>
<rect x="35" y="145" width="5.3" height="5.3" fill="#7c06a6"/>
<rect x="40" y="145" width="5.3" height="5.3" fill="#7e07a6"/>
<rect x="45" y="145" width="5.3" height="5.3" fill="#7f07a6"/>
<rect x="50" y="145" width="5.3" height="5.3" fill="#8108a6"/>
<rect x="55" y="145" width="5.3" height="5.3" fill="#8209a5"/>
<rect x="60" y="145" width="5.3" height="5.3" fill="#8409a5"/>
<rect x="65" y="145" width="5.3" height="5.3" fill="#870aa5"/>
<rect x="70" y="145" width="5.3" height="5.3" fill="#8a0ba5"/>
<rect x="75" y="145" width="5.3" height="5.3" fill="#8d0ca4"/>
<rect x="80" y="145" width="5.3" height="5.3" fill="#900ea4"/>
<rect x="85" y="145" width="5.3" height="5.3" fill="#9411a1"/>
<rect x="90" y="145" width="5.3" height="5.3" fill="#98159f"/>
<rect x="95" y="145" width="5.3" height="5.3" fill="#9c189c"/>
<rect x="100" y="145" width="5.3" height="5.3" fill="#a11c9a"/>
<rect x="105" y="145" width="5.3" height="5.3" fill="#a52097"/>
<rect x="110" y="145" width="5.3" height="5.3" fill="#a92395"/>
<rect x="115" y="145" width="5.3" height="5.3" fill="#ad2792"/>
<rect x="120" y="145" width="5.3" height="5.3" fill="#b02991"/>
<rect x="125" y="145" width="5.3" height="5.3" fill="#b22b8f"/>
<rect x="130" y="145" width="5.3" height="5.3" fill="#b32c8e"/>
<rect x="135" y="145" width="5.3" height="5.3" fill="#b42e8d"/>
<rect x="140" y="145" width="10.3" height="5.3" fill="#b62f8c"/>
<rect x="150" y="145" width="5.3" height="5.3" fill="#b52e8d"/>
<rect x="155" y="145" width="5.3" height="5.3" fill="#b42d8d"/>
<rect x="160" y="145" width="5.3" height="5.3" fill="#b32c8e"/>
<rect x="165" y="145" width="5.3" height="5.3" fill="#b22b8f"/>
<rect x="170" y="145" width="15.3" height="5.3" fill="#b12a90"/>
</g></g>
<defs><clipPath id="clipD"><rect x="222.5" y="198.6" width="172.3" height="138.7"/></clipPath></defs><g clip-path="url(#clipD)">
<line x1="292.5" y1="299.7" x2="312.5" y2="337.2" stroke="rgb(240,130,120)" stroke-opacity="0.13" stroke-width="1.5"/>
<line x1="299.0" y1="293.4" x2="319.0" y2="337.2" stroke="rgb(240,130,120)" stroke-opacity="0.15" stroke-width="1.5"/>
<line x1="305.5" y1="287.0" x2="325.5" y2="337.2" stroke="rgb(240,130,120)" stroke-opacity="0.19" stroke-width="1.5"/>
<line x1="312.0" y1="280.6" x2="332.0" y2="337.2" stroke="rgb(240,130,120)" stroke-opacity="0.14" stroke-width="1.5"/>
<line x1="318.5" y1="274.3" x2="338.5" y2="337.2" stroke="rgb(240,130,120)" stroke-opacity="0.14" stroke-width="1.5"/>
<line x1="325.0" y1="267.9" x2="345.0" y2="337.2" stroke="rgb(240,130,120)" stroke-opacity="0.15" stroke-width="1.5"/>
<line x1="331.5" y1="261.5" x2="351.5" y2="337.2" stroke="rgb(240,130,120)" stroke-opacity="0.10" stroke-width="1.5"/>
<line x1="338.0" y1="255.2" x2="358.0" y2="337.2" stroke="rgb(240,130,120)" stroke-opacity="0.14" stroke-width="1.5"/>
<line x1="344.5" y1="248.8" x2="364.5" y2="337.2" stroke="rgb(240,130,120)" stroke-opacity="0.16" stroke-width="1.5"/>
<line x1="351.0" y1="242.4" x2="371.0" y2="337.2" stroke="rgb(240,130,120)" stroke-opacity="0.18" stroke-width="1.5"/>
<line x1="357.5" y1="236.0" x2="377.5" y2="337.2" stroke="rgb(240,130,120)" stroke-opacity="0.09" stroke-width="1.5"/>
<line x1="364.0" y1="229.7" x2="384.0" y2="337.2" stroke="rgb(240,130,120)" stroke-opacity="0.12" stroke-width="1.5"/>
<line x1="370.5" y1="223.3" x2="390.5" y2="337.2" stroke="rgb(240,130,120)" stroke-opacity="0.09" stroke-width="1.5"/>
<line x1="377.0" y1="216.9" x2="397.0" y2="337.2" stroke="rgb(240,130,120)" stroke-opacity="0.18" stroke-width="1.5"/>
<line x1="383.5" y1="210.6" x2="403.5" y2="337.2" stroke="rgb(240,130,120)" stroke-opacity="0.16" stroke-width="1.5"/>
<line x1="390.0" y1="208.6" x2="410.0" y2="337.2" stroke="rgb(240,130,120)" stroke-opacity="0.09" stroke-width="1.5"/>
</g>
<path d="M285.9,306.4 C287.8,305.2 293.4,302.0 297.2,299.4 C301.0,296.8 304.6,293.8 308.5,290.7 C312.4,287.6 316.8,284.4 320.7,280.8 C324.6,277.2 328.2,273.4 332.0,269.0 C335.8,264.6 339.5,259.5 343.3,254.7 C347.1,249.9 350.8,245.0 354.6,240.2 C358.4,235.4 364.0,228.2 365.9,225.8" fill="none" stroke="rgb(30,5,30)" stroke-width="0.9"/>
<circle cx="297.2" cy="299.4" r="1.1" fill="#200"/>
<circle cx="308.5" cy="290.7" r="1.1" fill="#200"/>
<circle cx="320.7" cy="280.8" r="1.1" fill="#200"/>
<circle cx="332.0" cy="269.0" r="1.1" fill="#200"/>
<circle cx="343.3" cy="254.7" r="1.1" fill="#200"/>
<circle cx="354.6" cy="240.2" r="1.1" fill="#200"/>
<circle cx="285.9" cy="306.4" r="1.2" fill="#200"/>
<line x1="286.8" y1="298.4" x2="290.7" y2="302.6" stroke="#fff" stroke-opacity="1.0" stroke-width="1.7" stroke-linecap="round"/>
<line x1="290.7" y1="302.6" x2="293.8" y2="306.9" stroke="#fff" stroke-opacity="0.55" stroke-width="2" stroke-linecap="round"/>
<path d="M292.6,305.8 L294.6,308.9 L296.0,305.7" fill="none" stroke="#fff" stroke-opacity="0.40" stroke-width="0.8"/>
<line x1="299.9" y1="290.5" x2="303.8" y2="294.7" stroke="#fff" stroke-opacity="1.0" stroke-width="1.7" stroke-linecap="round"/>
<line x1="303.8" y1="294.7" x2="306.9" y2="299.0" stroke="#fff" stroke-opacity="0.55" stroke-width="2" stroke-linecap="round"/>
<path d="M305.7,297.9 L307.7,301.0 L309.1,297.8" fill="none" stroke="#fff" stroke-opacity="0.40" stroke-width="0.8"/>
<line x1="311.2" y1="281.0" x2="315.1" y2="285.2" stroke="#fff" stroke-opacity="1.0" stroke-width="1.7" stroke-linecap="round"/>
<line x1="315.1" y1="285.2" x2="318.2" y2="289.5" stroke="#fff" stroke-opacity="0.55" stroke-width="2" stroke-linecap="round"/>
<path d="M317.0,288.4 L319.0,291.5 L320.4,288.3" fill="none" stroke="#fff" stroke-opacity="0.40" stroke-width="0.8"/>
<line x1="322.5" y1="271.4" x2="326.4" y2="275.6" stroke="#fff" stroke-opacity="1.0" stroke-width="1.7" stroke-linecap="round"/>
<line x1="326.4" y1="275.6" x2="329.5" y2="279.9" stroke="#fff" stroke-opacity="0.55" stroke-width="2" stroke-linecap="round"/>
<path d="M328.3,278.8 L330.3,281.9 L331.7,278.7" fill="none" stroke="#fff" stroke-opacity="0.40" stroke-width="0.8"/>
<line x1="333.8" y1="258.9" x2="337.7" y2="263.1" stroke="#fff" stroke-opacity="1.0" stroke-width="1.7" stroke-linecap="round"/>
<line x1="337.7" y1="263.1" x2="340.8" y2="267.4" stroke="#fff" stroke-opacity="0.55" stroke-width="2" stroke-linecap="round"/>
<path d="M339.6,266.3 L341.6,269.4 L343.0,266.2" fill="none" stroke="#fff" stroke-opacity="0.40" stroke-width="0.8"/>
<line x1="345.1" y1="244.4" x2="349.0" y2="248.6" stroke="#fff" stroke-opacity="1.0" stroke-width="1.7" stroke-linecap="round"/>
<line x1="349.0" y1="248.6" x2="352.1" y2="252.9" stroke="#fff" stroke-opacity="0.55" stroke-width="2" stroke-linecap="round"/>
<path d="M350.9,251.8 L352.9,254.9 L354.3,251.7" fill="none" stroke="#fff" stroke-opacity="0.40" stroke-width="0.8"/>
<line x1="356.4" y1="228.8" x2="360.3" y2="233.0" stroke="#fff" stroke-opacity="1.0" stroke-width="1.7" stroke-linecap="round"/>
<line x1="360.3" y1="233.0" x2="363.4" y2="237.3" stroke="#fff" stroke-opacity="0.55" stroke-width="2" stroke-linecap="round"/>
<path d="M362.2,236.2 L364.2,239.3 L365.6,236.1" fill="none" stroke="#fff" stroke-opacity="0.40" stroke-width="0.8"/>
<ellipse cx="346.0" cy="293.9" rx="2.8" ry="2.3" fill="#fff"/><ellipse cx="349.5" cy="294.4" rx="1.3" ry="1" fill="#fff" fill-opacity="0.8"/>
<circle cx="365.9" cy="225.8" r="1.5" fill="#fff"/>
<text x="224" y="214" font-family="Liberation Sans, sans-serif" font-weight="bold" font-size="16.5" fill="#fff">(d)</text>
<text x="374.5" y="215.6" font-family="Liberation Sans, sans-serif" font-weight="bold" font-size="20" fill="#fff">u</text>
<defs><linearGradient id="cbD" x1="0" y1="0" x2="0" y2="1"><stop offset="0.00" stop-color="#f0f921"/><stop offset="0.10" stop-color="#fcce25"/><stop offset="0.20" stop-color="#fca636"/><stop offset="0.30" stop-color="#f2844b"/><stop offset="0.40" stop-color="#e16462"/><stop offset="0.50" stop-color="#cc4778"/><stop offset="0.60" stop-color="#b12a90"/><stop offset="0.70" stop-color="#8f0da4"/><stop offset="0.80" stop-color="#6a00a8"/><stop offset="0.90" stop-color="#41049d"/><stop offset="1.00" stop-color="#0d0887"/></linearGradient></defs><rect x="400" y="201" width="8.600000000000023" height="136" fill="url(#cbD)" stroke="#555" stroke-width="0.4"/>
<text x="412" y="211.2" font-family="Liberation Sans, sans-serif" font-weight="bold" font-size="8" fill="#333">60</text>
<text x="412" y="229.5" font-family="Liberation Sans, sans-serif" font-weight="bold" font-size="8" fill="#333">50</text>
<text x="412" y="247.7" font-family="Liberation Sans, sans-serif" font-weight="bold" font-size="8" fill="#333">40</text>
<text x="412" y="265.8" font-family="Liberation Sans, sans-serif" font-weight="bold" font-size="8" fill="#333">30</text>
<text x="412" y="283.9" font-family="Liberation Sans, sans-serif" font-weight="bold" font-size="8" fill="#333">20</text>
<text x="412" y="302.0" font-family="Liberation Sans, sans-serif" font-weight="bold" font-size="8" fill="#333">10</text>
<text x="412" y="320.1" font-family="Liberation Sans, sans-serif" font-weight="bold" font-size="8" fill="#333">0</text>
<text x="412" y="336.2" font-family="Liberation Sans, sans-serif" font-weight="bold" font-size="8" fill="#333">-10</text>
<g transform="translate(431.5,272) rotate(-90)"><text x="0" y="0" font-family="Liberation Sans, sans-serif" font-weight="bold" font-size="7.5" fill="#222" text-anchor="middle">u (pixel)</text></g>
<defs><filter id="fE" x="-5%" y="-5%" width="110%" height="110%"><feGaussianBlur stdDeviation="3.2"/></filter><clipPath id="fEc"><rect x="437.7" y="198.5" width="174.1" height="138.8"/></clipPath></defs>
<g clip-path="url(#fEc)"><g filter="url(#fE)" transform="translate(437.7,198.5)">
<rect x="-5" y="-5" width="5.3" height="5.3" fill="#f6e523"/>
<rect x="0" y="-5" width="5.3" height="5.3" fill="#f6e423"/>
<rect x="5" y="-5" width="5.3" height="5.3" fill="#f6e323"/>
<rect x="10" y="-5" width="5.3" height="5.3" fill="#f7e123"/>
<rect x="15" y="-5" width="5.3" height="5.3" fill="#f7e023"/>
<rect x="20" y="-5" width="5.3" height="5.3" fill="#f7df23"/>
<rect x="25" y="-5" width="5.3" height="5.3" fill="#f8dd24"/>
<rect x="30" y="-5" width="5.3" height="5.3" fill="#f8dc24"/>
<rect x="35" y="-5" width="5.3" height="5.3" fill="#f8db24"/>
<rect x="40" y="-5" width="5.3" height="5.3" fill="#f9da24"/>
<rect x="45" y="-5" width="5.3" height="5.3" fill="#f9d824"/>
<rect x="50" y="-5" width="5.3" height="5.3" fill="#f9d724"/>
<rect x="55" y="-5" width="5.3" height="5.3" fill="#fad624"/>
<rect x="60" y="-5" width="5.3" height="5.3" fill="#fad424"/>
<rect x="65" y="-5" width="5.3" height="5.3" fill="#fbd325"/>
<rect x="70" y="-5" width="5.3" height="5.3" fill="#fbd225"/>
<rect x="75" y="-5" width="5.3" height="5.3" fill="#fbd125"/>
<rect x="80" y="-5" width="5.3" height="5.3" fill="#fccf25"/>
<rect x="85" y="-5" width="5.3" height="5.3" fill="#fcce25"/>
<rect x="90" y="-5" width="5.3" height="5.3" fill="#fccd26"/>
<rect x="95" y="-5" width="5.3" height="5.3" fill="#fccc26"/>
<rect x="100" y="-5" width="5.3" height="5.3" fill="#fcc927"/>
<rect x="105" y="-5" width="5.3" height="5.3" fill="#fcc828"/>
<rect x="110" y="-5" width="5.3" height="5.3" fill="#fcc628"/>
<rect x="115" y="-5" width="5.3" height="5.3" fill="#fcc429"/>
<rect x="120" y="-5" width="5.3" height="5.3" fill="#fcc22a"/>
<rect x="125" y="-5" width="5.3" height="5.3" fill="#fcbf2b"/>
<rect x="130" y="-5" width="5.3" height="5.3" fill="#fcbc2d"/>
<rect x="135" y="-5" width="5.3" height="5.3" fill="#fcb72f"/>
<rect x="140" y="-5" width="5.3" height="5.3" fill="#fcb231"/>
<rect x="145" y="-5" width="5.3" height="5.3" fill="#fcab34"/>
<rect x="150" y="-5" width="5.3" height="5.3" fill="#fba239"/>
<rect x="155" y="-5" width="5.3" height="5.3" fill="#f7973f"/>
<rect x="160" y="-5" width="5.3" height="5.3" fill="#f38948"/>
<rect x="165" y="-5" width="5.3" height="5.3" fill="#e7705a"/>
<rect x="170" y="-5" width="5.3" height="5.3" fill="#d6546e"/>
<rect x="175" y="-5" width="5.3" height="5.3" fill="#c7427c"/>
<rect x="180" y="-5" width="5.3" height="5.3" fill="#c03a83"/>
<rect x="-5" y="0" width="5.3" height="5.3" fill="#f6e323"/>
<rect x="0" y="0" width="5.3" height="5.3" fill="#f6e223"/>
<rect x="5" y="0" width="5.3" height="5.3" fill="#f7e023"/>
<rect x="10" y="0" width="5.3" height="5.3" fill="#f7df23"/>
<rect x="15" y="0" width="5.3" height="5.3" fill="#f8de24"/>
<rect x="20" y="0" width="5.3" height="5.3" fill="#f8dd24"/>
<rect x="25" y="0" width="5.3" height="5.3" fill="#f8db24"/>
<rect x="30" y="0" width="5.3" height="5.3" fill="#f9da24"/>
<rect x="35" y="0" width="5.3" height="5.3" fill="#f9d924"/>
<rect x="40" y="0" width="5.3" height="5.3" fill="#f9d724"/>
<rect x="45" y="0" width="5.3" height="5.3" fill="#fad624"/>
<rect x="50" y="0" width="5.3" height="5.3" fill="#fad524"/>
<rect x="55" y="0" width="5.3" height="5.3" fill="#fad424"/>
<rect x="60" y="0" width="5.3" height="5.3" fill="#fbd225"/>
<rect x="65" y="0" width="5.3" height="5.3" fill="#fbd125"/>
<rect x="70" y="0" width="5.3" height="5.3" fill="#fcd025"/>
<rect x="75" y="0" width="5.3" height="5.3" fill="#fcce25"/>
<rect x="80" y="0" width="5.3" height="5.3" fill="#fccd25"/>
<rect x="85" y="0" width="5.3" height="5.3" fill="#fccc26"/>
<rect x="90" y="0" width="5.3" height="5.3" fill="#fccb26"/>
<rect x="95" y="0" width="5.3" height="5.3" fill="#fcca27"/>
<rect x="100" y="0" width="5.3" height="5.3" fill="#fcc827"/>
<rect x="105" y="0" width="5.3" height="5.3" fill="#fcc629"/>
<rect x="110" y="0" width="5.3" height="5.3" fill="#fcc429"/>
<rect x="115" y="0" width="5.3" height="5.3" fill="#fcc22a"/>
<rect x="120" y="0" width="5.3" height="5.3" fill="#fcbf2b"/>
<rect x="125" y="0" width="5.3" height="5.3" fill="#fcbc2d"/>
<rect x="130" y="0" width="5.3" height="5.3" fill="#fcb82e"/>
<rect x="135" y="0" width="5.3" height="5.3" fill="#fcb430"/>
<rect x="140" y="0" width="5.3" height="5.3" fill="#fcaf32"/>
<rect x="145" y="0" width="5.3" height="5.3" fill="#fca736"/>
<rect x="150" y="0" width="5.3" height="5.3" fill="#f99d3c"/>
<rect x="155" y="0" width="5.3" height="5.3" fill="#f69143"/>
<rect x="160" y="0" width="5.3" height="5.3" fill="#f1824d"/>
<rect x="165" y="0" width="5.3" height="5.3" fill="#e3685f"/>
<rect x="170" y="0" width="5.3" height="5.3" fill="#d14e73"/>
<rect x="175" y="0" width="5.3" height="5.3" fill="#c23c81"/>
<rect x="180" y="0" width="5.3" height="5.3" fill="#bc3587"/>
<rect x="-5" y="5" width="5.3" height="5.3" fill="#f7e123"/>
<rect x="0" y="5" width="5.3" height="5.3" fill="#f7e023"/>
<rect x="5" y="5" width="5.3" height="5.3" fill="#f7de23"/>
<rect x="10" y="5" width="5.3" height="5.3" fill="#f8dd24"/>
<rect x="15" y="5" width="5.3" height="5.3" fill="#f8dc24"/>
<rect x="20" y="5" width="5.3" height="5.3" fill="#f9da24"/>
<rect x="25" y="5" width="5.3" height="5.3" fill="#f9d924"/>
<rect x="30" y="5" width="5.3" height="5.3" fill="#f9d824"/>
<rect x="35" y="5" width="5.3" height="5.3" fill="#fad724"/>
<rect x="40" y="5" width="5.3" height="5.3" fill="#fad524"/>
<rect x="45" y="5" width="5.3" height="5.3" fill="#fad424"/>
<rect x="50" y="5" width="5.3" height="5.3" fill="#fbd325"/>
<rect x="55" y="5" width="5.3" height="5.3" fill="#fbd125"/>
<rect x="60" y="5" width="5.3" height="5.3" fill="#fbd025"/>
<rect x="65" y="5" width="5.3" height="5.3" fill="#fccf25"/>
<rect x="70" y="5" width="5.3" height="5.3" fill="#fcce25"/>
<rect x="75" y="5" width="5.3" height="5.3" fill="#fccc26"/>
<rect x="80" y="5" width="5.3" height="5.3" fill="#fccb26"/>
<rect x="85" y="5" width="5.3" height="5.3" fill="#fcca27"/>
<rect x="90" y="5" width="5.3" height="5.3" fill="#fcc927"/>
<rect x="95" y="5" width="5.3" height="5.3" fill="#fcc828"/>
<rect x="100" y="5" width="5.3" height="5.3" fill="#fcc628"/>
<rect x="105" y="5" width="5.3" height="5.3" fill="#fcc529"/>
<rect x="110" y="5" width="5.3" height="5.3" fill="#fcc429"/>
<rect x="115" y="5" width="5.3" height="5.3" fill="#fcbf2b"/>
<rect x="120" y="5" width="5.3" height="5.3" fill="#fcbc2d"/>
<rect x="125" y="5" width="5.3" height="5.3" fill="#fcb92e"/>
<rect x="130" y="5" width="5.3" height="5.3" fill="#fcb62f"/>
<rect x="135" y="5" width="5.3" height="5.3" fill="#fcb231"/>
<rect x="140" y="5" width="5.3" height="5.3" fill="#fcac33"/>
<rect x="145" y="5" width="5.3" height="5.3" fill="#fba437"/>
<rect x="150" y="5" width="5.3" height="5.3" fill="#f8973f"/>
<rect x="155" y="5" width="5.3" height="5.3" fill="#f38948"/>
<rect x="160" y="5" width="5.3" height="5.3" fill="#ed7a52"/>
<rect x="165" y="5" width="5.3" height="5.3" fill="#de6065"/>
<rect x="170" y="5" width="5.3" height="5.3" fill="#cc4778"/>
<rect x="175" y="5" width="5.3" height="5.3" fill="#bc3686"/>
<rect x="180" y="5" width="5.3" height="5.3" fill="#b7308b"/>
<rect x="-5" y="10" width="5.3" height="5.3" fill="#f7df23"/>
<rect x="0" y="10" width="5.3" height="5.3" fill="#f8dd24"/>
<rect x="5" y="10" width="5.3" height="5.3" fill="#f8dc24"/>
<rect x="10" y="10" width="5.3" height="5.3" fill="#f8db24"/>
<rect x="15" y="10" width="5.3" height="5.3" fill="#f9da24"/>
<rect x="20" y="10" width="5.3" height="5.3" fill="#f9d824"/>
<rect x="25" y="10" width="5.3" height="5.3" fill="#f9d724"/>
<rect x="30" y="10" width="5.3" height="5.3" fill="#fad624"/>
<rect x="35" y="10" width="5.3" height="5.3" fill="#fad424"/>
<rect x="40" y="10" width="5.3" height="5.3" fill="#fbd325"/>
<rect x="45" y="10" width="5.3" height="5.3" fill="#fbd225"/>
<rect x="50" y="10" width="5.3" height="5.3" fill="#fbd125"/>
<rect x="55" y="10" width="5.3" height="5.3" fill="#fccf25"/>
<rect x="60" y="10" width="5.3" height="5.3" fill="#fcce25"/>
<rect x="65" y="10" width="5.3" height="5.3" fill="#fccd26"/>
<rect x="70" y="10" width="5.3" height="5.3" fill="#fccc26"/>
<rect x="75" y="10" width="5.3" height="5.3" fill="#fcca27"/>
<rect x="80" y="10" width="5.3" height="5.3" fill="#fcc927"/>
<rect x="85" y="10" width="5.3" height="5.3" fill="#fcc828"/>
<rect x="90" y="10" width="5.3" height="5.3" fill="#fcc728"/>
<rect x="95" y="10" width="5.3" height="5.3" fill="#fcc629"/>
<rect x="100" y="10" width="5.3" height="5.3" fill="#fcc429"/>
<rect x="105" y="10" width="5.3" height="5.3" fill="#fcc32a"/>
<rect x="110" y="10" width="5.3" height="5.3" fill="#fcc22a"/>
<rect x="115" y="10" width="5.3" height="5.3" fill="#fcc12b"/>
<rect x="120" y="10" width="5.3" height="5.3" fill="#fcba2e"/>
<rect x="125" y="10" width="5.3" height="5.3" fill="#fcb72f"/>
<rect x="130" y="10" width="5.3" height="5.3" fill="#fcb530"/>
<rect x="135" y="10" width="5.3" height="5.3" fill="#fcb032"/>
<rect x="140" y="10" width="5.3" height="5.3" fill="#fca935"/>
<rect x="145" y="10" width="5.3" height="5.3" fill="#faa03a"/>
<rect x="150" y="10" width="5.3" height="5.3" fill="#f69143"/>
<rect x="155" y="10" width="5.3" height="5.3" fill="#f0814d"/>
<rect x="160" y="10" width="5.3" height="5.3" fill="#e87159"/>
<rect x="165" y="10" width="5.3" height="5.3" fill="#d9596a"/>
<rect x="170" y="10" width="5.3" height="5.3" fill="#c6417d"/>
<rect x="175" y="10" width="5.3" height="5.3" fill="#b7318a"/>
<rect x="180" y="10" width="5.3" height="5.3" fill="#b32c8e"/>
<rect x="-5" y="15" width="5.3" height="5.3" fill="#f8dd24"/>
<rect x="0" y="15" width="5.3" height="5.3" fill="#f8db24"/>
<rect x="5" y="15" width="5.3" height="5.3" fill="#f9da24"/>
<rect x="10" y="15" width="5.3" height="5.3" fill="#f9d924"/>
<rect x="15" y="15" width="5.3" height="5.3" fill="#f9d724"/>
<rect x="20" y="15" width="5.3" height="5.3" fill="#fad624"/>
<rect x="25" y="15" width="5.3" height="5.3" fill="#fad524"/>
<rect x="30" y="15" width="5.3" height="5.3" fill="#fad424"/>
<rect x="35" y="15" width="5.3" height="5.3" fill="#fbd225"/>
<rect x="40" y="15" width="5.3" height="5.3" fill="#fbd125"/>
<rect x="45" y="15" width="5.3" height="5.3" fill="#fcd025"/>
<rect x="50" y="15" width="5.3" height="5.3" fill="#fcce25"/>
<rect x="55" y="15" width="5.3" height="5.3" fill="#fccd25"/>
<rect x="60" y="15" width="5.3" height="5.3" fill="#fccc26"/>
<rect x="65" y="15" width="5.3" height="5.3" fill="#fccb26"/>
<rect x="70" y="15" width="5.3" height="5.3" fill="#fcca27"/>
<rect x="75" y="15" width="5.3" height="5.3" fill="#fcc827"/>
<rect x="80" y="15" width="5.3" height="5.3" fill="#fcc728"/>
<rect x="85" y="15" width="5.3" height="5.3" fill="#fcc628"/>
<rect x="90" y="15" width="5.3" height="5.3" fill="#fcc529"/>
<rect x="95" y="15" width="5.3" height="5.3" fill="#fcc429"/>
<rect x="100" y="15" width="5.3" height="5.3" fill="#fcc22a"/>
<rect x="105" y="15" width="5.3" height="5.3" fill="#fcc12a"/>
<rect x="110" y="15" width="5.3" height="5.3" fill="#fcc02b"/>
<rect x="115" y="15" width="5.3" height="5.3" fill="#fcbf2b"/>
<rect x="120" y="15" width="5.3" height="5.3" fill="#fcbd2c"/>
<rect x="125" y="15" width="5.3" height="5.3" fill="#fcbc2d"/>
<rect x="130" y="15" width="5.3" height="5.3" fill="#fcb231"/>
<rect x="135" y="15" width="5.3" height="5.3" fill="#fcae33"/>
<rect x="140" y="15" width="5.3" height="5.3" fill="#fca536"/>
<rect x="145" y="15" width="5.3" height="5.3" fill="#f89a3d"/>
<rect x="150" y="15" width="5.3" height="5.3" fill="#f38849"/>
<rect x="155" y="15" width="5.3" height="5.3" fill="#eb7755"/>
<rect x="160" y="15" width="5.3" height="5.3" fill="#e26660"/>
<rect x="165" y="15" width="5.3" height="5.3" fill="#d35170"/>
<rect x="170" y="15" width="5.3" height="5.3" fill="#c03a83"/>
<rect x="175" y="15" width="5.3" height="5.3" fill="#b22b8f"/>
<rect x="180" y="15" width="5.3" height="5.3" fill="#ae2792"/>
<rect x="-5" y="20" width="5.3" height="5.3" fill="#f9da24"/>
<rect x="0" y="20" width="5.3" height="5.3" fill="#f9d924"/>
<rect x="5" y="20" width="5.3" height="5.3" fill="#f9d824"/>
<rect x="10" y="20" width="5.3" height="5.3" fill="#fad724"/>
<rect x="15" y="20" width="5.3" height="5.3" fill="#fad524"/>
<rect x="20" y="20" width="5.3" height="5.3" fill="#fad424"/>
<rect x="25" y="20" width="5.3" height="5.3" fill="#fbd325"/>
<rect x="30" y="20" width="5.3" height="5.3" fill="#fbd125"/>
<rect x="35" y="20" width="5.3" height="5.3" fill="#fbd025"/>
<rect x="40" y="20" width="5.3" height="5.3" fill="#fccf25"/>
<rect x="45" y="20" width="5.3" height="5.3" fill="#fcce25"/>
<rect x="50" y="20" width="5.3" height="5.3" fill="#fccc26"/>
<rect x="55" y="20" width="5.3" height="5.3" fill="#fccb26"/>
<rect x="60" y="20" width="5.3" height="5.3" fill="#fcca27"/>
<rect x="65" y="20" width="5.3" height="5.3" fill="#fcc927"/>
<rect x="70" y="20" width="5.3" height="5.3" fill="#fcc828"/>
<rect x="75" y="20" width="5.3" height="5.3" fill="#fcc628"/>
<rect x="80" y="20" width="5.3" height="5.3" fill="#fcc529"/>
<rect x="85" y="20" width="5.3" height="5.3" fill="#fcc429"/>
<rect x="90" y="20" width="5.3" height="5.3" fill="#fcc32a"/>
<rect x="95" y="20" width="5.3" height="5.3" fill="#fcc22a"/>
<rect x="100" y="20" width="5.3" height="5.3" fill="#fcc02b"/>
<rect x="105" y="20" width="5.3" height="5.3" fill="#fcbf2b"/>
<rect x="110" y="20" width="5.3" height="5.3" fill="#fcbe2c"/>
<rect x="115" y="20" width="5.3" height="5.3" fill="#fcbd2c"/>
<rect x="120" y="20" width="5.3" height="5.3" fill="#fcbb2d"/>
<rect x="125" y="20" width="5.3" height="5.3" fill="#fcba2e"/>
<rect x="130" y="20" width="5.3" height="5.3" fill="#fcb72f"/>
<rect x="135" y="20" width="5.3" height="5.3" fill="#fca935"/>
<rect x="140" y="20" width="5.3" height="5.3" fill="#fa9f3a"/>
<rect x="145" y="20" width="5.3" height="5.3" fill="#f58e45"/>
<rect x="150" y="20" width="5.3" height="5.3" fill="#ed7b52"/>
<rect x="155" y="20" width="5.3" height="5.3" fill="#e46a5d"/>
<rect x="160" y="20" width="5.3" height="5.3" fill="#db5b68"/>
<rect x="165" y="20" width="5.3" height="5.3" fill="#cd4877"/>
<rect x="170" y="20" width="5.3" height="5.3" fill="#b93289"/>
<rect x="175" y="20" width="5.3" height="5.3" fill="#ab2594"/>
<rect x="180" y="20" width="5.3" height="5.3" fill="#a72196"/>
<rect x="-5" y="25" width="5.3" height="5.3" fill="#f9d824"/>
<rect x="0" y="25" width="5.3" height="5.3" fill="#fad724"/>
<rect x="5" y="25" width="5.3" height="5.3" fill="#fad624"/>
<rect x="10" y="25" width="5.3" height="5.3" fill="#fad424"/>
<rect x="15" y="25" width="5.3" height="5.3" fill="#fbd325"/>
<rect x="20" y="25" width="5.3" height="5.3" fill="#fbd225"/>
<rect x="25" y="25" width="5.3" height="5.3" fill="#fbd125"/>
<rect x="30" y="25" width="5.3" height="5.3" fill="#fccf25"/>
<rect x="35" y="25" width="5.3" height="5.3" fill="#fcce25"/>
<rect x="40" y="25" width="5.3" height="5.3" fill="#fccd26"/>
<rect x="45" y="25" width="5.3" height="5.3" fill="#fccc26"/>
<rect x="50" y="25" width="5.3" height="5.3" fill="#fcca27"/>
<rect x="55" y="25" width="5.3" height="5.3" fill="#fcc927"/>
<rect x="60" y="25" width="5.3" height="5.3" fill="#fcc828"/>
<rect x="65" y="25" width="5.3" height="5.3" fill="#fcc728"/>
<rect x="70" y="25" width="5.3" height="5.3" fill="#fcc629"/>
<rect x="75" y="25" width="5.3" height="5.3" fill="#fcc429"/>
<rect x="80" y="25" width="5.3" height="5.3" fill="#fcc32a"/>
<rect x="85" y="25" width="5.3" height="5.3" fill="#fcc22a"/>
<rect x="90" y="25" width="5.3" height="5.3" fill="#fcc12b"/>
<rect x="95" y="25" width="5.3" height="5.3" fill="#fcc02b"/>
<rect x="100" y="25" width="5.3" height="5.3" fill="#fcbe2c"/>
<rect x="105" y="25" width="5.3" height="5.3" fill="#fcbd2c"/>
<rect x="110" y="25" width="5.3" height="5.3" fill="#fcbc2d"/>
<rect x="115" y="25" width="5.3" height="5.3" fill="#fcbb2d"/>
<rect x="120" y="25" width="5.3" height="5.3" fill="#fcb92e"/>
<rect x="125" y="25" width="5.3" height="5.3" fill="#fcb72f"/>
<rect x="130" y="25" width="5.3" height="5.3" fill="#fcb231"/>
<rect x="135" y="25" width="5.3" height="5.3" fill="#fca636"/>
<rect x="140" y="25" width="5.3" height="5.3" fill="#f69342"/>
<rect x="145" y="25" width="5.3" height="5.3" fill="#f07f4e"/>
<rect x="150" y="25" width="5.3" height="5.3" fill="#e66e5b"/>
<rect x="155" y="25" width="5.3" height="5.3" fill="#de5f66"/>
<rect x="160" y="25" width="5.3" height="5.3" fill="#d45270"/>
<rect x="165" y="25" width="5.3" height="5.3" fill="#c53f7e"/>
<rect x="170" y="25" width="5.3" height="5.3" fill="#b22b8f"/>
<rect x="175" y="25" width="5.3" height="5.3" fill="#a31e98"/>
<rect x="180" y="25" width="5.3" height="5.3" fill="#a01b9a"/>
<rect x="-5" y="30" width="5.3" height="5.3" fill="#fad624"/>
<rect x="0" y="30" width="5.3" height="5.3" fill="#fad524"/>
<rect x="5" y="30" width="5.3" height="5.3" fill="#fad324"/>
<rect x="10" y="30" width="5.3" height="5.3" fill="#fbd225"/>
<rect x="15" y="30" width="5.3" height="5.3" fill="#fbd125"/>
<rect x="20" y="30" width="5.3" height="5.3" fill="#fcd025"/>
<rect x="25" y="30" width="5.3" height="5.3" fill="#fcce25"/>
<rect x="30" y="30" width="5.3" height="5.3" fill="#fccd25"/>
<rect x="35" y="30" width="5.3" height="5.3" fill="#fccc26"/>
<rect x="40" y="30" width="5.3" height="5.3" fill="#fccb26"/>
<rect x="45" y="30" width="5.3" height="5.3" fill="#fcca27"/>
<rect x="50" y="30" width="5.3" height="5.3" fill="#fcc827"/>
<rect x="55" y="30" width="5.3" height="5.3" fill="#fcc728"/>
<rect x="60" y="30" width="5.3" height="5.3" fill="#fcc628"/>
<rect x="65" y="30" width="5.3" height="5.3" fill="#fcc529"/>
<rect x="70" y="30" width="5.3" height="5.3" fill="#fcc429"/>
<rect x="75" y="30" width="5.3" height="5.3" fill="#fcc22a"/>
<rect x="80" y="30" width="5.3" height="5.3" fill="#fcc12a"/>
<rect x="85" y="30" width="5.3" height="5.3" fill="#fcc02b"/>
<rect x="90" y="30" width="5.3" height="5.3" fill="#fcbf2b"/>
<rect x="95" y="30" width="5.3" height="5.3" fill="#fcbe2c"/>
<rect x="100" y="30" width="5.3" height="5.3" fill="#fcbc2c"/>
<rect x="105" y="30" width="5.3" height="5.3" fill="#fcbb2d"/>
<rect x="110" y="30" width="5.3" height="5.3" fill="#fcba2e"/>
<rect x="115" y="30" width="5.3" height="5.3" fill="#fcb82e"/>
<rect x="120" y="30" width="5.3" height="5.3" fill="#fcb62f"/>
<rect x="125" y="30" width="5.3" height="5.3" fill="#fcb231"/>
<rect x="130" y="30" width="5.3" height="5.3" fill="#fca935"/>
<rect x="135" y="30" width="5.3" height="5.3" fill="#f8973f"/>
<rect x="140" y="30" width="5.3" height="5.3" fill="#f0804e"/>
<rect x="145" y="30" width="5.3" height="5.3" fill="#e56c5c"/>
<rect x="150" y="30" width="5.3" height="5.3" fill="#da5a6a"/>
<rect x="155" y="30" width="5.3" height="5.3" fill="#d7566c"/>
<rect x="160" y="30" width="5.3" height="5.3" fill="#ce4976"/>
<rect x="165" y="30" width="5.3" height="5.3" fill="#be3885"/>
<rect x="170" y="30" width="5.3" height="5.3" fill="#aa2494"/>
<rect x="175" y="30" width="5.3" height="5.3" fill="#9c189c"/>
<rect x="180" y="30" width="5.3" height="5.3" fill="#99159e"/>
<rect x="-5" y="35" width="5.3" height="5.3" fill="#fad424"/>
<rect x="0" y="35" width="5.3" height="5.3" fill="#fbd325"/>
<rect x="5" y="35" width="5.3" height="5.3" fill="#fbd125"/>
<rect x="10" y="35" width="5.3" height="5.3" fill="#fbd025"/>
<rect x="15" y="35" width="5.3" height="5.3" fill="#fccf25"/>
<rect x="20" y="35" width="5.3" height="5.3" fill="#fcce25"/>
<rect x="25" y="35" width="5.3" height="5.3" fill="#fccc26"/>
<rect x="30" y="35" width="5.3" height="5.3" fill="#fccb26"/>
<rect x="35" y="35" width="5.3" height="5.3" fill="#fcca27"/>
<rect x="40" y="35" width="5.3" height="5.3" fill="#fcc927"/>
<rect x="45" y="35" width="5.3" height="5.3" fill="#fcc828"/>
<rect x="50" y="35" width="5.3" height="5.3" fill="#fcc628"/>
<rect x="55" y="35" width="5.3" height="5.3" fill="#fcc529"/>
<rect x="60" y="35" width="5.3" height="5.3" fill="#fcc429"/>
<rect x="65" y="35" width="5.3" height="5.3" fill="#fcc32a"/>
<rect x="70" y="35" width="5.3" height="5.3" fill="#fcc22a"/>
<rect x="75" y="35" width="5.3" height="5.3" fill="#fcc02b"/>
<rect x="80" y="35" width="5.3" height="5.3" fill="#fcbf2b"/>
<rect x="85" y="35" width="5.3" height="5.3" fill="#fcbe2c"/>
<rect x="90" y="35" width="5.3" height="5.3" fill="#fcbd2c"/>
<rect x="95" y="35" width="5.3" height="5.3" fill="#fcbc2d"/>
<rect x="100" y="35" width="5.3" height="5.3" fill="#fcba2d"/>
<rect x="105" y="35" width="5.3" height="5.3" fill="#fcb92e"/>
<rect x="110" y="35" width="5.3" height="5.3" fill="#fcb82e"/>
<rect x="115" y="35" width="5.3" height="5.3" fill="#fcb62f"/>
<rect x="120" y="35" width="5.3" height="5.3" fill="#fcb231"/>
<rect x="125" y="35" width="5.3" height="5.3" fill="#fcab34"/>
<rect x="130" y="35" width="5.3" height="5.3" fill="#f99c3c"/>
<rect x="135" y="35" width="5.3" height="5.3" fill="#f2854a"/>
<rect x="140" y="35" width="5.3" height="5.3" fill="#e76f5a"/>
<rect x="145" y="35" width="5.3" height="5.3" fill="#dd5f66"/>
<rect x="150" y="35" width="5.3" height="5.3" fill="#d35171"/>
<rect x="155" y="35" width="5.3" height="5.3" fill="#c9447b"/>
<rect x="160" y="35" width="5.3" height="5.3" fill="#c7427c"/>
<rect x="165" y="35" width="5.3" height="5.3" fill="#b7318a"/>
<rect x="170" y="35" width="5.3" height="5.3" fill="#a21d99"/>
<rect x="175" y="35" width="5.3" height="5.3" fill="#9512a0"/>
<rect x="180" y="35" width="5.3" height="5.3" fill="#9310a2"/>
<rect x="-5" y="40" width="5.3" height="5.3" fill="#fbd225"/>
<rect x="0" y="40" width="5.3" height="5.3" fill="#fbd025"/>
<rect x="5" y="40" width="5.3" height="5.3" fill="#fccf25"/>
<rect x="10" y="40" width="5.3" height="5.3" fill="#fcce25"/>
<rect x="15" y="40" width="5.3" height="5.3" fill="#fccd26"/>
<rect x="20" y="40" width="5.3" height="5.3" fill="#fccb26"/>
<rect x="25" y="40" width="5.3" height="5.3" fill="#fcca27"/>
<rect x="30" y="40" width="5.3" height="5.3" fill="#fcc927"/>
<rect x="35" y="40" width="5.3" height="5.3" fill="#fcc828"/>
<rect x="40" y="40" width="5.3" height="5.3" fill="#fcc728"/>
<rect x="45" y="40" width="5.3" height="5.3" fill="#fcc629"/>
<rect x="50" y="40" width="5.3" height="5.3" fill="#fcc429"/>
<rect x="55" y="40" width="5.3" height="5.3" fill="#fcc32a"/>
<rect x="60" y="40" width="5.3" height="5.3" fill="#fcc22a"/>
<rect x="65" y="40" width="5.3" height="5.3" fill="#fcc12b"/>
<rect x="70" y="40" width="5.3" height="5.3" fill="#fcc02b"/>
<rect x="75" y="40" width="5.3" height="5.3" fill="#fcbe2c"/>
<rect x="80" y="40" width="5.3" height="5.3" fill="#fcbd2c"/>
<rect x="85" y="40" width="5.3" height="5.3" fill="#fcbc2d"/>
<rect x="90" y="40" width="5.3" height="5.3" fill="#fcbb2d"/>
<rect x="95" y="40" width="5.3" height="5.3" fill="#fcba2e"/>
<rect x="100" y="40" width="5.3" height="5.3" fill="#fcb82e"/>
<rect x="105" y="40" width="5.3" height="5.3" fill="#fcb72f"/>
<rect x="110" y="40" width="5.3" height="5.3" fill="#fcb530"/>
<rect x="115" y="40" width="5.3" height="5.3" fill="#fcb231"/>
<rect x="120" y="40" width="5.3" height="5.3" fill="#fcac33"/>
<rect x="125" y="40" width="5.3" height="5.3" fill="#faa03a"/>
<rect x="130" y="40" width="5.3" height="5.3" fill="#f48c46"/>
<rect x="135" y="40" width="5.3" height="5.3" fill="#ea7556"/>
<rect x="140" y="40" width="5.3" height="5.3" fill="#e06363"/>
<rect x="145" y="40" width="5.3" height="5.3" fill="#d6556d"/>
<rect x="150" y="40" width="5.3" height="5.3" fill="#cd4977"/>
<rect x="155" y="40" width="5.3" height="5.3" fill="#c23d81"/>
<rect x="160" y="40" width="5.3" height="5.3" fill="#b7308b"/>
<rect x="165" y="40" width="5.3" height="5.3" fill="#a52097"/>
<rect x="170" y="40" width="5.3" height="5.3" fill="#9b179d"/>
<rect x="175" y="40" width="5.3" height="5.3" fill="#8e0da4"/>
<rect x="180" y="40" width="5.3" height="5.3" fill="#8c0ca4"/>
<rect x="-5" y="45" width="5.3" height="5.3" fill="#fcd025"/>
<rect x="0" y="45" width="5.3" height="5.3" fill="#fcce25"/>
<rect x="5" y="45" width="5.3" height="5.3" fill="#fccd25"/>
<rect x="10" y="45" width="5.3" height="5.3" fill="#fccc26"/>
<rect x="15" y="45" width="5.3" height="5.3" fill="#fccb26"/>
<rect x="20" y="45" width="5.3" height="5.3" fill="#fcc927"/>
<rect x="25" y="45" width="5.3" height="5.3" fill="#fcc827"/>
<rect x="30" y="45" width="5.3" height="5.3" fill="#fcc728"/>
<rect x="35" y="45" width="5.3" height="5.3" fill="#fcc628"/>
<rect x="40" y="45" width="5.3" height="5.3" fill="#fcc529"/>
<rect x="45" y="45" width="5.3" height="5.3" fill="#fcc429"/>
<rect x="50" y="45" width="5.3" height="5.3" fill="#fcc22a"/>
<rect x="55" y="45" width="5.3" height="5.3" fill="#fcc12a"/>
<rect x="60" y="45" width="5.3" height="5.3" fill="#fcc02b"/>
<rect x="65" y="45" width="5.3" height="5.3" fill="#fcbf2b"/>
<rect x="70" y="45" width="5.3" height="5.3" fill="#fcbe2c"/>
<rect x="75" y="45" width="5.3" height="5.3" fill="#fcbc2c"/>
<rect x="80" y="45" width="5.3" height="5.3" fill="#fcbb2d"/>
<rect x="85" y="45" width="5.3" height="5.3" fill="#fcba2e"/>
<rect x="90" y="45" width="5.3" height="5.3" fill="#fcb92e"/>
<rect x="95" y="45" width="5.3" height="5.3" fill="#fcb82f"/>
<rect x="100" y="45" width="5.3" height="5.3" fill="#fcb62f"/>
<rect x="105" y="45" width="5.3" height="5.3" fill="#fcb530"/>
<rect x="110" y="45" width="5.3" height="5.3" fill="#fcb231"/>
<rect x="115" y="45" width="5.3" height="5.3" fill="#fcad33"/>
<rect x="120" y="45" width="5.3" height="5.3" fill="#fba338"/>
<rect x="125" y="45" width="5.3" height="5.3" fill="#f69242"/>
<rect x="130" y="45" width="5.3" height="5.3" fill="#ef7d50"/>
<rect x="135" y="45" width="5.3" height="5.3" fill="#e4695e"/>
<rect x="140" y="45" width="5.3" height="5.3" fill="#d95a6a"/>
<rect x="145" y="45" width="5.3" height="5.3" fill="#d04d74"/>
<rect x="150" y="45" width="5.3" height="5.3" fill="#c6417d"/>
<rect x="155" y="45" width="5.3" height="5.3" fill="#bc3686"/>
<rect x="160" y="45" width="5.3" height="5.3" fill="#b12a90"/>
<rect x="165" y="45" width="5.3" height="5.3" fill="#9e1a9b"/>
<rect x="170" y="45" width="5.3" height="5.3" fill="#8b0ca4"/>
<rect x="175" y="45" width="5.3" height="5.3" fill="#8108a5"/>
<rect x="180" y="45" width="5.3" height="5.3" fill="#860aa5"/>
<rect x="-5" y="50" width="5.3" height="5.3" fill="#fccd25"/>
<rect x="0" y="50" width="5.3" height="5.3" fill="#fccc26"/>
<rect x="5" y="50" width="5.3" height="5.3" fill="#fccb26"/>
<rect x="10" y="50" width="5.3" height="5.3" fill="#fcca27"/>
<rect x="15" y="50" width="5.3" height="5.3" fill="#fcc827"/>
<rect x="20" y="50" width="5.3" height="5.3" fill="#fcc728"/>
<rect x="25" y="50" width="5.3" height="5.3" fill="#fcc628"/>
<rect x="30" y="50" width="5.3" height="5.3" fill="#fcc529"/>
<rect x="35" y="50" width="5.3" height="5.3" fill="#fcc429"/>
<rect x="40" y="50" width="5.3" height="5.3" fill="#fcc32a"/>
<rect x="45" y="50" width="5.3" height="5.3" fill="#fcc22a"/>
<rect x="50" y="50" width="5.3" height="5.3" fill="#fcc02b"/>
<rect x="55" y="50" width="5.3" height="5.3" fill="#fcbf2b"/>
<rect x="60" y="50" width="5.3" height="5.3" fill="#fcbe2c"/>
<rect x="65" y="50" width="5.3" height="5.3" fill="#fcbd2c"/>
<rect x="70" y="50" width="5.3" height="5.3" fill="#fcbc2d"/>
<rect x="75" y="50" width="5.3" height="5.3" fill="#fcba2d"/>
<rect x="80" y="50" width="5.3" height="5.3" fill="#fcb92e"/>
<rect x="85" y="50" width="5.3" height="5.3" fill="#fcb82e"/>
<rect x="90" y="50" width="5.3" height="5.3" fill="#fcb72f"/>
<rect x="95" y="50" width="5.3" height="5.3" fill="#fcb52f"/>
<rect x="100" y="50" width="5.3" height="5.3" fill="#fcb430"/>
<rect x="105" y="50" width="5.3" height="5.3" fill="#fcb231"/>
<rect x="110" y="50" width="5.3" height="5.3" fill="#fcae33"/>
<rect x="115" y="50" width="5.3" height="5.3" fill="#fca636"/>
<rect x="120" y="50" width="5.3" height="5.3" fill="#f8973f"/>
<rect x="125" y="50" width="5.3" height="5.3" fill="#f2844b"/>
<rect x="130" y="50" width="5.3" height="5.3" fill="#e97357"/>
<rect x="135" y="50" width="5.3" height="5.3" fill="#df6164"/>
<rect x="140" y="50" width="5.3" height="5.3" fill="#d4526f"/>
<rect x="145" y="50" width="5.3" height="5.3" fill="#ca457a"/>
<rect x="150" y="50" width="5.3" height="5.3" fill="#c03a83"/>
<rect x="155" y="50" width="5.3" height="5.3" fill="#b52f8c"/>
<rect x="160" y="50" width="5.3" height="5.3" fill="#a92395"/>
<rect x="165" y="50" width="5.3" height="5.3" fill="#97149f"/>
<rect x="170" y="50" width="5.3" height="5.3" fill="#850aa5"/>
<rect x="175" y="50" width="10.3" height="5.3" fill="#7c06a6"/>
<rect x="-5" y="55" width="5.3" height="5.3" fill="#fccb26"/>
<rect x="0" y="55" width="5.3" height="5.3" fill="#fcca27"/>
<rect x="5" y="55" width="5.3" height="5.3" fill="#fcc927"/>
<rect x="10" y="55" width="5.3" height="5.3" fill="#fcc828"/>
<rect x="15" y="55" width="5.3" height="5.3" fill="#fcc628"/>
<rect x="20" y="55" width="5.3" height="5.3" fill="#fcc529"/>
<rect x="25" y="55" width="5.3" height="5.3" fill="#fcc429"/>
<rect x="30" y="55" width="5.3" height="5.3" fill="#fcc32a"/>
<rect x="35" y="55" width="5.3" height="5.3" fill="#fcc22a"/>
<rect x="40" y="55" width="5.3" height="5.3" fill="#fcc12b"/>
<rect x="45" y="55" width="5.3" height="5.3" fill="#fcc02b"/>
<rect x="50" y="55" width="5.3" height="5.3" fill="#fcbe2c"/>
<rect x="55" y="55" width="5.3" height="5.3" fill="#fcbd2c"/>
<rect x="60" y="55" width="5.3" height="5.3" fill="#fcbc2d"/>
<rect x="65" y="55" width="5.3" height="5.3" fill="#fcbb2d"/>
<rect x="70" y="55" width="5.3" height="5.3" fill="#fcba2e"/>
<rect x="75" y="55" width="5.3" height="5.3" fill="#fcb82e"/>
<rect x="80" y="55" width="5.3" height="5.3" fill="#fcb72f"/>
<rect x="85" y="55" width="5.3" height="5.3" fill="#fcb62f"/>
<rect x="90" y="55" width="5.3" height="5.3" fill="#fcb530"/>
<rect x="95" y="55" width="5.3" height="5.3" fill="#fcb330"/>
<rect x="100" y="55" width="5.3" height="5.3" fill="#fcb131"/>
<rect x="105" y="55" width="5.3" height="5.3" fill="#fcae33"/>
<rect x="110" y="55" width="5.3" height="5.3" fill="#fca835"/>
<rect x="115" y="55" width="5.3" height="5.3" fill="#f99c3c"/>
<rect x="120" y="55" width="5.3" height="5.3" fill="#f48a47"/>
<rect x="125" y="55" width="5.3" height="5.3" fill="#ed7a52"/>
<rect x="130" y="55" width="5.3" height="5.3" fill="#e56b5d"/>
<rect x="135" y="55" width="5.3" height="5.3" fill="#da5b69"/>
<rect x="140" y="55" width="5.3" height="5.3" fill="#cf4c74"/>
<rect x="145" y="55" width="5.3" height="5.3" fill="#c33d80"/>
<rect x="150" y="55" width="5.3" height="5.3" fill="#b93389"/>
<rect x="155" y="55" width="5.3" height="5.3" fill="#ae2892"/>
<rect x="160" y="55" width="5.3" height="5.3" fill="#a11d99"/>
<rect x="165" y="55" width="5.3" height="5.3" fill="#910ea3"/>
<rect x="170" y="55" width="5.3" height="5.3" fill="#7f07a6"/>
<rect x="175" y="55" width="10.3" height="5.3" fill="#7604a7"/>
<rect x="-5" y="60" width="5.3" height="5.3" fill="#fcc927"/>
<rect x="0" y="60" width="5.3" height="5.3" fill="#fcc827"/>
<rect x="5" y="60" width="5.3" height="5.3" fill="#fcc728"/>
<rect x="10" y="60" width="5.3" height="5.3" fill="#fcc629"/>
<rect x="15" y="60" width="5.3" height="5.3" fill="#fcc429"/>
<rect x="20" y="60" width="5.3" height="5.3" fill="#fcc32a"/>
<rect x="25" y="60" width="5.3" height="5.3" fill="#fcc22a"/>
<rect x="30" y="60" width="10.3" height="5.3" fill="#fcc02b"/>
<rect x="40" y="60" width="5.3" height="5.3" fill="#fcbf2b"/>
<rect x="45" y="60" width="5.3" height="5.3" fill="#fcbe2c"/>
<rect x="50" y="60" width="5.3" height="5.3" fill="#fcbc2c"/>
<rect x="55" y="60" width="5.3" height="5.3" fill="#fcbb2d"/>
<rect x="60" y="60" width="5.3" height="5.3" fill="#fcba2e"/>
<rect x="65" y="60" width="5.3" height="5.3" fill="#fcb92e"/>
<rect x="70" y="60" width="5.3" height="5.3" fill="#fcb82f"/>
<rect x="75" y="60" width="5.3" height="5.3" fill="#fcb62f"/>
<rect x="80" y="60" width="5.3" height="5.3" fill="#fcb530"/>
<rect x="85" y="60" width="5.3" height="5.3" fill="#fcb430"/>
<rect x="90" y="60" width="5.3" height="5.3" fill="#fcb331"/>
<rect x="95" y="60" width="5.3" height="5.3" fill="#fcb131"/>
<rect x="100" y="60" width="5.3" height="5.3" fill="#fcae33"/>
<rect x="105" y="60" width="5.3" height="5.3" fill="#fca835"/>
<rect x="110" y="60" width="5.3" height="5.3" fill="#fa9f3a"/>
<rect x="115" y="60" width="5.3" height="5.3" fill="#f69043"/>
<rect x="120" y="60" width="5.3" height="5.3" fill="#f0804e"/>
<rect x="125" y="60" width="5.3" height="5.3" fill="#e97357"/>
<rect x="130" y="60" width="5.3" height="5.3" fill="#e26660"/>
<rect x="135" y="60" width="5.3" height="5.3" fill="#d7566d"/>
<rect x="140" y="60" width="5.3" height="5.3" fill="#cb4679"/>
<rect x="145" y="60" width="5.3" height="5.3" fill="#bd3785"/>
<rect x="150" y="60" width="5.3" height="5.3" fill="#b32c8e"/>
<rect x="155" y="60" width="5.3" height="5.3" fill="#a72296"/>
<rect x="160" y="60" width="5.3" height="5.3" fill="#9a179d"/>
<rect x="165" y="60" width="5.3" height="5.3" fill="#8a0ba5"/>
<rect x="170" y="60" width="5.3" height="5.3" fill="#7905a6"/>
<rect x="175" y="60" width="10.3" height="5.3" fill="#7102a7"/>
<rect x="-5" y="65" width="5.3" height="5.3" fill="#fcc728"/>
<rect x="0" y="65" width="5.3" height="5.3" fill="#fcc628"/>
<rect x="5" y="65" width="5.3" height="5.3" fill="#fcc529"/>
<rect x="10" y="65" width="5.3" height="5.3" fill="#fcc429"/>
<rect x="15" y="65" width="5.3" height="5.3" fill="#fcc22a"/>
<rect x="20" y="65" width="5.3" height="5.3" fill="#fcc12b"/>
<rect x="25" y="65" width="5.3" height="5.3" fill="#fcc02b"/>
<rect x="30" y="65" width="5.3" height="5.3" fill="#fcbe2c"/>
<rect x="35" y="65" width="10.3" height="5.3" fill="#fcbd2c"/>
<rect x="45" y="65" width="5.3" height="5.3" fill="#fcbc2d"/>
<rect x="50" y="65" width="5.3" height="5.3" fill="#fcba2d"/>
<rect x="55" y="65" width="5.3" height="5.3" fill="#fcb92e"/>
<rect x="60" y="65" width="5.3" height="5.3" fill="#fcb82e"/>
<rect x="65" y="65" width="5.3" height="5.3" fill="#fcb72f"/>
<rect x="70" y="65" width="5.3" height="5.3" fill="#fcb62f"/>
<rect x="75" y="65" width="5.3" height="5.3" fill="#fcb430"/>
<rect x="80" y="65" width="5.3" height="5.3" fill="#fcb330"/>
<rect x="85" y="65" width="5.3" height="5.3" fill="#fcb231"/>
<rect x="90" y="65" width="5.3" height="5.3" fill="#fcb032"/>
<rect x="95" y="65" width="5.3" height="5.3" fill="#fcad33"/>
<rect x="100" y="65" width="5.3" height="5.3" fill="#fca935"/>
<rect x="105" y="65" width="5.3" height="5.3" fill="#faa039"/>
<rect x="110" y="65" width="5.3" height="5.3" fill="#f79441"/>
<rect x="115" y="65" width="5.3" height="5.3" fill="#f2854a"/>
<rect x="120" y="65" width="5.3" height="5.3" fill="#eb7854"/>
<rect x="125" y="65" width="5.3" height="5.3" fill="#e66d5b"/>
<rect x="130" y="65" width="5.3" height="5.3" fill="#e06264"/>
<rect x="135" y="65" width="5.3" height="5.3" fill="#d4536f"/>
<rect x="140" y="65" width="5.3" height="5.3" fill="#c9437b"/>
<rect x="145" y="65" width="5.3" height="5.3" fill="#bb3587"/>
<rect x="150" y="65" width="5.3" height="5.3" fill="#b02a90"/>
<rect x="155" y="65" width="5.3" height="5.3" fill="#a31e98"/>
<rect x="160" y="65" width="5.3" height="5.3" fill="#9613a0"/>
<rect x="165" y="65" width="5.3" height="5.3" fill="#860aa5"/>
<rect x="170" y="65" width="5.3" height="5.3" fill="#7504a7"/>
<rect x="175" y="65" width="10.3" height="5.3" fill="#6c01a8"/>
<rect x="-5" y="70" width="5.3" height="5.3" fill="#fcc529"/>
<rect x="0" y="70" width="5.3" height="5.3" fill="#fcc429"/>
<rect x="5" y="70" width="5.3" height="5.3" fill="#fcc32a"/>
<rect x="10" y="70" width="5.3" height="5.3" fill="#fcc12a"/>
<rect x="15" y="70" width="5.3" height="5.3" fill="#fcc02b"/>
<rect x="20" y="70" width="5.3" height="5.3" fill="#fcbf2b"/>
<rect x="25" y="70" width="5.3" height="5.3" fill="#fcbd2c"/>
<rect x="30" y="70" width="5.3" height="5.3" fill="#fcbc2d"/>
<rect x="35" y="70" width="10.3" height="5.3" fill="#fcbb2d"/>
<rect x="45" y="70" width="5.3" height="5.3" fill="#fcba2e"/>
<rect x="50" y="70" width="5.3" height="5.3" fill="#fcb82e"/>
<rect x="55" y="70" width="5.3" height="5.3" fill="#fcb72f"/>
<rect x="60" y="70" width="5.3" height="5.3" fill="#fcb62f"/>
<rect x="65" y="70" width="5.3" height="5.3" fill="#fcb530"/>
<rect x="70" y="70" width="5.3" height="5.3" fill="#fcb430"/>
<rect x="75" y="70" width="5.3" height="5.3" fill="#fcb231"/>
<rect x="80" y="70" width="5.3" height="5.3" fill="#fcb131"/>
<rect x="85" y="70" width="5.3" height="5.3" fill="#fcaf32"/>
<rect x="90" y="70" width="5.3" height="5.3" fill="#fcad33"/>
<rect x="95" y="70" width="5.3" height="5.3" fill="#fca835"/>
<rect x="100" y="70" width="5.3" height="5.3" fill="#faa039"/>
<rect x="105" y="70" width="5.3" height="5.3" fill="#f79541"/>
<rect x="110" y="70" width="5.3" height="5.3" fill="#f48948"/>
<rect x="115" y="70" width="5.3" height="5.3" fill="#ee7d50"/>
<rect x="120" y="70" width="5.3" height="5.3" fill="#e87258"/>
<rect x="125" y="70" width="5.3" height="5.3" fill="#e4695f"/>
<rect x="130" y="70" width="5.3" height="5.3" fill="#dd5e66"/>
<rect x="135" y="70" width="5.3" height="5.3" fill="#d25071"/>
<rect x="140" y="70" width="5.3" height="5.3" fill="#c6417d"/>
<rect x="145" y="70" width="5.3" height="5.3" fill="#b93389"/>
<rect x="150" y="70" width="5.3" height="5.3" fill="#ad2792"/>
<rect x="155" y="70" width="5.3" height="5.3" fill="#a01b9a"/>
<rect x="160" y="70" width="5.3" height="5.3" fill="#920fa2"/>
<rect x="165" y="70" width="5.3" height="5.3" fill="#8108a5"/>
<rect x="170" y="70" width="5.3" height="5.3" fill="#7102a7"/>
<rect x="175" y="70" width="10.3" height="5.3" fill="#6800a7"/>
<rect x="-5" y="75" width="5.3" height="5.3" fill="#fcc32a"/>
<rect x="0" y="75" width="5.3" height="5.3" fill="#fcc22a"/>
<rect x="5" y="75" width="5.3" height="5.3" fill="#fcc12b"/>
<rect x="10" y="75" width="5.3" height="5.3" fill="#fcbf2b"/>
<rect x="15" y="75" width="5.3" height="5.3" fill="#fcbe2c"/>
<rect x="20" y="75" width="5.3" height="5.3" fill="#fcbd2c"/>
<rect x="25" y="75" width="5.3" height="5.3" fill="#fcbb2d"/>
<rect x="30" y="75" width="5.3" height="5.3" fill="#fcba2e"/>
<rect x="35" y="75" width="5.3" height="5.3" fill="#fcb92e"/>
<rect x="40" y="75" width="5.3" height="5.3" fill="#fcb72f"/>
<rect x="45" y="75" width="5.3" height="5.3" fill="#fcb82f"/>
<rect x="50" y="75" width="5.3" height="5.3" fill="#fcb62f"/>
<rect x="55" y="75" width="5.3" height="5.3" fill="#fcb530"/>
<rect x="60" y="75" width="5.3" height="5.3" fill="#fcb430"/>
<rect x="65" y="75" width="5.3" height="5.3" fill="#fcb331"/>
<rect x="70" y="75" width="5.3" height="5.3" fill="#fcb231"/>
<rect x="75" y="75" width="5.3" height="5.3" fill="#fcb032"/>
<rect x="80" y="75" width="5.3" height="5.3" fill="#fcaf32"/>
<rect x="85" y="75" width="5.3" height="5.3" fill="#fcac33"/>
<rect x="90" y="75" width="5.3" height="5.3" fill="#fca835"/>
<rect x="95" y="75" width="5.3" height="5.3" fill="#faa139"/>
<rect x="100" y="75" width="5.3" height="5.3" fill="#f79540"/>
<rect x="105" y="75" width="5.3" height="5.3" fill="#f48948"/>
<rect x="110" y="75" width="5.3" height="5.3" fill="#f0814d"/>
<rect x="115" y="75" width="5.3" height="5.3" fill="#eb7754"/>
<rect x="120" y="75" width="5.3" height="5.3" fill="#e66e5b"/>
<rect x="125" y="75" width="5.3" height="5.3" fill="#e26561"/>
<rect x="130" y="75" width="5.3" height="5.3" fill="#db5b69"/>
<rect x="135" y="75" width="5.3" height="5.3" fill="#d04d74"/>
<rect x="140" y="75" width="5.3" height="5.3" fill="#c43e7f"/>
<rect x="145" y="75" width="5.3" height="5.3" fill="#b7308b"/>
<rect x="150" y="75" width="5.3" height="5.3" fill="#aa2494"/>
<rect x="155" y="75" width="5.3" height="5.3" fill="#9c189c"/>
<rect x="160" y="75" width="5.3" height="5.3" fill="#8d0ca4"/>
<rect x="165" y="75" width="5.3" height="5.3" fill="#7d07a6"/>
<rect x="170" y="75" width="5.3" height="5.3" fill="#6c01a8"/>
<rect x="175" y="75" width="10.3" height="5.3" fill="#6301a6"/>
<rect x="-5" y="80" width="5.3" height="5.3" fill="#fcc12a"/>
<rect x="0" y="80" width="5.3" height="5.3" fill="#fcc02b"/>
<rect x="5" y="80" width="5.3" height="5.3" fill="#fcbf2b"/>
<rect x="10" y="80" width="5.3" height="5.3" fill="#fcbd2c"/>
<rect x="15" y="80" width="5.3" height="5.3" fill="#fcbc2d"/>
<rect x="20" y="80" width="5.3" height="5.3" fill="#fcbb2d"/>
<rect x="25" y="80" width="5.3" height="5.3" fill="#fcb92e"/>
<rect x="30" y="80" width="5.3" height="5.3" fill="#fcb82e"/>
<rect x="35" y="80" width="5.3" height="5.3" fill="#fcb62f"/>
<rect x="40" y="80" width="5.3" height="5.3" fill="#fcb530"/>
<rect x="45" y="80" width="10.3" height="5.3" fill="#fcb430"/>
<rect x="55" y="80" width="5.3" height="5.3" fill="#fcb330"/>
<rect x="60" y="80" width="5.3" height="5.3" fill="#fcb231"/>
<rect x="65" y="80" width="5.3" height="5.3" fill="#fcb131"/>
<rect x="70" y="80" width="5.3" height="5.3" fill="#fcaf32"/>
<rect x="75" y="80" width="5.3" height="5.3" fill="#fcae33"/>
<rect x="80" y="80" width="5.3" height="5.3" fill="#fcab34"/>
<rect x="85" y="80" width="5.3" height="5.3" fill="#fca735"/>
<rect x="90" y="80" width="5.3" height="5.3" fill="#faa139"/>
<rect x="95" y="80" width="5.3" height="5.3" fill="#f79740"/>
<rect x="100" y="80" width="5.3" height="5.3" fill="#f48a47"/>
<rect x="105" y="80" width="5.3" height="5.3" fill="#f0814d"/>
<rect x="110" y="80" width="5.3" height="5.3" fill="#ed7b51"/>
<rect x="115" y="80" width="5.3" height="5.3" fill="#e97357"/>
<rect x="120" y="80" width="5.3" height="5.3" fill="#e46a5e"/>
<rect x="125" y="80" width="5.3" height="5.3" fill="#df6264"/>
<rect x="130" y="80" width="5.3" height="5.3" fill="#d8586b"/>
<rect x="135" y="80" width="5.3" height="5.3" fill="#ce4a76"/>
<rect x="140" y="80" width="5.3" height="5.3" fill="#c23c81"/>
<rect x="145" y="80" width="5.3" height="5.3" fill="#b52e8d"/>
<rect x="150" y="80" width="5.3" height="5.3" fill="#a72196"/>
<rect x="155" y="80" width="5.3" height="5.3" fill="#98159f"/>
<rect x="160" y="80" width="5.3" height="5.3" fill="#890ba5"/>
<rect x="165" y="80" width="5.3" height="5.3" fill="#7805a6"/>
<rect x="170" y="80" width="5.3" height="5.3" fill="#6800a7"/>
<rect x="175" y="80" width="10.3" height="5.3" fill="#5f01a5"/>
<rect x="-5" y="85" width="5.3" height="5.3" fill="#fcbf2b"/>
<rect x="0" y="85" width="5.3" height="5.3" fill="#fcbe2c"/>
<rect x="5" y="85" width="5.3" height="5.3" fill="#fcbd2c"/>
<rect x="10" y="85" width="5.3" height="5.3" fill="#fcbb2d"/>
<rect x="15" y="85" width="5.3" height="5.3" fill="#fcba2d"/>
<rect x="20" y="85" width="5.3" height="5.3" fill="#fcb92e"/>
<rect x="25" y="85" width="5.3" height="5.3" fill="#fcb72f"/>
<rect x="30" y="85" width="5.3" height="5.3" fill="#fcb62f"/>
<rect x="35" y="85" width="5.3" height="5.3" fill="#fcb430"/>
<rect x="40" y="85" width="5.3" height="5.3" fill="#fcb331"/>
<rect x="45" y="85" width="5.3" height="5.3" fill="#fcb131"/>
<rect x="50" y="85" width="5.3" height="5.3" fill="#fcb231"/>
<rect x="55" y="85" width="5.3" height="5.3" fill="#fcb131"/>
<rect x="60" y="85" width="5.3" height="5.3" fill="#fcb032"/>
<rect x="65" y="85" width="5.3" height="5.3" fill="#fcaf32"/>
<rect x="70" y="85" width="5.3" height="5.3" fill="#fcad33"/>
<rect x="75" y="85" width="5.3" height="5.3" fill="#fcab34"/>
<rect x="80" y="85" width="5.3" height="5.3" fill="#fca736"/>
<rect x="85" y="85" width="5.3" height="5.3" fill="#faa03a"/>
<rect x="90" y="85" width="5.3" height="5.3" fill="#f8973f"/>
<rect x="95" y="85" width="5.3" height="5.3" fill="#f48c46"/>
<rect x="100" y="85" width="5.3" height="5.3" fill="#f1834c"/>
<rect x="105" y="85" width="5.3" height="5.3" fill="#ee7c51"/>
<rect x="110" y="85" width="5.3" height="5.3" fill="#eb7754"/>
<rect x="115" y="85" width="5.3" height="5.3" fill="#e7705a"/>
<rect x="120" y="85" width="5.3" height="5.3" fill="#e26760"/>
<rect x="125" y="85" width="5.3" height="5.3" fill="#dd5e66"/>
<rect x="130" y="85" width="5.3" height="5.3" fill="#d6556e"/>
<rect x="135" y="85" width="5.3" height="5.3" fill="#cc4778"/>
<rect x="140" y="85" width="5.3" height="5.3" fill="#bf3983"/>
<rect x="145" y="85" width="5.3" height="5.3" fill="#b32c8e"/>
<rect x="150" y="85" width="5.3" height="5.3" fill="#a41f98"/>
<rect x="155" y="85" width="5.3" height="5.3" fill="#9412a1"/>
<rect x="160" y="85" width="5.3" height="5.3" fill="#8409a5"/>
<rect x="165" y="85" width="5.3" height="5.3" fill="#7404a7"/>
<rect x="170" y="85" width="5.3" height="5.3" fill="#6301a6"/>
<rect x="175" y="85" width="10.3" height="5.3" fill="#5a02a4"/>
<rect x="-5" y="90" width="5.3" height="5.3" fill="#fcbd2c"/>
<rect x="0" y="90" width="5.3" height="5.3" fill="#fcbc2d"/>
<rect x="5" y="90" width="5.3" height="5.3" fill="#fcbb2d"/>
<rect x="10" y="90" width="5.3" height="5.3" fill="#fcb92e"/>
<rect x="15" y="90" width="5.3" height="5.3" fill="#fcb82e"/>
<rect x="20" y="90" width="5.3" height="5.3" fill="#fcb72f"/>
<rect x="25" y="90" width="5.3" height="5.3" fill="#fcb530"/>
<rect x="30" y="90" width="5.3" height="5.3" fill="#fcb430"/>
<rect x="35" y="90" width="5.3" height="5.3" fill="#fcb231"/>
<rect x="40" y="90" width="5.3" height="5.3" fill="#fcb131"/>
<rect x="45" y="90" width="5.3" height="5.3" fill="#fcb032"/>
<rect x="50" y="90" width="5.3" height="5.3" fill="#fcae32"/>
<rect x="55" y="90" width="5.3" height="5.3" fill="#fcaf32"/>
<rect x="60" y="90" width="5.3" height="5.3" fill="#fcae33"/>
<rect x="65" y="90" width="5.3" height="5.3" fill="#fcac33"/>
<rect x="70" y="90" width="5.3" height="5.3" fill="#fcaa34"/>
<rect x="75" y="90" width="5.3" height="5.3" fill="#fca636"/>
<rect x="80" y="90" width="5.3" height="5.3" fill="#faa03a"/>
<rect x="85" y="90" width="5.3" height="5.3" fill="#f8983f"/>
<rect x="90" y="90" width="5.3" height="5.3" fill="#f58e45"/>
<rect x="95" y="90" width="5.3" height="5.3" fill="#f2854a"/>
<rect x="100" y="90" width="5.3" height="5.3" fill="#ef7f4f"/>
<rect x="105" y="90" width="5.3" height="5.3" fill="#ec7953"/>
<rect x="110" y="90" width="5.3" height="5.3" fill="#ea7456"/>
<rect x="115" y="90" width="5.3" height="5.3" fill="#e66c5c"/>
<rect x="120" y="90" width="5.3" height="5.3" fill="#e16362"/>
<rect x="125" y="90" width="5.3" height="5.3" fill="#db5b69"/>
<rect x="130" y="90" width="5.3" height="5.3" fill="#d45270"/>
<rect x="135" y="90" width="5.3" height="5.3" fill="#c9447a"/>
<rect x="140" y="90" width="5.3" height="5.3" fill="#bd3785"/>
<rect x="145" y="90" width="5.3" height="5.3" fill="#b12a90"/>
<rect x="150" y="90" width="5.3" height="5.3" fill="#a11c9a"/>
<rect x="155" y="90" width="5.3" height="5.3" fill="#910ea3"/>
<rect x="160" y="90" width="5.3" height="5.3" fill="#8008a6"/>
<rect x="165" y="90" width="5.3" height="5.3" fill="#7002a7"/>
<rect x="170" y="90" width="5.3" height="5.3" fill="#5e01a5"/>
<rect x="175" y="90" width="10.3" height="5.3" fill="#5602a3"/>
<rect x="-5" y="95" width="5.3" height="5.3" fill="#fcbb2d"/>
<rect x="0" y="95" width="5.3" height="5.3" fill="#fcba2d"/>
<rect x="5" y="95" width="5.3" height="5.3" fill="#fcb92e"/>
<rect x="10" y="95" width="5.3" height="5.3" fill="#fcb72f"/>
<rect x="15" y="95" width="5.3" height="5.3" fill="#fcb62f"/>
<rect x="20" y="95" width="5.3" height="5.3" fill="#fcb530"/>
<rect x="25" y="95" width="5.3" height="5.3" fill="#fcb330"/>
<rect x="30" y="95" width="5.3" height="5.3" fill="#fcb231"/>
<rect x="35" y="95" width="5.3" height="5.3" fill="#fcb032"/>
<rect x="40" y="95" width="5.3" height="5.3" fill="#fcaf32"/>
<rect x="45" y="95" width="5.3" height="5.3" fill="#fcae33"/>
<rect x="50" y="95" width="10.3" height="5.3" fill="#fcad33"/>
<rect x="60" y="95" width="5.3" height="5.3" fill="#fcab34"/>
<rect x="65" y="95" width="5.3" height="5.3" fill="#fca935"/>
<rect x="70" y="95" width="5.3" height="5.3" fill="#fca636"/>
<rect x="75" y="95" width="5.3" height="5.3" fill="#faa139"/>
<rect x="80" y="95" width="5.3" height="5.3" fill="#f8993e"/>
<rect x="85" y="95" width="5.3" height="5.3" fill="#f69143"/>
<rect x="90" y="95" width="5.3" height="5.3" fill="#f48948"/>
<rect x="95" y="95" width="5.3" height="5.3" fill="#f1824c"/>
<rect x="100" y="95" width="5.3" height="5.3" fill="#ee7c51"/>
<rect x="105" y="95" width="5.3" height="5.3" fill="#eb7754"/>
<rect x="110" y="95" width="5.3" height="5.3" fill="#e87158"/>
<rect x="115" y="95" width="5.3" height="5.3" fill="#e4695e"/>
<rect x="120" y="95" width="5.3" height="5.3" fill="#de6165"/>
<rect x="125" y="95" width="5.3" height="5.3" fill="#d8586b"/>
<rect x="130" y="95" width="5.3" height="5.3" fill="#d14e72"/>
<rect x="135" y="95" width="5.3" height="5.3" fill="#c7417d"/>
<rect x="140" y="95" width="5.3" height="5.3" fill="#bb3587"/>
<rect x="145" y="95" width="5.3" height="5.3" fill="#ae2792"/>
<rect x="150" y="95" width="5.3" height="5.3" fill="#9d199c"/>
<rect x="155" y="95" width="5.3" height="5.3" fill="#8d0ca4"/>
<rect x="160" y="95" width="5.3" height="5.3" fill="#7b06a6"/>
<rect x="165" y="95" width="5.3" height="5.3" fill="#6b00a8"/>
<rect x="170" y="95" width="5.3" height="5.3" fill="#5a02a4"/>
<rect x="175" y="95" width="10.3" height="5.3" fill="#5102a1"/>
<rect x="-5" y="100" width="5.3" height="5.3" fill="#fcb92e"/>
<rect x="0" y="100" width="5.3" height="5.3" fill="#fcb82e"/>
<rect x="5" y="100" width="5.3" height="5.3" fill="#fcb72f"/>
<rect x="10" y="100" width="5.3" height="5.3" fill="#fcb52f"/>
<rect x="15" y="100" width="5.3" height="5.3" fill="#fcb430"/>
<rect x="20" y="100" width="5.3" height="5.3" fill="#fcb331"/>
<rect x="25" y="100" width="5.3" height="5.3" fill="#fcb131"/>
<rect x="30" y="100" width="5.3" height="5.3" fill="#fcb032"/>
<rect x="35" y="100" width="5.3" height="5.3" fill="#fcae32"/>
<rect x="40" y="100" width="5.3" height="5.3" fill="#fcad33"/>
<rect x="45" y="100" width="5.3" height="5.3" fill="#fcac33"/>
<rect x="50" y="100" width="5.3" height="5.3" fill="#fcab34"/>
<rect x="55" y="100" width="5.3" height="5.3" fill="#fcaa34"/>
<rect x="60" y="100" width="5.3" height="5.3" fill="#fca935"/>
<rect x="65" y="100" width="5.3" height="5.3" fill="#fca536"/>
<rect x="70" y="100" width="5.3" height="5.3" fill="#fba139"/>
<rect x="75" y="100" width="5.3" height="5.3" fill="#f99c3c"/>
<rect x="80" y="100" width="5.3" height="5.3" fill="#f79541"/>
<rect x="85" y="100" width="5.3" height="5.3" fill="#f58e45"/>
<rect x="90" y="100" width="5.3" height="5.3" fill="#f38749"/>
<rect x="95" y="100" width="5.3" height="5.3" fill="#f0814d"/>
<rect x="100" y="100" width="5.3" height="5.3" fill="#ed7b52"/>
<rect x="105" y="100" width="5.3" height="5.3" fill="#ea7556"/>
<rect x="110" y="100" width="5.3" height="5.3" fill="#e76f5a"/>
<rect x="115" y="100" width="5.3" height="5.3" fill="#e26760"/>
<rect x="120" y="100" width="5.3" height="5.3" fill="#dd5e67"/>
<rect x="125" y="100" width="5.3" height="5.3" fill="#d6556d"/>
<rect x="130" y="100" width="5.3" height="5.3" fill="#cf4b75"/>
<rect x="135" y="100" width="5.3" height="5.3" fill="#c43f7f"/>
<rect x="140" y="100" width="5.3" height="5.3" fill="#b83289"/>
<rect x="145" y="100" width="5.3" height="5.3" fill="#ab2593"/>
<rect x="150" y="100" width="5.3" height="5.3" fill="#9a179d"/>
<rect x="155" y="100" width="5.3" height="5.3" fill="#890ba5"/>
<rect x="160" y="100" width="5.3" height="5.3" fill="#7604a7"/>
<rect x="165" y="100" width="5.3" height="5.3" fill="#6700a7"/>
<rect x="170" y="100" width="5.3" height="5.3" fill="#5502a2"/>
<rect x="175" y="100" width="10.3" height="5.3" fill="#4d03a0"/>
<rect x="-5" y="105" width="5.3" height="5.3" fill="#fcb72f"/>
<rect x="0" y="105" width="5.3" height="5.3" fill="#fcb62f"/>
<rect x="5" y="105" width="5.3" height="5.3" fill="#fcb530"/>
<rect x="10" y="105" width="5.3" height="5.3" fill="#fcb330"/>
<rect x="15" y="105" width="5.3" height="5.3" fill="#fcb231"/>
<rect x="20" y="105" width="5.3" height="5.3" fill="#fcb131"/>
<rect x="25" y="105" width="5.3" height="5.3" fill="#fcaf32"/>
<rect x="30" y="105" width="5.3" height="5.3" fill="#fcae33"/>
<rect x="35" y="105" width="5.3" height="5.3" fill="#fcad33"/>
<rect x="40" y="105" width="5.3" height="5.3" fill="#fcac34"/>
<rect x="45" y="105" width="5.3" height="5.3" fill="#fcaa34"/>
<rect x="50" y="105" width="5.3" height="5.3" fill="#fca935"/>
<rect x="55" y="105" width="5.3" height="5.3" fill="#fca835"/>
<rect x="60" y="105" width="5.3" height="5.3" fill="#fca636"/>
<rect x="65" y="105" width="5.3" height="5.3" fill="#fba238"/>
<rect x="70" y="105" width="5.3" height="5.3" fill="#fa9e3b"/>
<rect x="75" y="105" width="5.3" height="5.3" fill="#f8993e"/>
<rect x="80" y="105" width="5.3" height="5.3" fill="#f69342"/>
<rect x="85" y="105" width="5.3" height="5.3" fill="#f58d46"/>
<rect x="90" y="105" width="5.3" height="5.3" fill="#f3864a"/>
<rect x="95" y="105" width="5.3" height="5.3" fill="#f0814d"/>
<rect x="100" y="105" width="5.3" height="5.3" fill="#ed7b52"/>
<rect x="105" y="105" width="5.3" height="5.3" fill="#ea7556"/>
<rect x="110" y="105" width="5.3" height="5.3" fill="#e76e5b"/>
<rect x="115" y="105" width="5.3" height="5.3" fill="#e26561"/>
<rect x="120" y="105" width="5.3" height="5.3" fill="#db5c68"/>
<rect x="125" y="105" width="5.3" height="5.3" fill="#d4536f"/>
<rect x="130" y="105" width="5.3" height="5.3" fill="#cd4877"/>
<rect x="135" y="105" width="5.3" height="5.3" fill="#c13b82"/>
<rect x="140" y="105" width="5.3" height="5.3" fill="#b52f8c"/>
<rect x="145" y="105" width="5.3" height="5.3" fill="#a82296"/>
<rect x="150" y="105" width="5.3" height="5.3" fill="#9713a0"/>
<rect x="155" y="105" width="5.3" height="5.3" fill="#8509a5"/>
<rect x="160" y="105" width="5.3" height="5.3" fill="#7303a7"/>
<rect x="165" y="105" width="5.3" height="5.3" fill="#6301a6"/>
<rect x="170" y="105" width="5.3" height="5.3" fill="#5302a2"/>
<rect x="175" y="105" width="10.3" height="5.3" fill="#4b03a0"/>
<rect x="-5" y="110" width="5.3" height="5.3" fill="#fcb52f"/>
<rect x="0" y="110" width="5.3" height="5.3" fill="#fcb430"/>
<rect x="5" y="110" width="5.3" height="5.3" fill="#fcb331"/>
<rect x="10" y="110" width="5.3" height="5.3" fill="#fcb231"/>
<rect x="15" y="110" width="5.3" height="5.3" fill="#fcb032"/>
<rect x="20" y="110" width="5.3" height="5.3" fill="#fcaf32"/>
<rect x="25" y="110" width="5.3" height="5.3" fill="#fcae33"/>
<rect x="30" y="110" width="5.3" height="5.3" fill="#fcac33"/>
<rect x="35" y="110" width="5.3" height="5.3" fill="#fcab34"/>
<rect x="40" y="110" width="5.3" height="5.3" fill="#fcaa34"/>
<rect x="45" y="110" width="5.3" height="5.3" fill="#fca935"/>
<rect x="50" y="110" width="5.3" height="5.3" fill="#fca835"/>
<rect x="55" y="110" width="5.3" height="5.3" fill="#fca736"/>
<rect x="60" y="110" width="5.3" height="5.3" fill="#fca536"/>
<rect x="65" y="110" width="5.3" height="5.3" fill="#fba238"/>
<rect x="70" y="110" width="5.3" height="5.3" fill="#fa9e3b"/>
<rect x="75" y="110" width="5.3" height="5.3" fill="#f99a3d"/>
<rect x="80" y="110" width="5.3" height="5.3" fill="#f69242"/>
<rect x="85" y="110" width="5.3" height="5.3" fill="#f48c46"/>
<rect x="90" y="110" width="5.3" height="5.3" fill="#f3864a"/>
<rect x="95" y="110" width="5.3" height="5.3" fill="#f0804e"/>
<rect x="100" y="110" width="5.3" height="5.3" fill="#ed7a52"/>
<rect x="105" y="110" width="5.3" height="5.3" fill="#ea7456"/>
<rect x="110" y="110" width="5.3" height="5.3" fill="#e66e5b"/>
<rect x="115" y="110" width="5.3" height="5.3" fill="#e16462"/>
<rect x="120" y="110" width="5.3" height="5.3" fill="#da5a6a"/>
<rect x="125" y="110" width="5.3" height="5.3" fill="#d25071"/>
<rect x="130" y="110" width="5.3" height="5.3" fill="#ca457a"/>
<rect x="135" y="110" width="5.3" height="5.3" fill="#be3884"/>
<rect x="140" y="110" width="5.3" height="5.3" fill="#b32c8f"/>
<rect x="145" y="110" width="5.3" height="5.3" fill="#a41f98"/>
<rect x="150" y="110" width="5.3" height="5.3" fill="#9310a2"/>
<rect x="155" y="110" width="5.3" height="5.3" fill="#8108a6"/>
<rect x="160" y="110" width="5.3" height="5.3" fill="#6f02a7"/>
<rect x="165" y="110" width="5.3" height="5.3" fill="#6001a5"/>
<rect x="170" y="110" width="5.3" height="5.3" fill="#5003a1"/>
<rect x="175" y="110" width="10.3" height="5.3" fill="#48039f"/>
<rect x="-5" y="115" width="5.3" height="5.3" fill="#fcb330"/>
<rect x="0" y="115" width="5.3" height="5.3" fill="#fcb231"/>
<rect x="5" y="115" width="5.3" height="5.3" fill="#fcb131"/>
<rect x="10" y="115" width="5.3" height="5.3" fill="#fcb032"/>
<rect x="15" y="115" width="5.3" height="5.3" fill="#fcae32"/>
<rect x="20" y="115" width="5.3" height="5.3" fill="#fcad33"/>
<rect x="25" y="115" width="5.3" height="5.3" fill="#fcac34"/>
<rect x="30" y="115" width="5.3" height="5.3" fill="#fcab34"/>
<rect x="35" y="115" width="5.3" height="5.3" fill="#fca935"/>
<rect x="40" y="115" width="5.3" height="5.3" fill="#fca835"/>
<rect x="45" y="115" width="5.3" height="5.3" fill="#fca735"/>
<rect x="50" y="115" width="5.3" height="5.3" fill="#fca636"/>
<rect x="55" y="115" width="5.3" height="5.3" fill="#fca536"/>
<rect x="60" y="115" width="5.3" height="5.3" fill="#fba437"/>
<rect x="65" y="115" width="5.3" height="5.3" fill="#fba239"/>
<rect x="70" y="115" width="5.3" height="5.3" fill="#fa9e3b"/>
<rect x="75" y="115" width="5.3" height="5.3" fill="#f99b3d"/>
<rect x="80" y="115" width="5.3" height="5.3" fill="#f79640"/>
<rect x="85" y="115" width="5.3" height="5.3" fill="#f69143"/>
<rect x="90" y="115" width="5.3" height="5.3" fill="#f48b47"/>
<rect x="95" y="115" width="5.3" height="5.3" fill="#f2854b"/>
<rect x="100" y="115" width="5.3" height="5.3" fill="#ed7a52"/>
<rect x="105" y="115" width="5.3" height="5.3" fill="#e97457"/>
<rect x="110" y="115" width="5.3" height="5.3" fill="#e66d5c"/>
<rect x="115" y="115" width="5.3" height="5.3" fill="#e06363"/>
<rect x="120" y="115" width="5.3" height="5.3" fill="#d8586b"/>
<rect x="125" y="115" width="5.3" height="5.3" fill="#d14d73"/>
<rect x="130" y="115" width="5.3" height="5.3" fill="#c7427c"/>
<rect x="135" y="115" width="5.3" height="5.3" fill="#bc3587"/>
<rect x="140" y="115" width="5.3" height="5.3" fill="#af2991"/>
<rect x="145" y="115" width="5.3" height="5.3" fill="#a01c9a"/>
<rect x="150" y="115" width="5.3" height="5.3" fill="#8f0da4"/>
<rect x="155" y="115" width="5.3" height="5.3" fill="#7d07a6"/>
<rect x="160" y="115" width="5.3" height="5.3" fill="#6b00a8"/>
<rect x="165" y="115" width="5.3" height="5.3" fill="#5c01a4"/>
<rect x="170" y="115" width="5.3" height="5.3" fill="#4e03a0"/>
<rect x="175" y="115" width="10.3" height="5.3" fill="#46039e"/>
<rect x="-5" y="120" width="5.3" height="5.3" fill="#fcb131"/>
<rect x="0" y="120" width="5.3" height="5.3" fill="#fcb032"/>
<rect x="5" y="120" width="5.3" height="5.3" fill="#fcaf32"/>
<rect x="10" y="120" width="5.3" height="5.3" fill="#fcae33"/>
<rect x="15" y="120" width="5.3" height="5.3" fill="#fcad33"/>
<rect x="20" y="120" width="5.3" height="5.3" fill="#fcab34"/>
<rect x="25" y="120" width="5.3" height="5.3" fill="#fcaa34"/>
<rect x="30" y="120" width="5.3" height="5.3" fill="#fca935"/>
<rect x="35" y="120" width="5.3" height="5.3" fill="#fca835"/>
<rect x="40" y="120" width="5.3" height="5.3" fill="#fca736"/>
<rect x="45" y="120" width="5.3" height="5.3" fill="#fca636"/>
<rect x="50" y="120" width="5.3" height="5.3" fill="#fca537"/>
<rect x="55" y="120" width="5.3" height="5.3" fill="#fba437"/>
<rect x="60" y="120" width="5.3" height="5.3" fill="#fba338"/>
<rect x="65" y="120" width="5.3" height="5.3" fill="#faa139"/>
<rect x="70" y="120" width="5.3" height="5.3" fill="#fa9e3b"/>
<rect x="75" y="120" width="5.3" height="5.3" fill="#f99a3d"/>
<rect x="80" y="120" width="5.3" height="5.3" fill="#f79640"/>
<rect x="85" y="120" width="5.3" height="5.3" fill="#f69143"/>
<rect x="90" y="120" width="5.3" height="5.3" fill="#f48b47"/>
<rect x="95" y="120" width="5.3" height="5.3" fill="#f2854a"/>
<rect x="100" y="120" width="5.3" height="5.3" fill="#ef7e4f"/>
<rect x="105" y="120" width="5.3" height="5.3" fill="#eb7754"/>
<rect x="110" y="120" width="5.3" height="5.3" fill="#e7705a"/>
<rect x="115" y="120" width="5.3" height="5.3" fill="#e16562"/>
<rect x="120" y="120" width="5.3" height="5.3" fill="#d9596a"/>
<rect x="125" y="120" width="5.3" height="5.3" fill="#cf4b75"/>
<rect x="130" y="120" width="5.3" height="5.3" fill="#c43f7f"/>
<rect x="135" y="120" width="5.3" height="5.3" fill="#b93289"/>
<rect x="140" y="120" width="5.3" height="5.3" fill="#ac2693"/>
<rect x="145" y="120" width="5.3" height="5.3" fill="#9d199c"/>
<rect x="150" y="120" width="5.3" height="5.3" fill="#8b0ca4"/>
<rect x="155" y="120" width="5.3" height="5.3" fill="#7905a6"/>
<rect x="160" y="120" width="5.3" height="5.3" fill="#6700a7"/>
<rect x="165" y="120" width="5.3" height="5.3" fill="#5902a3"/>
<rect x="170" y="120" width="5.3" height="5.3" fill="#4b03a0"/>
<rect x="175" y="120" width="10.3" height="5.3" fill="#44049e"/>
<rect x="-5" y="125" width="5.3" height="5.3" fill="#fcaf32"/>
<rect x="0" y="125" width="5.3" height="5.3" fill="#fcae32"/>
<rect x="5" y="125" width="5.3" height="5.3" fill="#fcad33"/>
<rect x="10" y="125" width="5.3" height="5.3" fill="#fcac34"/>
<rect x="15" y="125" width="5.3" height="5.3" fill="#fcab34"/>
<rect x="20" y="125" width="5.3" height="5.3" fill="#fca935"/>
<rect x="25" y="125" width="5.3" height="5.3" fill="#fca835"/>
<rect x="30" y="125" width="5.3" height="5.3" fill="#fca736"/>
<rect x="35" y="125" width="5.3" height="5.3" fill="#fca636"/>
<rect x="40" y="125" width="5.3" height="5.3" fill="#fca537"/>
<rect x="45" y="125" width="5.3" height="5.3" fill="#fca437"/>
<rect x="50" y="125" width="5.3" height="5.3" fill="#fba437"/>
<rect x="55" y="125" width="5.3" height="5.3" fill="#fba338"/>
<rect x="60" y="125" width="5.3" height="5.3" fill="#fba239"/>
<rect x="65" y="125" width="5.3" height="5.3" fill="#faa03a"/>
<rect x="70" y="125" width="5.3" height="5.3" fill="#f99d3b"/>
<rect x="75" y="125" width="5.3" height="5.3" fill="#f89a3d"/>
<rect x="80" y="125" width="5.3" height="5.3" fill="#f79640"/>
<rect x="85" y="125" width="5.3" height="5.3" fill="#f69143"/>
<rect x="90" y="125" width="5.3" height="5.3" fill="#f48b47"/>
<rect x="95" y="125" width="5.3" height="5.3" fill="#f2854a"/>
<rect x="100" y="125" width="5.3" height="5.3" fill="#ef7f4f"/>
<rect x="105" y="125" width="5.3" height="5.3" fill="#eb7754"/>
<rect x="110" y="125" width="5.3" height="5.3" fill="#e76f5a"/>
<rect x="115" y="125" width="5.3" height="5.3" fill="#e16462"/>
<rect x="120" y="125" width="5.3" height="5.3" fill="#d8576c"/>
<rect x="125" y="125" width="5.3" height="5.3" fill="#cf4b75"/>
<rect x="130" y="125" width="5.3" height="5.3" fill="#c43e7f"/>
<rect x="135" y="125" width="5.3" height="5.3" fill="#b8318a"/>
<rect x="140" y="125" width="5.3" height="5.3" fill="#aa2494"/>
<rect x="145" y="125" width="5.3" height="5.3" fill="#99169e"/>
<rect x="150" y="125" width="5.3" height="5.3" fill="#870aa5"/>
<rect x="155" y="125" width="5.3" height="5.3" fill="#7504a7"/>
<rect x="160" y="125" width="5.3" height="5.3" fill="#6201a6"/>
<rect x="165" y="125" width="5.3" height="5.3" fill="#5502a2"/>
<rect x="170" y="125" width="5.3" height="5.3" fill="#48039f"/>
<rect x="175" y="125" width="10.3" height="5.3" fill="#42049d"/>
<rect x="-5" y="130" width="5.3" height="5.3" fill="#fcae33"/>
<rect x="0" y="130" width="5.3" height="5.3" fill="#fcac33"/>
<rect x="5" y="130" width="5.3" height="5.3" fill="#fcab34"/>
<rect x="10" y="130" width="5.3" height="5.3" fill="#fcaa34"/>
<rect x="15" y="130" width="5.3" height="5.3" fill="#fca935"/>
<rect x="20" y="130" width="5.3" height="5.3" fill="#fca835"/>
<rect x="25" y="130" width="5.3" height="5.3" fill="#fca636"/>
<rect x="30" y="130" width="5.3" height="5.3" fill="#fca536"/>
<rect x="35" y="130" width="5.3" height="5.3" fill="#fca437"/>
<rect x="40" y="130" width="5.3" height="5.3" fill="#fba437"/>
<rect x="45" y="130" width="5.3" height="5.3" fill="#fba338"/>
<rect x="50" y="130" width="5.3" height="5.3" fill="#fba238"/>
<rect x="55" y="130" width="5.3" height="5.3" fill="#fba239"/>
<rect x="60" y="130" width="5.3" height="5.3" fill="#faa139"/>
<rect x="65" y="130" width="5.3" height="5.3" fill="#fa9f3a"/>
<rect x="70" y="130" width="5.3" height="5.3" fill="#f99c3c"/>
<rect x="75" y="130" width="5.3" height="5.3" fill="#f89a3e"/>
<rect x="80" y="130" width="5.3" height="5.3" fill="#f79640"/>
<rect x="85" y="130" width="5.3" height="5.3" fill="#f69143"/>
<rect x="90" y="130" width="5.3" height="5.3" fill="#f48b46"/>
<rect x="95" y="130" width="5.3" height="5.3" fill="#f2854a"/>
<rect x="100" y="130" width="5.3" height="5.3" fill="#ef7f4f"/>
<rect x="105" y="130" width="5.3" height="5.3" fill="#eb7754"/>
<rect x="110" y="130" width="5.3" height="5.3" fill="#e76f5a"/>
<rect x="115" y="130" width="5.3" height="5.3" fill="#e06363"/>
<rect x="120" y="130" width="5.3" height="5.3" fill="#d7566d"/>
<rect x="125" y="130" width="5.3" height="5.3" fill="#cd4977"/>
<rect x="130" y="130" width="5.3" height="5.3" fill="#c13c81"/>
<rect x="135" y="130" width="5.3" height="5.3" fill="#b52e8c"/>
<rect x="140" y="130" width="5.3" height="5.3" fill="#a72196"/>
<rect x="145" y="130" width="5.3" height="5.3" fill="#97149f"/>
<rect x="150" y="130" width="5.3" height="5.3" fill="#850aa5"/>
<rect x="155" y="130" width="5.3" height="5.3" fill="#7203a7"/>
<rect x="160" y="130" width="5.3" height="5.3" fill="#5e01a5"/>
<rect x="165" y="130" width="5.3" height="5.3" fill="#5202a2"/>
<rect x="170" y="130" width="5.3" height="5.3" fill="#46049e"/>
<rect x="175" y="130" width="10.3" height="5.3" fill="#3f049c"/>
<rect x="-5" y="135" width="5.3" height="5.3" fill="#fcac34"/>
<rect x="0" y="135" width="5.3" height="5.3" fill="#fcaa34"/>
<rect x="5" y="135" width="5.3" height="5.3" fill="#fca935"/>
<rect x="10" y="135" width="5.3" height="5.3" fill="#fca835"/>
<rect x="15" y="135" width="5.3" height="5.3" fill="#fca736"/>
<rect x="20" y="135" width="5.3" height="5.3" fill="#fca636"/>
<rect x="25" y="135" width="5.3" height="5.3" fill="#fca537"/>
<rect x="30" y="135" width="5.3" height="5.3" fill="#fba437"/>
<rect x="35" y="135" width="5.3" height="5.3" fill="#fba338"/>
<rect x="40" y="135" width="5.3" height="5.3" fill="#fba238"/>
<rect x="45" y="135" width="5.3" height="5.3" fill="#fba139"/>
<rect x="50" y="135" width="5.3" height="5.3" fill="#faa139"/>
<rect x="55" y="135" width="5.3" height="5.3" fill="#faa03a"/>
<rect x="60" y="135" width="5.3" height="5.3" fill="#fa9f3a"/>
<rect x="65" y="135" width="5.3" height="5.3" fill="#fa9e3b"/>
<rect x="70" y="135" width="5.3" height="5.3" fill="#f99b3d"/>
<rect x="75" y="135" width="5.3" height="5.3" fill="#f8993e"/>
<rect x="80" y="135" width="5.3" height="5.3" fill="#f79540"/>
<rect x="85" y="135" width="5.3" height="5.3" fill="#f69143"/>
<rect x="90" y="135" width="5.3" height="5.3" fill="#f48b46"/>
<rect x="95" y="135" width="5.3" height="5.3" fill="#f2864a"/>
<rect x="100" y="135" width="5.3" height="5.3" fill="#ef7f4f"/>
<rect x="105" y="135" width="5.3" height="5.3" fill="#eb7754"/>
<rect x="110" y="135" width="5.3" height="5.3" fill="#e76f5a"/>
<rect x="115" y="135" width="5.3" height="5.3" fill="#df6264"/>
<rect x="120" y="135" width="5.3" height="5.3" fill="#d6546e"/>
<rect x="125" y="135" width="5.3" height="5.3" fill="#cb4679"/>
<rect x="130" y="135" width="5.3" height="5.3" fill="#bf3984"/>
<rect x="135" y="135" width="5.3" height="5.3" fill="#b22b8f"/>
<rect x="140" y="135" width="5.3" height="5.3" fill="#a31e98"/>
<rect x="145" y="135" width="5.3" height="5.3" fill="#9411a1"/>
<rect x="150" y="135" width="5.3" height="5.3" fill="#8108a5"/>
<rect x="155" y="135" width="5.3" height="5.3" fill="#6e02a8"/>
<rect x="160" y="135" width="5.3" height="5.3" fill="#5b01a4"/>
<rect x="165" y="135" width="5.3" height="5.3" fill="#4f03a1"/>
<rect x="170" y="135" width="5.3" height="5.3" fill="#44049e"/>
<rect x="175" y="135" width="10.3" height="5.3" fill="#3d049b"/>
<rect x="-5" y="140" width="5.3" height="5.3" fill="#fcaa34"/>
<rect x="0" y="140" width="5.3" height="5.3" fill="#fca835"/>
<rect x="5" y="140" width="5.3" height="5.3" fill="#fca735"/>
<rect x="10" y="140" width="5.3" height="5.3" fill="#fca636"/>
<rect x="15" y="140" width="5.3" height="5.3" fill="#fca537"/>
<rect x="20" y="140" width="5.3" height="5.3" fill="#fba437"/>
<rect x="25" y="140" width="5.3" height="5.3" fill="#fba338"/>
<rect x="30" y="140" width="5.3" height="5.3" fill="#fba238"/>
<rect x="35" y="140" width="5.3" height="5.3" fill="#fba139"/>
<rect x="40" y="140" width="5.3" height="5.3" fill="#faa039"/>
<rect x="45" y="140" width="5.3" height="5.3" fill="#faa03a"/>
<rect x="50" y="140" width="10.3" height="5.3" fill="#fa9f3a"/>
<rect x="60" y="140" width="5.3" height="5.3" fill="#fa9e3b"/>
<rect x="65" y="140" width="5.3" height="5.3" fill="#f99c3c"/>
<rect x="70" y="140" width="5.3" height="5.3" fill="#f99a3d"/>
<rect x="75" y="140" width="5.3" height="5.3" fill="#f8983f"/>
<rect x="80" y="140" width="5.3" height="5.3" fill="#f79541"/>
<rect x="85" y="140" width="5.3" height="5.3" fill="#f69043"/>
<rect x="90" y="140" width="5.3" height="5.3" fill="#f48b46"/>
<rect x="95" y="140" width="5.3" height="5.3" fill="#f2864a"/>
<rect x="100" y="140" width="5.3" height="5.3" fill="#ef7f4f"/>
<rect x="105" y="140" width="5.3" height="5.3" fill="#eb7755"/>
<rect x="110" y="140" width="5.3" height="5.3" fill="#e76e5b"/>
<rect x="115" y="140" width="5.3" height="5.3" fill="#df6264"/>
<rect x="120" y="140" width="5.3" height="5.3" fill="#d5546e"/>
<rect x="125" y="140" width="5.3" height="5.3" fill="#cb4679"/>
<rect x="130" y="140" width="5.3" height="5.3" fill="#be3885"/>
<rect x="135" y="140" width="5.3" height="5.3" fill="#b22b8f"/>
<rect x="140" y="140" width="5.3" height="5.3" fill="#a21d99"/>
<rect x="145" y="140" width="5.3" height="5.3" fill="#9310a2"/>
<rect x="150" y="140" width="5.3" height="5.3" fill="#8008a6"/>
<rect x="155" y="140" width="5.3" height="5.3" fill="#6d01a8"/>
<rect x="160" y="140" width="5.3" height="5.3" fill="#5a02a4"/>
<rect x="165" y="140" width="5.3" height="5.3" fill="#4e03a1"/>
<rect x="170" y="140" width="5.3" height="5.3" fill="#43049e"/>
<rect x="175" y="140" width="10.3" height="5.3" fill="#3c049b"/>
<rect x="-5" y="145" width="5.3" height="5.3" fill="#fca835"/>
<rect x="0" y="145" width="5.3" height="5.3" fill="#fca636"/>
<rect x="5" y="145" width="5.3" height="5.3" fill="#fca536"/>
<rect x="10" y="145" width="5.3" height="5.3" fill="#fca437"/>
<rect x="15" y="145" width="5.3" height="5.3" fill="#fba338"/>
<rect x="20" y="145" width="5.3" height="5.3" fill="#fba238"/>
<rect x="25" y="145" width="5.3" height="5.3" fill="#fba139"/>
<rect x="30" y="145" width="5.3" height="5.3" fill="#faa139"/>
<rect x="35" y="145" width="5.3" height="5.3" fill="#faa03a"/>
<rect x="40" y="145" width="5.3" height="5.3" fill="#fa9f3a"/>
<rect x="45" y="145" width="10.3" height="5.3" fill="#fa9e3b"/>
<rect x="55" y="145" width="5.3" height="5.3" fill="#f99d3b"/>
<rect x="60" y="145" width="5.3" height="5.3" fill="#f99c3c"/>
<rect x="65" y="145" width="5.3" height="5.3" fill="#f99b3d"/>
<rect x="70" y="145" width="5.3" height="5.3" fill="#f8993e"/>
<rect x="75" y="145" width="5.3" height="5.3" fill="#f8973f"/>
<rect x="80" y="145" width="5.3" height="5.3" fill="#f79441"/>
<rect x="85" y="145" width="5.3" height="5.3" fill="#f59044"/>
<rect x="90" y="145" width="5.3" height="5.3" fill="#f48b47"/>
<rect x="95" y="145" width="5.3" height="5.3" fill="#f2854a"/>
<rect x="100" y="145" width="5.3" height="5.3" fill="#ef7f4f"/>
<rect x="105" y="145" width="5.3" height="5.3" fill="#eb7755"/>
<rect x="110" y="145" width="5.3" height="5.3" fill="#e66e5b"/>
<rect x="115" y="145" width="5.3" height="5.3" fill="#df6164"/>
<rect x="120" y="145" width="5.3" height="5.3" fill="#d5546e"/>
<rect x="125" y="145" width="5.3" height="5.3" fill="#cb4679"/>
<rect x="130" y="145" width="5.3" height="5.3" fill="#be3885"/>
<rect x="135" y="145" width="5.3" height="5.3" fill="#b22b90"/>
<rect x="140" y="145" width="5.3" height="5.3" fill="#a21d99"/>
<rect x="145" y="145" width="5.3" height="5.3" fill="#9310a2"/>
<rect x="150" y="145" width="5.3" height="5.3" fill="#8008a6"/>
<rect x="155" y="145" width="5.3" height="5.3" fill="#6d01a8"/>
<rect x="160" y="145" width="5.3" height="5.3" fill="#5a02a4"/>
<rect x="165" y="145" width="5.3" height="5.3" fill="#4e03a1"/>
<rect x="170" y="145" width="5.3" height="5.3" fill="#43049e"/>
<rect x="175" y="145" width="10.3" height="5.3" fill="#3c049b"/>
</g></g>
<path d="M501.1,306.3 C503.0,305.1 508.6,301.9 512.4,299.3 C516.2,296.7 519.8,293.7 523.7,290.6 C527.6,287.5 532.0,284.3 535.9,280.7 C539.8,277.1 543.4,273.2 547.2,268.9 C551.0,264.5 554.7,259.4 558.5,254.6 C562.3,249.8 566.0,244.9 569.8,240.1 C573.6,235.3 579.2,228.1 581.1,225.7" fill="none" stroke="rgb(20,5,10)" stroke-width="0.9"/>
<circle cx="501.1" cy="306.3" r="1.2" fill="#200"/>
<circle cx="512.4" cy="299.3" r="1.2" fill="#200"/>
<circle cx="523.7" cy="290.6" r="1.2" fill="#200"/>
<circle cx="535.9" cy="280.7" r="1.2" fill="#200"/>
<circle cx="547.2" cy="268.9" r="1.2" fill="#200"/>
<circle cx="558.5" cy="254.6" r="1.2" fill="#200"/>
<circle cx="569.8" cy="240.1" r="1.2" fill="#200"/>
<line x1="502.0" y1="298.3" x2="505.9" y2="302.5" stroke="#fff" stroke-opacity="0.85" stroke-width="1.7" stroke-linecap="round"/>
<line x1="505.9" y1="302.5" x2="509.0" y2="306.8" stroke="#fff" stroke-opacity="0.47" stroke-width="2" stroke-linecap="round"/>
<path d="M507.8,305.7 L509.8,308.8 L511.2,305.6" fill="none" stroke="#fff" stroke-opacity="0.34" stroke-width="0.8"/>
<line x1="515.1" y1="290.4" x2="519.0" y2="294.6" stroke="#fff" stroke-opacity="0.85" stroke-width="1.7" stroke-linecap="round"/>
<line x1="519.0" y1="294.6" x2="522.1" y2="298.9" stroke="#fff" stroke-opacity="0.47" stroke-width="2" stroke-linecap="round"/>
<path d="M520.9,297.8 L522.9,300.9 L524.3,297.7" fill="none" stroke="#fff" stroke-opacity="0.34" stroke-width="0.8"/>
<line x1="526.4" y1="280.9" x2="530.3" y2="285.1" stroke="#fff" stroke-opacity="0.85" stroke-width="1.7" stroke-linecap="round"/>
<line x1="530.3" y1="285.1" x2="533.4" y2="289.4" stroke="#fff" stroke-opacity="0.47" stroke-width="2" stroke-linecap="round"/>
<path d="M532.2,288.3 L534.2,291.4 L535.6,288.2" fill="none" stroke="#fff" stroke-opacity="0.34" stroke-width="0.8"/>
<line x1="537.7" y1="271.3" x2="541.6" y2="275.5" stroke="#fff" stroke-opacity="0.85" stroke-width="1.7" stroke-linecap="round"/>
<line x1="541.6" y1="275.5" x2="544.7" y2="279.8" stroke="#fff" stroke-opacity="0.47" stroke-width="2" stroke-linecap="round"/>
<path d="M543.5,278.7 L545.5,281.8 L546.9,278.6" fill="none" stroke="#fff" stroke-opacity="0.34" stroke-width="0.8"/>
<line x1="549.0" y1="258.8" x2="552.9" y2="263.0" stroke="#fff" stroke-opacity="0.85" stroke-width="1.7" stroke-linecap="round"/>
<line x1="552.9" y1="263.0" x2="556.0" y2="267.3" stroke="#fff" stroke-opacity="0.47" stroke-width="2" stroke-linecap="round"/>
<path d="M554.8,266.2 L556.8,269.3 L558.2,266.1" fill="none" stroke="#fff" stroke-opacity="0.34" stroke-width="0.8"/>
<line x1="560.3" y1="244.3" x2="564.2" y2="248.5" stroke="#fff" stroke-opacity="0.85" stroke-width="1.7" stroke-linecap="round"/>
<line x1="564.2" y1="248.5" x2="567.3" y2="252.8" stroke="#fff" stroke-opacity="0.47" stroke-width="2" stroke-linecap="round"/>
<path d="M566.1,251.7 L568.1,254.8 L569.5,251.6" fill="none" stroke="#fff" stroke-opacity="0.34" stroke-width="0.8"/>
<line x1="571.6" y1="228.7" x2="575.5" y2="232.9" stroke="#fff" stroke-opacity="0.85" stroke-width="1.7" stroke-linecap="round"/>
<line x1="575.5" y1="232.9" x2="578.6" y2="237.2" stroke="#fff" stroke-opacity="0.47" stroke-width="2" stroke-linecap="round"/>
<path d="M577.4,236.1 L579.4,239.2 L580.8,236.0" fill="none" stroke="#fff" stroke-opacity="0.34" stroke-width="0.8"/>
<ellipse cx="561.2" cy="293.8" rx="2.8" ry="2.3" fill="#fff"/><ellipse cx="564.7" cy="294.3" rx="1.3" ry="1" fill="#fff" fill-opacity="0.8"/>
<circle cx="581.1" cy="225.7" r="1.5" fill="#fff"/>
<text x="439" y="214" font-family="Liberation Sans, sans-serif" font-weight="bold" font-size="16.5" fill="#fff" fill-opacity="0.85">(e)</text>
<text x="593" y="215.6" font-family="Liberation Sans, sans-serif" font-weight="bold" font-size="20" fill="#fff">v</text>
<rect x="565.8" y="332.3" width="40.5" height="2" fill="#fff"/>
<text x="569.4" y="327.5" font-family="Liberation Sans, sans-serif" font-weight="bold" font-size="15" fill="#fff">5 μm</text>
<defs><linearGradient id="cbE" x1="0" y1="0" x2="0" y2="1"><stop offset="0.00" stop-color="#f0f921"/><stop offset="0.10" stop-color="#fcce25"/><stop offset="0.20" stop-color="#fca636"/><stop offset="0.30" stop-color="#f2844b"/><stop offset="0.40" stop-color="#e16462"/><stop offset="0.50" stop-color="#cc4778"/><stop offset="0.60" stop-color="#b12a90"/><stop offset="0.70" stop-color="#8f0da4"/><stop offset="0.80" stop-color="#6a00a8"/><stop offset="0.90" stop-color="#41049d"/><stop offset="1.00" stop-color="#0d0887"/></linearGradient></defs><rect x="615.4" y="200.5" width="9.0" height="136.5" fill="url(#cbE)" stroke="#555" stroke-width="0.4"/>
<text x="627" y="220.4" font-family="Liberation Sans, sans-serif" font-weight="bold" font-size="8" fill="#333">65</text>
<text x="627" y="240.9" font-family="Liberation Sans, sans-serif" font-weight="bold" font-size="8" fill="#333">60</text>
<text x="627" y="261.8" font-family="Liberation Sans, sans-serif" font-weight="bold" font-size="8" fill="#333">55</text>
<text x="627" y="282.7" font-family="Liberation Sans, sans-serif" font-weight="bold" font-size="8" fill="#333">50</text>
<text x="627" y="303.2" font-family="Liberation Sans, sans-serif" font-weight="bold" font-size="8" fill="#333">45</text>
<text x="627" y="324.6" font-family="Liberation Sans, sans-serif" font-weight="bold" font-size="8" fill="#333">40</text>
<g transform="translate(645,272) rotate(-90)"><text x="0" y="0" font-family="Liberation Sans, sans-serif" font-weight="bold" font-size="7.5" fill="#222" text-anchor="middle">v (pixel)</text></g>
<text x="79" y="359.2" font-family="Liberation Serif, serif" font-weight="bold" font-style="italic" font-size="15.5" fill="#111">d</text>
<text x="88" y="354.3" font-family="Liberation Serif, serif" font-weight="bold" font-style="italic" font-size="8.5" fill="#111" textLength="39.5" lengthAdjust="spacingAndGlyphs">resolved</text>
<text x="88.5" y="363" font-family="Liberation Serif, serif" font-weight="bold" font-style="italic" font-size="9.5" fill="#111">ij</text>
<text x="133" y="360" font-family="Liberation Serif, serif" font-size="15" fill="#111">=</text>
<text x="147" y="360" font-family="Liberation Serif, serif" font-size="16.5" fill="#111">[</text>
<text x="150.8" y="360" font-family="Liberation Serif, serif" font-weight="bold" font-style="italic" font-size="16" fill="#111">u</text>
<text x="158" y="363" font-family="Liberation Serif, serif" font-weight="bold" font-style="italic" font-size="9.5" fill="#111">ij</text>
<text x="165.5" y="360" font-family="Liberation Serif, serif" font-weight="bold" font-style="italic" font-size="15" fill="#111">,</text>
<text x="170.5" y="360" font-family="Liberation Serif, serif" font-weight="bold" font-style="italic" font-size="16" fill="#111">v</text>
<text x="179.5" y="363" font-family="Liberation Serif, serif" font-weight="bold" font-style="italic" font-size="9.5" fill="#111">ij</text>
<text x="187.8" y="360" font-family="Liberation Serif, serif" font-size="16.5" fill="#111">]</text>
<text x="195.5" y="360" font-family="Liberation Serif, serif" font-weight="bold" font-size="15" fill="#111">·</text>
<text x="203.5" y="360" font-family="Liberation Serif, serif" font-size="16.5" fill="#111">[</text>
<text x="207.5" y="360" font-family="Liberation Serif, serif" font-weight="bold" font-style="italic" font-size="16" fill="#111">t</text>
<text x="213.5" y="363" font-family="Liberation Serif, serif" font-weight="bold" font-style="italic" font-size="9.5" fill="#111">ix</text>
<text x="223.5" y="360" font-family="Liberation Serif, serif" font-weight="bold" font-style="italic" font-size="15" fill="#111">,</text>
<text x="227.5" y="360" font-family="Liberation Serif, serif" font-weight="bold" font-style="italic" font-size="16" fill="#111">t</text>
<text x="233.5" y="363" font-family="Liberation Serif, serif" font-weight="bold" font-style="italic" font-size="9.5" fill="#111">iy</text>
<text x="242.3" y="360" font-family="Liberation Serif, serif" font-size="16.5" fill="#111">]</text>
<text x="277.5" y="359.3" font-family="Liberation Serif, serif" font-weight="bold" font-style="italic" font-size="15.5" fill="#111">d</text>
<text x="286" y="354.3" font-family="Liberation Serif, serif" font-weight="bold" font-style="italic" font-size="8.5" fill="#111" textLength="89.6" lengthAdjust="spacingAndGlyphs">resolved−centered</text>
<text x="287" y="363" font-family="Liberation Serif, serif" font-weight="bold" font-style="italic" font-size="9.5" fill="#111">ij</text>
<text x="377.5" y="360" font-family="Liberation Serif, serif" font-size="15" fill="#111">=</text>
<text x="391.5" y="359.3" font-family="Liberation Serif, serif" font-weight="bold" font-style="italic" font-size="15.5" fill="#111">d</text>
<text x="400.2" y="354.3" font-family="Liberation Serif, serif" font-weight="bold" font-style="italic" font-size="8.5" fill="#111" textLength="40.8" lengthAdjust="spacingAndGlyphs">resolved</text>
<text x="401" y="363" font-family="Liberation Serif, serif" font-weight="bold" font-style="italic" font-size="9.5" fill="#111">ij</text>
<text x="446.5" y="360" font-family="Liberation Serif, serif" font-weight="bold" font-size="15" fill="#111">−</text>
<text x="459" y="360.5" font-family="Liberation Serif, serif" font-weight="bold" font-style="italic" font-size="15.5" fill="#111" textLength="33.7" lengthAdjust="spacingAndGlyphs">mean</text>
<text x="493" y="361" font-family="Liberation Serif, serif" font-size="15" fill="#111">(</text>
<text x="498.5" y="364.5" font-family="Liberation Serif, serif" font-size="19" fill="#111">∑</text>
<text x="504" y="375.5" font-family="Liberation Serif, serif" font-weight="bold" font-style="italic" font-size="8.5" fill="#111">j</text>
<text x="519.5" y="359.5" font-family="Liberation Serif, serif" font-weight="bold" font-style="italic" font-size="15.5" fill="#111">d</text>
<text x="528" y="354" font-family="Liberation Serif, serif" font-weight="bold" font-style="italic" font-size="8.5" fill="#111" textLength="41.5" lengthAdjust="spacingAndGlyphs">resolved</text>
<text x="528.5" y="363" font-family="Liberation Serif, serif" font-weight="bold" font-style="italic" font-size="9.5" fill="#111">ij</text>
<text x="570.5" y="361" font-family="Liberation Serif, serif" font-size="15" fill="#111">)</text>
<rect x="34.3" y="420.5" width="160.10000000000002" height="123.70000000000005" fill="#fff" stroke="#555" stroke-width="0.8"/>
<line x1="34.3" y1="544.2" x2="35.8" y2="544.2" stroke="#555" stroke-width="0.6"/>
<text x="31.799999999999997" y="547.0" font-family="Liberation Sans, sans-serif" font-size="8" fill="#222" text-anchor="end">0</text>
<line x1="34.3" y1="528.7" x2="35.8" y2="528.7" stroke="#555" stroke-width="0.6"/>
<text x="31.799999999999997" y="531.5" font-family="Liberation Sans, sans-serif" font-size="8" fill="#222" text-anchor="end">10</text>
<line x1="34.3" y1="513.3" x2="35.8" y2="513.3" stroke="#555" stroke-width="0.6"/>
<text x="31.799999999999997" y="516.1" font-family="Liberation Sans, sans-serif" font-size="8" fill="#222" text-anchor="end">20</text>
<line x1="34.3" y1="497.8" x2="35.8" y2="497.8" stroke="#555" stroke-width="0.6"/>
<text x="31.799999999999997" y="500.6" font-family="Liberation Sans, sans-serif" font-size="8" fill="#222" text-anchor="end">30</text>
<line x1="34.3" y1="482.4" x2="35.8" y2="482.4" stroke="#555" stroke-width="0.6"/>
<text x="31.799999999999997" y="485.2" font-family="Liberation Sans, sans-serif" font-size="8" fill="#222" text-anchor="end">40</text>
<line x1="34.3" y1="466.9" x2="35.8" y2="466.9" stroke="#555" stroke-width="0.6"/>
<text x="31.799999999999997" y="469.7" font-family="Liberation Sans, sans-serif" font-size="8" fill="#222" text-anchor="end">50</text>
<line x1="34.3" y1="451.4" x2="35.8" y2="451.4" stroke="#555" stroke-width="0.6"/>
<text x="31.799999999999997" y="454.2" font-family="Liberation Sans, sans-serif" font-size="8" fill="#222" text-anchor="end">60</text>
<line x1="34.3" y1="436.0" x2="35.8" y2="436.0" stroke="#555" stroke-width="0.6"/>
<text x="31.799999999999997" y="438.8" font-family="Liberation Sans, sans-serif" font-size="8" fill="#222" text-anchor="end">70</text>
<line x1="34.3" y1="420.5" x2="35.8" y2="420.5" stroke="#555" stroke-width="0.6"/>
<text x="31.799999999999997" y="423.3" font-family="Liberation Sans, sans-serif" font-size="8" fill="#222" text-anchor="end">80</text>
<line x1="34.3" y1="544.2" x2="34.3" y2="542.7" stroke="#555" stroke-width="0.6"/>
<text x="34.3" y="553.7" font-family="Liberation Sans, sans-serif" font-weight="bold" font-size="8" fill="#222" text-anchor="middle">-0.5</text>
<line x1="114.4" y1="544.2" x2="114.4" y2="542.7" stroke="#555" stroke-width="0.6"/>
<text x="114.4" y="553.7" font-family="Liberation Sans, sans-serif" font-weight="bold" font-size="8" fill="#222" text-anchor="middle">0</text>
<line x1="194.4" y1="544.2" x2="194.4" y2="542.7" stroke="#555" stroke-width="0.6"/>
<text x="194.4" y="553.7" font-family="Liberation Sans, sans-serif" font-weight="bold" font-size="8" fill="#222" text-anchor="middle">0.5</text>
<text x="114.8" y="562.5" font-family="Liberation Sans, sans-serif" font-weight="bold" font-size="8.3" fill="#222" text-anchor="middle">Distance from GB (μm)</text>
<line x1="83.5" y1="421" x2="83.5" y2="544" stroke="#000" stroke-width="1.1" stroke-dasharray="1,1"/>
<line x1="152.5" y1="421" x2="152.5" y2="544" stroke="#000" stroke-width="1.1" stroke-dasharray="1,1"/>
<path d="M42.3,544.2 C46.3,543.7 59.6,542.2 66.3,541.1 C73.0,540.0 78.3,538.3 82.3,537.6 C86.3,536.8 87.7,536.9 90.3,536.5 C93.0,536.0 95.7,535.4 98.3,534.9 C101.0,534.4 103.7,534.1 106.3,533.4 C109.0,532.7 111.7,531.4 114.4,530.6 C117.0,529.8 119.7,529.4 122.4,528.7 C125.0,528.0 127.7,527.2 130.4,526.4 C133.0,525.6 135.7,524.7 138.4,524.1 C141.0,523.5 143.7,523.1 146.4,522.6 C149.0,522.0 151.7,521.5 154.4,521.0 C157.0,520.5 159.7,519.8 162.4,519.5 C165.0,519.1 167.7,518.9 170.4,518.7 C173.1,518.4 175.7,518.0 178.4,517.9 C181.1,517.8 185.1,517.9 186.4,517.9" fill="none" stroke="rgb(162, 20, 47)" stroke-width="1"/>
<circle cx="42.3" cy="544.2" r="1.3" fill="rgb(162, 20, 47)" stroke="#333" stroke-width="0.3"/>
<circle cx="66.3" cy="541.1" r="1.3" fill="rgb(162, 20, 47)" stroke="#333" stroke-width="0.3"/>
<circle cx="82.3" cy="537.6" r="1.3" fill="rgb(162, 20, 47)" stroke="#333" stroke-width="0.3"/>
<circle cx="90.3" cy="536.5" r="1.3" fill="rgb(162, 20, 47)" stroke="#333" stroke-width="0.3"/>
<circle cx="98.3" cy="534.9" r="1.3" fill="rgb(162, 20, 47)" stroke="#333" stroke-width="0.3"/>
<circle cx="106.3" cy="533.4" r="1.3" fill="rgb(162, 20, 47)" stroke="#333" stroke-width="0.3"/>
<circle cx="114.4" cy="530.6" r="1.3" fill="rgb(162, 20, 47)" stroke="#333" stroke-width="0.3"/>
<circle cx="122.4" cy="528.7" r="1.3" fill="rgb(162, 20, 47)" stroke="#333" stroke-width="0.3"/>
<circle cx="130.4" cy="526.4" r="1.3" fill="rgb(162, 20, 47)" stroke="#333" stroke-width="0.3"/>
<circle cx="138.4" cy="524.1" r="1.3" fill="rgb(162, 20, 47)" stroke="#333" stroke-width="0.3"/>
<circle cx="146.4" cy="522.6" r="1.3" fill="rgb(162, 20, 47)" stroke="#333" stroke-width="0.3"/>
<circle cx="154.4" cy="521.0" r="1.3" fill="rgb(162, 20, 47)" stroke="#333" stroke-width="0.3"/>
<circle cx="162.4" cy="519.5" r="1.3" fill="rgb(162, 20, 47)" stroke="#333" stroke-width="0.3"/>
<circle cx="170.4" cy="518.7" r="1.3" fill="rgb(162, 20, 47)" stroke="#333" stroke-width="0.3"/>
<circle cx="178.4" cy="517.9" r="1.3" fill="rgb(162, 20, 47)" stroke="#333" stroke-width="0.3"/>
<circle cx="186.4" cy="517.9" r="1.3" fill="rgb(162, 20, 47)" stroke="#333" stroke-width="0.3"/>
<path d="M42.3,543.4 C46.3,543.0 59.6,542.1 66.3,541.1 C73.0,540.1 78.3,538.1 82.3,537.2 C86.3,536.3 87.7,536.5 90.3,535.7 C93.0,534.9 95.7,533.9 98.3,532.6 C101.0,531.3 103.7,529.9 106.3,528.0 C109.0,526.0 111.7,523.6 114.4,521.0 C117.0,518.4 119.7,515.2 122.4,512.5 C125.0,509.8 127.7,506.8 130.4,504.8 C133.0,502.7 135.7,501.3 138.4,500.1 C141.0,499.0 143.7,498.5 146.4,497.8 C149.0,497.2 151.7,496.8 154.4,496.3 C157.0,495.8 159.7,495.2 162.4,494.7 C165.0,494.2 167.7,493.7 170.4,493.2 C173.1,492.7 175.7,492.1 178.4,491.6 C181.1,491.1 185.1,490.3 186.4,490.1" fill="none" stroke="rgb(77, 190, 238)" stroke-width="1"/>
<circle cx="42.3" cy="543.4" r="1.3" fill="rgb(77, 190, 238)" stroke="#333" stroke-width="0.3"/>
<circle cx="66.3" cy="541.1" r="1.3" fill="rgb(77, 190, 238)" stroke="#333" stroke-width="0.3"/>
<circle cx="82.3" cy="537.2" r="1.3" fill="rgb(77, 190, 238)" stroke="#333" stroke-width="0.3"/>
<circle cx="90.3" cy="535.7" r="1.3" fill="rgb(77, 190, 238)" stroke="#333" stroke-width="0.3"/>
<circle cx="98.3" cy="532.6" r="1.3" fill="rgb(77, 190, 238)" stroke="#333" stroke-width="0.3"/>
<circle cx="106.3" cy="528.0" r="1.3" fill="rgb(77, 190, 238)" stroke="#333" stroke-width="0.3"/>
<circle cx="114.4" cy="521.0" r="1.3" fill="rgb(77, 190, 238)" stroke="#333" stroke-width="0.3"/>
<circle cx="122.4" cy="512.5" r="1.3" fill="rgb(77, 190, 238)" stroke="#333" stroke-width="0.3"/>
<circle cx="130.4" cy="504.8" r="1.3" fill="rgb(77, 190, 238)" stroke="#333" stroke-width="0.3"/>
<circle cx="138.4" cy="500.1" r="1.3" fill="rgb(77, 190, 238)" stroke="#333" stroke-width="0.3"/>
<circle cx="146.4" cy="497.8" r="1.3" fill="rgb(77, 190, 238)" stroke="#333" stroke-width="0.3"/>
<circle cx="154.4" cy="496.3" r="1.3" fill="rgb(77, 190, 238)" stroke="#333" stroke-width="0.3"/>
<circle cx="162.4" cy="494.7" r="1.3" fill="rgb(77, 190, 238)" stroke="#333" stroke-width="0.3"/>
<circle cx="170.4" cy="493.2" r="1.3" fill="rgb(77, 190, 238)" stroke="#333" stroke-width="0.3"/>
<circle cx="178.4" cy="491.6" r="1.3" fill="rgb(77, 190, 238)" stroke="#333" stroke-width="0.3"/>
<circle cx="186.4" cy="490.1" r="1.3" fill="rgb(77, 190, 238)" stroke="#333" stroke-width="0.3"/>
<path d="M42.3,543.4 C46.3,543.0 59.6,542.1 66.3,541.1 C73.0,540.1 78.3,538.1 82.3,537.2 C86.3,536.3 87.7,536.3 90.3,535.7 C93.0,535.1 95.7,534.5 98.3,533.4 C101.0,532.2 103.7,530.7 106.3,528.7 C109.0,526.8 111.7,524.4 114.4,521.8 C117.0,519.2 119.7,516.0 122.4,513.3 C125.0,510.6 127.7,507.7 130.4,505.5 C133.0,503.4 135.7,501.4 138.4,500.1 C141.0,498.8 143.7,498.5 146.4,497.8 C149.0,497.2 151.7,496.8 154.4,496.3 C157.0,495.8 159.7,495.2 162.4,494.7 C165.0,494.2 167.7,493.7 170.4,493.2 C173.1,492.7 175.7,492.0 178.4,491.6 C181.1,491.2 185.1,491.0 186.4,490.9" fill="none" stroke="rgb(119, 172, 48)" stroke-width="1"/>
<circle cx="42.3" cy="543.4" r="1.3" fill="rgb(119, 172, 48)" stroke="#333" stroke-width="0.3"/>
<circle cx="66.3" cy="541.1" r="1.3" fill="rgb(119, 172, 48)" stroke="#333" stroke-width="0.3"/>
<circle cx="82.3" cy="537.2" r="1.3" fill="rgb(119, 172, 48)" stroke="#333" stroke-width="0.3"/>
<circle cx="90.3" cy="535.7" r="1.3" fill="rgb(119, 172, 48)" stroke="#333" stroke-width="0.3"/>
<circle cx="98.3" cy="533.4" r="1.3" fill="rgb(119, 172, 48)" stroke="#333" stroke-width="0.3"/>
<circle cx="106.3" cy="528.7" r="1.3" fill="rgb(119, 172, 48)" stroke="#333" stroke-width="0.3"/>
<circle cx="114.4" cy="521.8" r="1.3" fill="rgb(119, 172, 48)" stroke="#333" stroke-width="0.3"/>
<circle cx="122.4" cy="513.3" r="1.3" fill="rgb(119, 172, 48)" stroke="#333" stroke-width="0.3"/>
<circle cx="130.4" cy="505.5" r="1.3" fill="rgb(119, 172, 48)" stroke="#333" stroke-width="0.3"/>
<circle cx="138.4" cy="500.1" r="1.3" fill="rgb(119, 172, 48)" stroke="#333" stroke-width="0.3"/>
<circle cx="146.4" cy="497.8" r="1.3" fill="rgb(119, 172, 48)" stroke="#333" stroke-width="0.3"/>
<circle cx="154.4" cy="496.3" r="1.3" fill="rgb(119, 172, 48)" stroke="#333" stroke-width="0.3"/>
<circle cx="162.4" cy="494.7" r="1.3" fill="rgb(119, 172, 48)" stroke="#333" stroke-width="0.3"/>
<circle cx="170.4" cy="493.2" r="1.3" fill="rgb(119, 172, 48)" stroke="#333" stroke-width="0.3"/>
<circle cx="178.4" cy="491.6" r="1.3" fill="rgb(119, 172, 48)" stroke="#333" stroke-width="0.3"/>
<circle cx="186.4" cy="490.9" r="1.3" fill="rgb(119, 172, 48)" stroke="#333" stroke-width="0.3"/>
<path d="M42.3,543.4 C46.3,542.9 59.6,541.9 66.3,540.3 C73.0,538.8 78.3,535.8 82.3,534.1 C86.3,532.5 87.7,531.7 90.3,530.3 C93.0,528.9 95.7,528.0 98.3,525.6 C101.0,523.3 103.7,520.4 106.3,516.4 C109.0,512.4 111.7,506.1 114.4,501.7 C117.0,497.3 119.7,493.6 122.4,490.1 C125.0,486.6 127.7,483.5 130.4,480.8 C133.0,478.1 135.7,475.6 138.4,473.8 C141.0,472.0 143.7,471.0 146.4,470.0 C149.0,468.9 151.7,468.4 154.4,467.7 C157.0,466.9 159.7,466.0 162.4,465.3 C165.0,464.7 167.7,464.3 170.4,463.8 C173.1,463.3 175.7,463.0 178.4,462.2 C181.1,461.5 185.1,459.7 186.4,459.2" fill="none" stroke="rgb(0, 114, 189)" stroke-width="1"/>
<circle cx="42.3" cy="543.4" r="1.3" fill="rgb(0, 114, 189)" stroke="#333" stroke-width="0.3"/>
<circle cx="66.3" cy="540.3" r="1.3" fill="rgb(0, 114, 189)" stroke="#333" stroke-width="0.3"/>
<circle cx="82.3" cy="534.1" r="1.3" fill="rgb(0, 114, 189)" stroke="#333" stroke-width="0.3"/>
<circle cx="90.3" cy="530.3" r="1.3" fill="rgb(0, 114, 189)" stroke="#333" stroke-width="0.3"/>
<circle cx="98.3" cy="525.6" r="1.3" fill="rgb(0, 114, 189)" stroke="#333" stroke-width="0.3"/>
<circle cx="106.3" cy="516.4" r="1.3" fill="rgb(0, 114, 189)" stroke="#333" stroke-width="0.3"/>
<circle cx="114.4" cy="501.7" r="1.3" fill="rgb(0, 114, 189)" stroke="#333" stroke-width="0.3"/>
<circle cx="122.4" cy="490.1" r="1.3" fill="rgb(0, 114, 189)" stroke="#333" stroke-width="0.3"/>
<circle cx="130.4" cy="480.8" r="1.3" fill="rgb(0, 114, 189)" stroke="#333" stroke-width="0.3"/>
<circle cx="138.4" cy="473.8" r="1.3" fill="rgb(0, 114, 189)" stroke="#333" stroke-width="0.3"/>
<circle cx="146.4" cy="470.0" r="1.3" fill="rgb(0, 114, 189)" stroke="#333" stroke-width="0.3"/>
<circle cx="154.4" cy="467.7" r="1.3" fill="rgb(0, 114, 189)" stroke="#333" stroke-width="0.3"/>
<circle cx="162.4" cy="465.3" r="1.3" fill="rgb(0, 114, 189)" stroke="#333" stroke-width="0.3"/>
<circle cx="170.4" cy="463.8" r="1.3" fill="rgb(0, 114, 189)" stroke="#333" stroke-width="0.3"/>
<circle cx="178.4" cy="462.2" r="1.3" fill="rgb(0, 114, 189)" stroke="#333" stroke-width="0.3"/>
<circle cx="186.4" cy="459.2" r="1.3" fill="rgb(0, 114, 189)" stroke="#333" stroke-width="0.3"/>
<path d="M42.3,542.7 C46.3,542.1 59.6,541.1 66.3,539.6 C73.0,538.0 78.3,535.3 82.3,533.4 C86.3,531.4 87.7,530.0 90.3,528.0 C93.0,525.9 95.7,524.0 98.3,521.0 C101.0,518.0 103.7,514.0 106.3,510.2 C109.0,506.3 111.7,501.7 114.4,497.8 C117.0,493.9 119.7,490.3 122.4,487.0 C125.0,483.6 127.7,480.0 130.4,477.7 C133.0,475.4 135.7,474.4 138.4,473.1 C141.0,471.8 143.7,470.9 146.4,470.0 C149.0,469.1 151.7,468.4 154.4,467.7 C157.0,466.9 159.7,466.0 162.4,465.3 C165.0,464.7 167.7,464.3 170.4,463.8 C173.1,463.3 175.7,462.8 178.4,462.2 C181.1,461.7 185.1,461.0 186.4,460.7" fill="none" stroke="rgb(126, 47, 142)" stroke-width="1"/>
<circle cx="42.3" cy="542.7" r="1.3" fill="rgb(126, 47, 142)" stroke="#333" stroke-width="0.3"/>
<circle cx="66.3" cy="539.6" r="1.3" fill="rgb(126, 47, 142)" stroke="#333" stroke-width="0.3"/>
<circle cx="82.3" cy="533.4" r="1.3" fill="rgb(126, 47, 142)" stroke="#333" stroke-width="0.3"/>
<circle cx="90.3" cy="528.0" r="1.3" fill="rgb(126, 47, 142)" stroke="#333" stroke-width="0.3"/>
<circle cx="98.3" cy="521.0" r="1.3" fill="rgb(126, 47, 142)" stroke="#333" stroke-width="0.3"/>
<circle cx="106.3" cy="510.2" r="1.3" fill="rgb(126, 47, 142)" stroke="#333" stroke-width="0.3"/>
<circle cx="114.4" cy="497.8" r="1.3" fill="rgb(126, 47, 142)" stroke="#333" stroke-width="0.3"/>
<circle cx="122.4" cy="487.0" r="1.3" fill="rgb(126, 47, 142)" stroke="#333" stroke-width="0.3"/>
<circle cx="130.4" cy="477.7" r="1.3" fill="rgb(126, 47, 142)" stroke="#333" stroke-width="0.3"/>
<circle cx="138.4" cy="473.1" r="1.3" fill="rgb(126, 47, 142)" stroke="#333" stroke-width="0.3"/>
<circle cx="146.4" cy="470.0" r="1.3" fill="rgb(126, 47, 142)" stroke="#333" stroke-width="0.3"/>
<circle cx="154.4" cy="467.7" r="1.3" fill="rgb(126, 47, 142)" stroke="#333" stroke-width="0.3"/>
<circle cx="162.4" cy="465.3" r="1.3" fill="rgb(126, 47, 142)" stroke="#333" stroke-width="0.3"/>
<circle cx="170.4" cy="463.8" r="1.3" fill="rgb(126, 47, 142)" stroke="#333" stroke-width="0.3"/>
<circle cx="178.4" cy="462.2" r="1.3" fill="rgb(126, 47, 142)" stroke="#333" stroke-width="0.3"/>
<circle cx="186.4" cy="460.7" r="1.3" fill="rgb(126, 47, 142)" stroke="#333" stroke-width="0.3"/>
<path d="M42.3,544.2 C46.3,543.9 59.6,543.6 66.3,542.7 C73.0,541.8 78.3,539.8 82.3,538.8 C86.3,537.8 87.7,538.1 90.3,536.5 C93.0,534.8 95.7,531.8 98.3,528.7 C101.0,525.6 103.7,522.8 106.3,517.9 C109.0,513.0 111.7,504.8 114.4,499.4 C117.0,493.9 119.7,490.1 122.4,485.4 C125.0,480.8 127.7,475.6 130.4,471.5 C133.0,467.4 135.7,463.4 138.4,460.7 C141.0,458.0 143.7,456.8 146.4,455.3 C149.0,453.7 151.7,452.7 154.4,451.4 C157.0,450.1 159.7,448.8 162.4,447.6 C165.0,446.3 167.7,445.0 170.4,443.7 C173.1,442.4 175.7,441.1 178.4,439.8 C181.1,438.5 185.1,436.6 186.4,436.0" fill="none" stroke="rgb(237, 177, 32)" stroke-width="1"/>
<circle cx="42.3" cy="544.2" r="1.3" fill="rgb(237, 177, 32)" stroke="#333" stroke-width="0.3"/>
<circle cx="66.3" cy="542.7" r="1.3" fill="rgb(237, 177, 32)" stroke="#333" stroke-width="0.3"/>
<circle cx="82.3" cy="538.8" r="1.3" fill="rgb(237, 177, 32)" stroke="#333" stroke-width="0.3"/>
<circle cx="90.3" cy="536.5" r="1.3" fill="rgb(237, 177, 32)" stroke="#333" stroke-width="0.3"/>
<circle cx="98.3" cy="528.7" r="1.3" fill="rgb(237, 177, 32)" stroke="#333" stroke-width="0.3"/>
<circle cx="106.3" cy="517.9" r="1.3" fill="rgb(237, 177, 32)" stroke="#333" stroke-width="0.3"/>
<circle cx="114.4" cy="499.4" r="1.3" fill="rgb(237, 177, 32)" stroke="#333" stroke-width="0.3"/>
<circle cx="122.4" cy="485.4" r="1.3" fill="rgb(237, 177, 32)" stroke="#333" stroke-width="0.3"/>
<circle cx="130.4" cy="471.5" r="1.3" fill="rgb(237, 177, 32)" stroke="#333" stroke-width="0.3"/>
<circle cx="138.4" cy="460.7" r="1.3" fill="rgb(237, 177, 32)" stroke="#333" stroke-width="0.3"/>
<circle cx="146.4" cy="455.3" r="1.3" fill="rgb(237, 177, 32)" stroke="#333" stroke-width="0.3"/>
<circle cx="154.4" cy="451.4" r="1.3" fill="rgb(237, 177, 32)" stroke="#333" stroke-width="0.3"/>
<circle cx="162.4" cy="447.6" r="1.3" fill="rgb(237, 177, 32)" stroke="#333" stroke-width="0.3"/>
<circle cx="170.4" cy="443.7" r="1.3" fill="rgb(237, 177, 32)" stroke="#333" stroke-width="0.3"/>
<circle cx="178.4" cy="439.8" r="1.3" fill="rgb(237, 177, 32)" stroke="#333" stroke-width="0.3"/>
<circle cx="186.4" cy="436.0" r="1.3" fill="rgb(237, 177, 32)" stroke="#333" stroke-width="0.3"/>
<path d="M42.3,544.2 C46.3,543.9 59.6,543.6 66.3,542.7 C73.0,541.8 78.3,539.8 82.3,538.8 C86.3,537.8 87.7,538.1 90.3,536.5 C93.0,534.8 95.7,531.8 98.3,528.7 C101.0,525.6 103.7,523.1 106.3,517.9 C109.0,512.8 111.7,504.5 114.4,497.8 C117.0,491.1 119.7,483.9 122.4,477.7 C125.0,471.5 127.7,465.6 130.4,460.7 C133.0,455.8 135.7,451.6 138.4,448.3 C141.0,445.1 143.7,443.0 146.4,441.4 C149.0,439.7 151.7,439.3 154.4,438.3 C157.0,437.3 159.7,436.2 162.4,435.2 C165.0,434.2 167.7,433.1 170.4,432.1 C173.1,431.1 175.7,429.9 178.4,429.0 C181.1,428.1 185.1,427.1 186.4,426.7" fill="none" stroke="rgb(217, 83, 25)" stroke-width="1"/>
<circle cx="42.3" cy="544.2" r="1.3" fill="rgb(217, 83, 25)" stroke="#333" stroke-width="0.3"/>
<circle cx="66.3" cy="542.7" r="1.3" fill="rgb(217, 83, 25)" stroke="#333" stroke-width="0.3"/>
<circle cx="82.3" cy="538.8" r="1.3" fill="rgb(217, 83, 25)" stroke="#333" stroke-width="0.3"/>
<circle cx="90.3" cy="536.5" r="1.3" fill="rgb(217, 83, 25)" stroke="#333" stroke-width="0.3"/>
<circle cx="98.3" cy="528.7" r="1.3" fill="rgb(217, 83, 25)" stroke="#333" stroke-width="0.3"/>
<circle cx="106.3" cy="517.9" r="1.3" fill="rgb(217, 83, 25)" stroke="#333" stroke-width="0.3"/>
<circle cx="114.4" cy="497.8" r="1.3" fill="rgb(217, 83, 25)" stroke="#333" stroke-width="0.3"/>
<circle cx="122.4" cy="477.7" r="1.3" fill="rgb(217, 83, 25)" stroke="#333" stroke-width="0.3"/>
<circle cx="130.4" cy="460.7" r="1.3" fill="rgb(217, 83, 25)" stroke="#333" stroke-width="0.3"/>
<circle cx="138.4" cy="448.3" r="1.3" fill="rgb(217, 83, 25)" stroke="#333" stroke-width="0.3"/>
<circle cx="146.4" cy="441.4" r="1.3" fill="rgb(217, 83, 25)" stroke="#333" stroke-width="0.3"/>
<circle cx="154.4" cy="438.3" r="1.3" fill="rgb(217, 83, 25)" stroke="#333" stroke-width="0.3"/>
<circle cx="162.4" cy="435.2" r="1.3" fill="rgb(217, 83, 25)" stroke="#333" stroke-width="0.3"/>
<circle cx="170.4" cy="432.1" r="1.3" fill="rgb(217, 83, 25)" stroke="#333" stroke-width="0.3"/>
<circle cx="178.4" cy="429.0" r="1.3" fill="rgb(217, 83, 25)" stroke="#333" stroke-width="0.3"/>
<circle cx="186.4" cy="426.7" r="1.3" fill="rgb(217, 83, 25)" stroke="#333" stroke-width="0.3"/>
<line x1="48.5" y1="433.7" x2="62" y2="433.7" stroke="rgb(0, 114, 189)" stroke-width="1.3"/>
<text x="65.3" y="436.5" font-family="Liberation Sans, sans-serif" font-weight="bold" font-size="8" fill="#222">1</text>
<line x1="48.5" y1="441.4" x2="62" y2="441.4" stroke="rgb(217, 83, 25)" stroke-width="1.3"/>
<text x="65.3" y="444.2" font-family="Liberation Sans, sans-serif" font-weight="bold" font-size="8" fill="#222">2</text>
<line x1="48.5" y1="449.2" x2="62" y2="449.2" stroke="rgb(237, 177, 32)" stroke-width="1.3"/>
<text x="65.3" y="452.0" font-family="Liberation Sans, sans-serif" font-weight="bold" font-size="8" fill="#222">3</text>
<line x1="48.5" y1="456.9" x2="62" y2="456.9" stroke="rgb(126, 47, 142)" stroke-width="1.3"/>
<text x="65.3" y="459.8" font-family="Liberation Sans, sans-serif" font-weight="bold" font-size="8" fill="#222">4</text>
<line x1="48.5" y1="464.7" x2="62" y2="464.7" stroke="rgb(119, 172, 48)" stroke-width="1.3"/>
<text x="65.3" y="467.5" font-family="Liberation Sans, sans-serif" font-weight="bold" font-size="8" fill="#222">5</text>
<line x1="48.5" y1="472.4" x2="62" y2="472.4" stroke="rgb(77, 190, 238)" stroke-width="1.3"/>
<text x="65.3" y="475.2" font-family="Liberation Sans, sans-serif" font-weight="bold" font-size="8" fill="#222">6</text>
<line x1="48.5" y1="480.2" x2="62" y2="480.2" stroke="rgb(162, 20, 47)" stroke-width="1.3"/>
<text x="65.3" y="483.0" font-family="Liberation Sans, sans-serif" font-weight="bold" font-size="8" fill="#222">7</text>
<g transform="translate(20.3,484) rotate(-90)"><text x="0" y="0" font-family="Liberation Sans, sans-serif" font-weight="bold" font-size="8.5" fill="#222" text-anchor="middle">d<tspan font-size="6.5" dy="2.5" dx="-0.5">ij</tspan><tspan font-size="7.5" dy="-7" dx="-4">resolved−centered</tspan><tspan font-size="8" dy="4.5"> (nm)</tspan></text></g>
<text x="8.3" y="422.3" font-family="Liberation Sans, sans-serif" font-weight="bold" font-size="16" fill="#111">(f)</text>
<rect x="277.3" y="422.8" width="158.09999999999997" height="122.19999999999999" fill="#fff" stroke="#555" stroke-width="0.8"/>
<line x1="277.3" y1="545.0" x2="278.8" y2="545.0" stroke="#555" stroke-width="0.6"/>
<text x="274.8" y="547.6" font-family="Liberation Sans, sans-serif" font-size="7" fill="#222" text-anchor="end">0</text>
<line x1="277.3" y1="524.6" x2="278.8" y2="524.6" stroke="#555" stroke-width="0.6"/>
<text x="274.8" y="527.2" font-family="Liberation Sans, sans-serif" font-size="7" fill="#222" text-anchor="end">50</text>
<line x1="277.3" y1="504.3" x2="278.8" y2="504.3" stroke="#555" stroke-width="0.6"/>
<text x="274.8" y="506.9" font-family="Liberation Sans, sans-serif" font-size="7" fill="#222" text-anchor="end">100</text>
<line x1="277.3" y1="483.9" x2="278.8" y2="483.9" stroke="#555" stroke-width="0.6"/>
<text x="274.8" y="486.5" font-family="Liberation Sans, sans-serif" font-size="7" fill="#222" text-anchor="end">150</text>
<line x1="277.3" y1="463.5" x2="278.8" y2="463.5" stroke="#555" stroke-width="0.6"/>
<text x="274.8" y="466.1" font-family="Liberation Sans, sans-serif" font-size="7" fill="#222" text-anchor="end">200</text>
<line x1="277.3" y1="443.2" x2="278.8" y2="443.2" stroke="#555" stroke-width="0.6"/>
<text x="274.8" y="445.8" font-family="Liberation Sans, sans-serif" font-size="7" fill="#222" text-anchor="end">250</text>
<line x1="277.3" y1="422.8" x2="278.8" y2="422.8" stroke="#555" stroke-width="0.6"/>
<text x="274.8" y="425.4" font-family="Liberation Sans, sans-serif" font-size="7" fill="#222" text-anchor="end">300</text>
<line x1="277.3" y1="545" x2="277.3" y2="543.5" stroke="#555" stroke-width="0.6"/>
<text x="277.3" y="554" font-family="Liberation Sans, sans-serif" font-weight="bold" font-size="7.5" fill="#222" text-anchor="middle">-0.5</text>
<line x1="356.4" y1="545" x2="356.4" y2="543.5" stroke="#555" stroke-width="0.6"/>
<text x="356.4" y="554" font-family="Liberation Sans, sans-serif" font-weight="bold" font-size="7.5" fill="#222" text-anchor="middle">0</text>
<line x1="435.4" y1="545" x2="435.4" y2="543.5" stroke="#555" stroke-width="0.6"/>
<text x="435.4" y="554" font-family="Liberation Sans, sans-serif" font-weight="bold" font-size="7.5" fill="#222" text-anchor="middle">0.5</text>
<text x="356.5" y="563.5" font-family="Liberation Sans, sans-serif" font-weight="bold" font-size="7.6" fill="#222" text-anchor="middle">Distance from GB (μm)</text>
<line x1="326.5" y1="423" x2="326.5" y2="545" stroke="#000" stroke-width="1.1" stroke-dasharray="1,1"/>
<line x1="394.5" y1="423" x2="394.5" y2="545" stroke="#000" stroke-width="1.1" stroke-dasharray="1,1"/>
<path d="M285.2,541.7 C287.8,541.5 297.1,540.6 301.0,540.1 C305.0,539.6 305.0,539.4 308.9,538.9 C312.9,538.3 319.5,537.5 324.7,536.9 C330.0,536.2 336.6,535.4 340.5,534.8 C344.5,534.3 345.8,534.1 348.4,533.6 C351.1,533.1 353.7,531.8 356.4,531.6 C359.0,531.4 361.6,531.9 364.3,532.4 C366.9,532.8 369.5,533.8 372.2,534.4 C374.8,535.0 377.4,535.5 380.1,536.0 C382.7,536.6 384.0,537.0 388.0,537.7 C391.9,538.3 399.8,539.6 403.8,540.1 C407.7,540.7 409.0,540.7 411.7,540.9 C414.3,541.2 417.0,541.4 419.6,541.7 C422.2,542.1 426.2,542.8 427.5,543.0" fill="none" stroke="rgb(162, 20, 47)" stroke-width="1"/>
<circle cx="285.2" cy="541.7" r="1.1" fill="rgb(162, 20, 47)" stroke="#333" stroke-width="0.3"/>
<circle cx="301.0" cy="540.1" r="1.1" fill="rgb(162, 20, 47)" stroke="#333" stroke-width="0.3"/>
<circle cx="308.9" cy="538.9" r="1.1" fill="rgb(162, 20, 47)" stroke="#333" stroke-width="0.3"/>
<circle cx="324.7" cy="536.9" r="1.1" fill="rgb(162, 20, 47)" stroke="#333" stroke-width="0.3"/>
<circle cx="340.5" cy="534.8" r="1.1" fill="rgb(162, 20, 47)" stroke="#333" stroke-width="0.3"/>
<circle cx="348.4" cy="533.6" r="1.1" fill="rgb(162, 20, 47)" stroke="#333" stroke-width="0.3"/>
<circle cx="356.4" cy="531.6" r="1.1" fill="rgb(162, 20, 47)" stroke="#333" stroke-width="0.3"/>
<circle cx="364.3" cy="532.4" r="1.1" fill="rgb(162, 20, 47)" stroke="#333" stroke-width="0.3"/>
<circle cx="372.2" cy="534.4" r="1.1" fill="rgb(162, 20, 47)" stroke="#333" stroke-width="0.3"/>
<circle cx="380.1" cy="536.0" r="1.1" fill="rgb(162, 20, 47)" stroke="#333" stroke-width="0.3"/>
<circle cx="388.0" cy="537.7" r="1.1" fill="rgb(162, 20, 47)" stroke="#333" stroke-width="0.3"/>
<circle cx="403.8" cy="540.1" r="1.1" fill="rgb(162, 20, 47)" stroke="#333" stroke-width="0.3"/>
<circle cx="411.7" cy="540.9" r="1.1" fill="rgb(162, 20, 47)" stroke="#333" stroke-width="0.3"/>
<circle cx="419.6" cy="541.7" r="1.1" fill="rgb(162, 20, 47)" stroke="#333" stroke-width="0.3"/>
<circle cx="427.5" cy="543.0" r="1.1" fill="rgb(162, 20, 47)" stroke="#333" stroke-width="0.3"/>
<path d="M285.2,540.9 C287.8,540.8 297.1,540.5 301.0,540.1 C305.0,539.8 305.0,539.6 308.9,538.9 C312.9,538.2 320.8,537.7 324.7,536.0 C328.7,534.3 330.0,532.0 332.6,528.7 C335.3,525.4 337.9,519.4 340.5,516.5 C343.2,513.6 345.8,512.4 348.4,511.2 C351.1,510.0 353.7,509.3 356.4,509.2 C359.0,509.0 361.6,509.5 364.3,510.4 C366.9,511.3 369.5,512.4 372.2,514.5 C374.8,516.5 377.4,519.9 380.1,522.6 C382.7,525.3 385.3,528.7 388.0,530.7 C390.6,532.8 393.2,533.8 395.9,534.8 C398.5,535.8 401.1,536.2 403.8,536.9 C406.4,537.5 409.0,538.3 411.7,538.9 C414.3,539.4 417.0,539.8 419.6,540.1 C422.2,540.5 426.2,540.8 427.5,540.9" fill="none" stroke="rgb(77, 190, 238)" stroke-width="1"/>
<circle cx="285.2" cy="540.9" r="1.1" fill="rgb(77, 190, 238)" stroke="#333" stroke-width="0.3"/>
<circle cx="301.0" cy="540.1" r="1.1" fill="rgb(77, 190, 238)" stroke="#333" stroke-width="0.3"/>
<circle cx="308.9" cy="538.9" r="1.1" fill="rgb(77, 190, 238)" stroke="#333" stroke-width="0.3"/>
<circle cx="324.7" cy="536.0" r="1.1" fill="rgb(77, 190, 238)" stroke="#333" stroke-width="0.3"/>
<circle cx="332.6" cy="528.7" r="1.1" fill="rgb(77, 190, 238)" stroke="#333" stroke-width="0.3"/>
<circle cx="340.5" cy="516.5" r="1.1" fill="rgb(77, 190, 238)" stroke="#333" stroke-width="0.3"/>
<circle cx="348.4" cy="511.2" r="1.1" fill="rgb(77, 190, 238)" stroke="#333" stroke-width="0.3"/>
<circle cx="356.4" cy="509.2" r="1.1" fill="rgb(77, 190, 238)" stroke="#333" stroke-width="0.3"/>
<circle cx="364.3" cy="510.4" r="1.1" fill="rgb(77, 190, 238)" stroke="#333" stroke-width="0.3"/>
<circle cx="372.2" cy="514.5" r="1.1" fill="rgb(77, 190, 238)" stroke="#333" stroke-width="0.3"/>
<circle cx="380.1" cy="522.6" r="1.1" fill="rgb(77, 190, 238)" stroke="#333" stroke-width="0.3"/>
<circle cx="388.0" cy="530.7" r="1.1" fill="rgb(77, 190, 238)" stroke="#333" stroke-width="0.3"/>
<circle cx="395.9" cy="534.8" r="1.1" fill="rgb(77, 190, 238)" stroke="#333" stroke-width="0.3"/>
<circle cx="403.8" cy="536.9" r="1.1" fill="rgb(77, 190, 238)" stroke="#333" stroke-width="0.3"/>
<circle cx="411.7" cy="538.9" r="1.1" fill="rgb(77, 190, 238)" stroke="#333" stroke-width="0.3"/>
<circle cx="419.6" cy="540.1" r="1.1" fill="rgb(77, 190, 238)" stroke="#333" stroke-width="0.3"/>
<circle cx="427.5" cy="540.9" r="1.1" fill="rgb(77, 190, 238)" stroke="#333" stroke-width="0.3"/>
<path d="M285.2,540.9 C287.8,540.8 297.1,540.4 301.0,540.1 C305.0,539.8 305.0,539.8 308.9,539.3 C312.9,538.8 320.8,537.9 324.7,536.9 C328.7,535.8 330.0,535.2 332.6,532.8 C335.3,530.4 337.9,525.7 340.5,522.6 C343.2,519.5 345.8,516.8 348.4,514.5 C351.1,512.1 353.7,509.8 356.4,508.3 C359.0,506.8 361.6,505.1 364.3,505.5 C366.9,505.8 369.5,508.2 372.2,510.4 C374.8,512.5 377.4,515.8 380.1,518.5 C382.7,521.2 385.3,524.3 388.0,526.7 C390.6,529.0 393.2,531.4 395.9,532.8 C398.5,534.1 401.1,534.1 403.8,534.8 C406.4,535.5 409.0,536.2 411.7,536.9 C414.3,537.5 417.0,538.1 419.6,538.5 C422.2,538.8 426.2,538.8 427.5,538.9" fill="none" stroke="rgb(119, 172, 48)" stroke-width="1"/>
<circle cx="285.2" cy="540.9" r="1.1" fill="rgb(119, 172, 48)" stroke="#333" stroke-width="0.3"/>
<circle cx="301.0" cy="540.1" r="1.1" fill="rgb(119, 172, 48)" stroke="#333" stroke-width="0.3"/>
<circle cx="308.9" cy="539.3" r="1.1" fill="rgb(119, 172, 48)" stroke="#333" stroke-width="0.3"/>
<circle cx="324.7" cy="536.9" r="1.1" fill="rgb(119, 172, 48)" stroke="#333" stroke-width="0.3"/>
<circle cx="332.6" cy="532.8" r="1.1" fill="rgb(119, 172, 48)" stroke="#333" stroke-width="0.3"/>
<circle cx="340.5" cy="522.6" r="1.1" fill="rgb(119, 172, 48)" stroke="#333" stroke-width="0.3"/>
<circle cx="348.4" cy="514.5" r="1.1" fill="rgb(119, 172, 48)" stroke="#333" stroke-width="0.3"/>
<circle cx="356.4" cy="508.3" r="1.1" fill="rgb(119, 172, 48)" stroke="#333" stroke-width="0.3"/>
<circle cx="364.3" cy="505.5" r="1.1" fill="rgb(119, 172, 48)" stroke="#333" stroke-width="0.3"/>
<circle cx="372.2" cy="510.4" r="1.1" fill="rgb(119, 172, 48)" stroke="#333" stroke-width="0.3"/>
<circle cx="380.1" cy="518.5" r="1.1" fill="rgb(119, 172, 48)" stroke="#333" stroke-width="0.3"/>
<circle cx="388.0" cy="526.7" r="1.1" fill="rgb(119, 172, 48)" stroke="#333" stroke-width="0.3"/>
<circle cx="395.9" cy="532.8" r="1.1" fill="rgb(119, 172, 48)" stroke="#333" stroke-width="0.3"/>
<circle cx="403.8" cy="534.8" r="1.1" fill="rgb(119, 172, 48)" stroke="#333" stroke-width="0.3"/>
<circle cx="411.7" cy="536.9" r="1.1" fill="rgb(119, 172, 48)" stroke="#333" stroke-width="0.3"/>
<circle cx="419.6" cy="538.5" r="1.1" fill="rgb(119, 172, 48)" stroke="#333" stroke-width="0.3"/>
<circle cx="427.5" cy="538.9" r="1.1" fill="rgb(119, 172, 48)" stroke="#333" stroke-width="0.3"/>
<path d="M285.2,536.0 C286.5,536.2 289.2,536.7 293.1,536.9 C297.1,537.0 305.0,537.0 308.9,536.9 C312.9,536.7 314.2,536.4 316.8,536.0 C319.5,535.7 322.1,537.4 324.7,534.8 C327.4,532.2 330.0,526.2 332.6,520.6 C335.3,514.9 337.9,506.4 340.5,501.0 C343.2,495.6 345.8,490.7 348.4,488.0 C351.1,485.3 353.7,484.0 356.4,484.7 C359.0,485.4 361.6,488.9 364.3,492.0 C366.9,495.2 369.5,499.7 372.2,503.5 C374.8,507.2 377.4,510.9 380.1,514.5 C382.7,518.0 385.3,522.0 388.0,524.6 C390.6,527.3 393.2,529.0 395.9,530.3 C398.5,531.7 401.1,532.2 403.8,532.8 C406.4,533.3 409.0,533.3 411.7,533.6 C414.3,533.9 417.0,535.3 419.6,534.8 C422.2,534.3 426.2,531.4 427.5,530.7" fill="none" stroke="rgb(0, 114, 189)" stroke-width="1"/>
<circle cx="285.2" cy="536.0" r="1.1" fill="rgb(0, 114, 189)" stroke="#333" stroke-width="0.3"/>
<circle cx="293.1" cy="536.9" r="1.1" fill="rgb(0, 114, 189)" stroke="#333" stroke-width="0.3"/>
<circle cx="308.9" cy="536.9" r="1.1" fill="rgb(0, 114, 189)" stroke="#333" stroke-width="0.3"/>
<circle cx="316.8" cy="536.0" r="1.1" fill="rgb(0, 114, 189)" stroke="#333" stroke-width="0.3"/>
<circle cx="324.7" cy="534.8" r="1.1" fill="rgb(0, 114, 189)" stroke="#333" stroke-width="0.3"/>
<circle cx="332.6" cy="520.6" r="1.1" fill="rgb(0, 114, 189)" stroke="#333" stroke-width="0.3"/>
<circle cx="340.5" cy="501.0" r="1.1" fill="rgb(0, 114, 189)" stroke="#333" stroke-width="0.3"/>
<circle cx="348.4" cy="488.0" r="1.1" fill="rgb(0, 114, 189)" stroke="#333" stroke-width="0.3"/>
<circle cx="356.4" cy="484.7" r="1.1" fill="rgb(0, 114, 189)" stroke="#333" stroke-width="0.3"/>
<circle cx="364.3" cy="492.0" r="1.1" fill="rgb(0, 114, 189)" stroke="#333" stroke-width="0.3"/>
<circle cx="372.2" cy="503.5" r="1.1" fill="rgb(0, 114, 189)" stroke="#333" stroke-width="0.3"/>
<circle cx="380.1" cy="514.5" r="1.1" fill="rgb(0, 114, 189)" stroke="#333" stroke-width="0.3"/>
<circle cx="388.0" cy="524.6" r="1.1" fill="rgb(0, 114, 189)" stroke="#333" stroke-width="0.3"/>
<circle cx="395.9" cy="530.3" r="1.1" fill="rgb(0, 114, 189)" stroke="#333" stroke-width="0.3"/>
<circle cx="403.8" cy="532.8" r="1.1" fill="rgb(0, 114, 189)" stroke="#333" stroke-width="0.3"/>
<circle cx="411.7" cy="533.6" r="1.1" fill="rgb(0, 114, 189)" stroke="#333" stroke-width="0.3"/>
<circle cx="419.6" cy="534.8" r="1.1" fill="rgb(0, 114, 189)" stroke="#333" stroke-width="0.3"/>
<circle cx="427.5" cy="530.7" r="1.1" fill="rgb(0, 114, 189)" stroke="#333" stroke-width="0.3"/>
<path d="M285.2,536.9 C286.5,537.0 289.2,537.8 293.1,537.7 C297.1,537.5 305.0,537.2 308.9,536.0 C312.9,534.9 314.2,533.3 316.8,530.7 C319.5,528.2 322.1,523.3 324.7,520.6 C327.4,517.8 330.0,518.7 332.6,514.5 C335.3,510.2 337.9,500.1 340.5,495.3 C343.2,490.6 345.8,487.0 348.4,485.9 C351.1,484.9 353.7,487.0 356.4,488.8 C359.0,490.6 361.6,493.5 364.3,496.9 C366.9,500.3 369.5,505.2 372.2,509.2 C374.8,513.1 377.4,517.4 380.1,520.6 C382.7,523.7 385.3,526.1 388.0,527.9 C390.6,529.7 393.2,530.3 395.9,531.2 C398.5,532.0 401.1,532.3 403.8,532.8 C406.4,533.3 409.0,533.7 411.7,534.0 C414.3,534.3 417.0,535.7 419.6,534.8 C422.2,533.9 426.2,529.7 427.5,528.7" fill="none" stroke="rgb(126, 47, 142)" stroke-width="1"/>
<circle cx="285.2" cy="536.9" r="1.1" fill="rgb(126, 47, 142)" stroke="#333" stroke-width="0.3"/>
<circle cx="293.1" cy="537.7" r="1.1" fill="rgb(126, 47, 142)" stroke="#333" stroke-width="0.3"/>
<circle cx="308.9" cy="536.0" r="1.1" fill="rgb(126, 47, 142)" stroke="#333" stroke-width="0.3"/>
<circle cx="316.8" cy="530.7" r="1.1" fill="rgb(126, 47, 142)" stroke="#333" stroke-width="0.3"/>
<circle cx="324.7" cy="520.6" r="1.1" fill="rgb(126, 47, 142)" stroke="#333" stroke-width="0.3"/>
<circle cx="332.6" cy="514.5" r="1.1" fill="rgb(126, 47, 142)" stroke="#333" stroke-width="0.3"/>
<circle cx="340.5" cy="495.3" r="1.1" fill="rgb(126, 47, 142)" stroke="#333" stroke-width="0.3"/>
<circle cx="348.4" cy="485.9" r="1.1" fill="rgb(126, 47, 142)" stroke="#333" stroke-width="0.3"/>
<circle cx="356.4" cy="488.8" r="1.1" fill="rgb(126, 47, 142)" stroke="#333" stroke-width="0.3"/>
<circle cx="364.3" cy="496.9" r="1.1" fill="rgb(126, 47, 142)" stroke="#333" stroke-width="0.3"/>
<circle cx="372.2" cy="509.2" r="1.1" fill="rgb(126, 47, 142)" stroke="#333" stroke-width="0.3"/>
<circle cx="380.1" cy="520.6" r="1.1" fill="rgb(126, 47, 142)" stroke="#333" stroke-width="0.3"/>
<circle cx="388.0" cy="527.9" r="1.1" fill="rgb(126, 47, 142)" stroke="#333" stroke-width="0.3"/>
<circle cx="395.9" cy="531.2" r="1.1" fill="rgb(126, 47, 142)" stroke="#333" stroke-width="0.3"/>
<circle cx="403.8" cy="532.8" r="1.1" fill="rgb(126, 47, 142)" stroke="#333" stroke-width="0.3"/>
<circle cx="411.7" cy="534.0" r="1.1" fill="rgb(126, 47, 142)" stroke="#333" stroke-width="0.3"/>
<circle cx="419.6" cy="534.8" r="1.1" fill="rgb(126, 47, 142)" stroke="#333" stroke-width="0.3"/>
<circle cx="427.5" cy="528.7" r="1.1" fill="rgb(126, 47, 142)" stroke="#333" stroke-width="0.3"/>
<path d="M285.2,540.9 C287.8,540.8 297.1,540.4 301.0,540.1 C305.0,539.8 306.3,539.7 308.9,539.3 C311.6,538.9 314.2,538.2 316.8,537.7 C319.5,537.1 322.1,537.9 324.7,536.0 C327.4,534.2 330.0,532.0 332.6,526.7 C335.3,521.4 337.9,512.8 340.5,504.3 C343.2,495.8 345.8,483.1 348.4,475.8 C351.1,468.4 353.7,462.0 356.4,460.3 C359.0,458.6 361.6,462.3 364.3,465.6 C366.9,468.8 369.5,474.1 372.2,479.8 C374.8,485.6 377.4,494.4 380.1,500.2 C382.7,506.0 385.3,510.7 388.0,514.5 C390.6,518.2 393.2,520.9 395.9,522.6 C398.5,524.3 401.1,524.0 403.8,524.6 C406.4,525.3 409.0,526.0 411.7,526.7 C414.3,527.3 417.0,529.7 419.6,528.7 C422.2,527.7 426.2,521.9 427.5,520.6" fill="none" stroke="rgb(237, 177, 32)" stroke-width="1"/>
<circle cx="285.2" cy="540.9" r="1.1" fill="rgb(237, 177, 32)" stroke="#333" stroke-width="0.3"/>
<circle cx="301.0" cy="540.1" r="1.1" fill="rgb(237, 177, 32)" stroke="#333" stroke-width="0.3"/>
<circle cx="308.9" cy="539.3" r="1.1" fill="rgb(237, 177, 32)" stroke="#333" stroke-width="0.3"/>
<circle cx="316.8" cy="537.7" r="1.1" fill="rgb(237, 177, 32)" stroke="#333" stroke-width="0.3"/>
<circle cx="324.7" cy="536.0" r="1.1" fill="rgb(237, 177, 32)" stroke="#333" stroke-width="0.3"/>
<circle cx="332.6" cy="526.7" r="1.1" fill="rgb(237, 177, 32)" stroke="#333" stroke-width="0.3"/>
<circle cx="340.5" cy="504.3" r="1.1" fill="rgb(237, 177, 32)" stroke="#333" stroke-width="0.3"/>
<circle cx="348.4" cy="475.8" r="1.1" fill="rgb(237, 177, 32)" stroke="#333" stroke-width="0.3"/>
<circle cx="356.4" cy="460.3" r="1.1" fill="rgb(237, 177, 32)" stroke="#333" stroke-width="0.3"/>
<circle cx="364.3" cy="465.6" r="1.1" fill="rgb(237, 177, 32)" stroke="#333" stroke-width="0.3"/>
<circle cx="372.2" cy="479.8" r="1.1" fill="rgb(237, 177, 32)" stroke="#333" stroke-width="0.3"/>
<circle cx="380.1" cy="500.2" r="1.1" fill="rgb(237, 177, 32)" stroke="#333" stroke-width="0.3"/>
<circle cx="388.0" cy="514.5" r="1.1" fill="rgb(237, 177, 32)" stroke="#333" stroke-width="0.3"/>
<circle cx="395.9" cy="522.6" r="1.1" fill="rgb(237, 177, 32)" stroke="#333" stroke-width="0.3"/>
<circle cx="403.8" cy="524.6" r="1.1" fill="rgb(237, 177, 32)" stroke="#333" stroke-width="0.3"/>
<circle cx="411.7" cy="526.7" r="1.1" fill="rgb(237, 177, 32)" stroke="#333" stroke-width="0.3"/>
<circle cx="419.6" cy="528.7" r="1.1" fill="rgb(237, 177, 32)" stroke="#333" stroke-width="0.3"/>
<circle cx="427.5" cy="520.6" r="1.1" fill="rgb(237, 177, 32)" stroke="#333" stroke-width="0.3"/>
<path d="M285.2,540.9 C287.8,540.8 297.1,540.5 301.0,540.1 C305.0,539.8 306.3,539.4 308.9,538.9 C311.6,538.3 314.2,537.5 316.8,536.9 C319.5,536.2 322.1,536.9 324.7,534.8 C327.4,532.8 330.0,530.4 332.6,524.6 C335.3,518.9 337.9,510.7 340.5,500.2 C343.2,489.7 345.8,471.3 348.4,461.5 C351.1,451.7 354.2,444.7 356.4,441.1 C358.5,437.5 359.5,439.6 361.1,439.9 C362.7,440.2 364.0,439.6 365.8,443.2 C367.7,446.8 369.8,453.2 372.2,461.5 C374.5,469.8 377.4,484.4 380.1,492.9 C382.7,501.3 385.3,507.3 388.0,512.4 C390.6,517.6 393.2,521.2 395.9,523.8 C398.5,526.4 401.1,526.8 403.8,527.9 C406.4,529.0 409.0,529.5 411.7,530.3 C414.3,531.2 417.0,532.6 419.6,532.8 C422.2,533.0 426.2,531.8 427.5,531.6" fill="none" stroke="rgb(217, 83, 25)" stroke-width="1"/>
<circle cx="285.2" cy="540.9" r="1.1" fill="rgb(217, 83, 25)" stroke="#333" stroke-width="0.3"/>
<circle cx="301.0" cy="540.1" r="1.1" fill="rgb(217, 83, 25)" stroke="#333" stroke-width="0.3"/>
<circle cx="308.9" cy="538.9" r="1.1" fill="rgb(217, 83, 25)" stroke="#333" stroke-width="0.3"/>
<circle cx="316.8" cy="536.9" r="1.1" fill="rgb(217, 83, 25)" stroke="#333" stroke-width="0.3"/>
<circle cx="324.7" cy="534.8" r="1.1" fill="rgb(217, 83, 25)" stroke="#333" stroke-width="0.3"/>
<circle cx="332.6" cy="524.6" r="1.1" fill="rgb(217, 83, 25)" stroke="#333" stroke-width="0.3"/>
<circle cx="340.5" cy="500.2" r="1.1" fill="rgb(217, 83, 25)" stroke="#333" stroke-width="0.3"/>
<circle cx="348.4" cy="461.5" r="1.1" fill="rgb(217, 83, 25)" stroke="#333" stroke-width="0.3"/>
<circle cx="356.4" cy="441.1" r="1.1" fill="rgb(217, 83, 25)" stroke="#333" stroke-width="0.3"/>
<circle cx="361.1" cy="439.9" r="1.1" fill="rgb(217, 83, 25)" stroke="#333" stroke-width="0.3"/>
<circle cx="365.8" cy="443.2" r="1.1" fill="rgb(217, 83, 25)" stroke="#333" stroke-width="0.3"/>
<circle cx="372.2" cy="461.5" r="1.1" fill="rgb(217, 83, 25)" stroke="#333" stroke-width="0.3"/>
<circle cx="380.1" cy="492.9" r="1.1" fill="rgb(217, 83, 25)" stroke="#333" stroke-width="0.3"/>
<circle cx="388.0" cy="512.4" r="1.1" fill="rgb(217, 83, 25)" stroke="#333" stroke-width="0.3"/>
<circle cx="395.9" cy="523.8" r="1.1" fill="rgb(217, 83, 25)" stroke="#333" stroke-width="0.3"/>
<circle cx="403.8" cy="527.9" r="1.1" fill="rgb(217, 83, 25)" stroke="#333" stroke-width="0.3"/>
<circle cx="411.7" cy="530.3" r="1.1" fill="rgb(217, 83, 25)" stroke="#333" stroke-width="0.3"/>
<circle cx="419.6" cy="532.8" r="1.1" fill="rgb(217, 83, 25)" stroke="#333" stroke-width="0.3"/>
<circle cx="427.5" cy="531.6" r="1.1" fill="rgb(217, 83, 25)" stroke="#333" stroke-width="0.3"/>
<text x="282.5" y="434.5" font-family="Liberation Sans, sans-serif" font-weight="bold" font-size="12" fill="#111">Peak analysis</text>
<g transform="translate(261.3,486) rotate(-90)"><text x="0" y="0" font-family="Liberation Sans, sans-serif" font-size="8" fill="#222" text-anchor="middle">1st derivative</text></g>
<text x="235.8" y="422" font-family="Liberation Sans, sans-serif" font-weight="bold" font-size="15.5" fill="#111">(g)</text>
<text x="210.8" y="472.7" font-family="Liberation Sans, sans-serif" font-weight="bold" font-size="10.3" fill="rgb(78,112,178)">Derive</text>
<polygon points="199.9,477.6 241.9,477.6 241.9,475.1 252.2,480.3 241.9,485.5 241.9,483 199.9,483" fill="rgb(72,112,200)" stroke="rgb(40,70,150)" stroke-width="0.6"/>
<polygon points="251,497.1 209.6,497.1 209.6,494.6 199.3,499.8 209.6,505 209.6,502.5 251,502.5" fill="rgb(72,112,200)" stroke="rgb(40,70,150)" stroke-width="0.6"/>
<text x="201.7" y="515.9" font-family="Liberation Sans, sans-serif" font-weight="bold" font-size="10.3" fill="rgb(78,112,178)">Peak width</text>
<rect x="493.5" y="416" width="156.5" height="126.39999999999998" fill="#fff" stroke="#555" stroke-width="0.7"/>
<line x1="490.0" y1="542.4" x2="493.5" y2="542.4" stroke="#555" stroke-width="0.6"/>
<text x="488.5" y="544.9" font-family="Liberation Sans, sans-serif" font-weight="bold" font-size="7" fill="#222" text-anchor="end">0</text>
<line x1="490.0" y1="510.8" x2="493.5" y2="510.8" stroke="#555" stroke-width="0.6"/>
<text x="488.5" y="513.3" font-family="Liberation Sans, sans-serif" font-weight="bold" font-size="7" fill="#222" text-anchor="end">20</text>
<line x1="490.0" y1="479.2" x2="493.5" y2="479.2" stroke="#555" stroke-width="0.6"/>
<text x="488.5" y="481.7" font-family="Liberation Sans, sans-serif" font-weight="bold" font-size="7" fill="#222" text-anchor="end">40</text>
<line x1="490.0" y1="447.6" x2="493.5" y2="447.6" stroke="#555" stroke-width="0.6"/>
<text x="488.5" y="450.1" font-family="Liberation Sans, sans-serif" font-weight="bold" font-size="7" fill="#222" text-anchor="end">60</text>
<line x1="490.0" y1="416.0" x2="493.5" y2="416.0" stroke="#555" stroke-width="0.6"/>
<text x="488.5" y="418.5" font-family="Liberation Sans, sans-serif" font-weight="bold" font-size="7" fill="#222" text-anchor="end">80</text>
<line x1="491.5" y1="526.6" x2="493.5" y2="526.6" stroke="#555" stroke-width="0.5"/>
<line x1="491.5" y1="495.0" x2="493.5" y2="495.0" stroke="#555" stroke-width="0.5"/>
<line x1="491.5" y1="463.4" x2="493.5" y2="463.4" stroke="#555" stroke-width="0.5"/>
<line x1="491.5" y1="431.8" x2="493.5" y2="431.8" stroke="#555" stroke-width="0.5"/>
<line x1="504.6" y1="542.4" x2="504.6" y2="544.9" stroke="#555" stroke-width="0.6"/>
<text x="504.6" y="552.4" font-family="Liberation Sans, sans-serif" font-weight="bold" font-size="7" fill="#222" text-anchor="middle">0</text>
<line x1="526.7" y1="542.4" x2="526.7" y2="544.9" stroke="#555" stroke-width="0.6"/>
<text x="526.7" y="552.4" font-family="Liberation Sans, sans-serif" font-weight="bold" font-size="7" fill="#222" text-anchor="middle">2</text>
<line x1="548.8" y1="542.4" x2="548.8" y2="544.9" stroke="#555" stroke-width="0.6"/>
<text x="548.8" y="552.4" font-family="Liberation Sans, sans-serif" font-weight="bold" font-size="7" fill="#222" text-anchor="middle">4</text>
<line x1="570.9" y1="542.4" x2="570.9" y2="544.9" stroke="#555" stroke-width="0.6"/>
<text x="570.9" y="552.4" font-family="Liberation Sans, sans-serif" font-weight="bold" font-size="7" fill="#222" text-anchor="middle">6</text>
<line x1="593.0" y1="542.4" x2="593.0" y2="544.9" stroke="#555" stroke-width="0.6"/>
<text x="593.0" y="552.4" font-family="Liberation Sans, sans-serif" font-weight="bold" font-size="7" fill="#222" text-anchor="middle">8</text>
<line x1="615.1" y1="542.4" x2="615.1" y2="544.9" stroke="#555" stroke-width="0.6"/>
<text x="615.1" y="552.4" font-family="Liberation Sans, sans-serif" font-weight="bold" font-size="7" fill="#222" text-anchor="middle">10</text>
<line x1="637.2" y1="542.4" x2="637.2" y2="544.9" stroke="#555" stroke-width="0.6"/>
<text x="637.2" y="552.4" font-family="Liberation Sans, sans-serif" font-weight="bold" font-size="7" fill="#222" text-anchor="middle">12</text>
<line x1="515.6" y1="542.4" x2="515.6" y2="543.9" stroke="#555" stroke-width="0.5"/>
<line x1="537.8" y1="542.4" x2="537.8" y2="543.9" stroke="#555" stroke-width="0.5"/>
<line x1="559.9" y1="542.4" x2="559.9" y2="543.9" stroke="#555" stroke-width="0.5"/>
<line x1="582.0" y1="542.4" x2="582.0" y2="543.9" stroke="#555" stroke-width="0.5"/>
<line x1="604.1" y1="542.4" x2="604.1" y2="543.9" stroke="#555" stroke-width="0.5"/>
<line x1="626.2" y1="542.4" x2="626.2" y2="543.9" stroke="#555" stroke-width="0.5"/>
<text x="571.8" y="565.2" font-family="Liberation Sans, sans-serif" font-weight="bold" font-size="8.4" fill="#222" text-anchor="middle">Distance (μm)</text>
<g transform="translate(478.3,482.5) rotate(-90)"><text x="0" y="0" font-family="Liberation Sans, sans-serif" font-weight="bold" font-size="7.6" fill="#222" text-anchor="middle">Grain boundary sliding (nm)</text></g>
<path d="M504.5,468.9 C509.6,464.4 519.6,448.8 529.9,446.2 C540.2,443.6 545.7,451.3 555.8,455.7 C565.9,460.1 570.8,459.4 580.2,468.3 C589.6,477.2 594.4,494.1 603.0,500.2 C611.6,506.3 615.5,494.9 623.4,498.8 C631.3,502.7 638.8,515.4 642.7,519.5" fill="none" stroke="#333" stroke-width="0.9"/>
<circle cx="504.5" cy="468.9" r="3" fill="rgb(0, 114, 189)"/>
<text x="504.5" y="464.4" font-family="Liberation Sans, sans-serif" font-weight="bold" font-size="8.5" fill="#111" text-anchor="middle">1</text>
<circle cx="529.9" cy="446.2" r="3" fill="rgb(217, 83, 25)"/>
<text x="529.9" y="441.7" font-family="Liberation Sans, sans-serif" font-weight="bold" font-size="8.5" fill="#111" text-anchor="middle">2</text>
<circle cx="555.8" cy="455.7" r="3" fill="rgb(237, 177, 32)"/>
<text x="555.8" y="451.2" font-family="Liberation Sans, sans-serif" font-weight="bold" font-size="8.5" fill="#111" text-anchor="middle">3</text>
<circle cx="580.2" cy="468.3" r="3" fill="rgb(126, 47, 142)"/>
<text x="580.2" y="463.8" font-family="Liberation Sans, sans-serif" font-weight="bold" font-size="8.5" fill="#111" text-anchor="middle">4</text>
<circle cx="603" cy="500.2" r="3" fill="rgb(119, 172, 48)"/>
<text x="603" y="495.7" font-family="Liberation Sans, sans-serif" font-weight="bold" font-size="8.5" fill="#111" text-anchor="middle">5</text>
<circle cx="623.4" cy="498.8" r="3" fill="rgb(77, 190, 238)"/>
<text x="623.4" y="494.3" font-family="Liberation Sans, sans-serif" font-weight="bold" font-size="8.5" fill="#111" text-anchor="middle">6</text>
<circle cx="642.7" cy="519.5" r="3" fill="rgb(162, 20, 47)"/>
<text x="642.7" y="515.0" font-family="Liberation Sans, sans-serif" font-weight="bold" font-size="8.5" fill="#111" text-anchor="middle">7</text>
<text x="451" y="421.5" font-family="Liberation Sans, sans-serif" font-weight="bold" font-size="16.5" fill="#111">(h)</text>
<polygon points="446.6,488.3 457.5,488.3 457.5,485.8 467.9,490.8 457.5,495.8 457.5,493.3 446.6,493.3" fill="rgb(72,112,200)" stroke="rgb(40,70,150)" stroke-width="0.6"/>
</svg></body></html>
